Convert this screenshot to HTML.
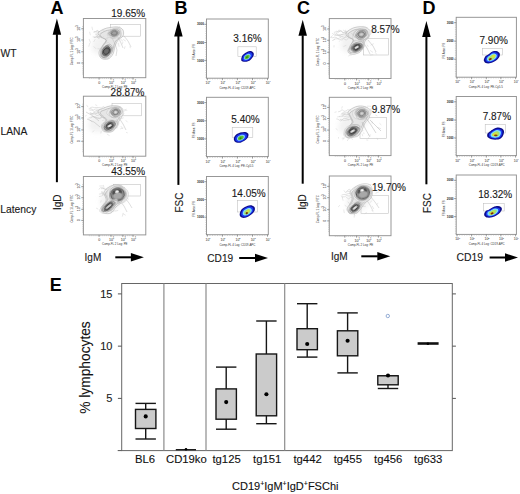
<!DOCTYPE html>
<html><head><meta charset="utf-8"><style>
html,body{margin:0;padding:0;background:#fff;}
body{width:520px;height:494px;overflow:hidden;}
svg{display:block;font-family:"Liberation Sans", sans-serif;}
</style></head><body>
<svg width="520" height="494" viewBox="0 0 520 494">
<defs>
<filter id="bl" x="-50%" y="-50%" width="200%" height="200%"><feGaussianBlur stdDeviation="2.5"/></filter>
<filter id="bs" x="-50%" y="-50%" width="200%" height="200%"><feGaussianBlur stdDeviation="0.45"/></filter>
</defs>
<rect width="520" height="494" fill="#fff"/>
<text x="50.5" y="13.8" font-size="18" font-weight="bold" fill="#000" text-anchor="start"  >A</text>
<text x="174.5" y="13.8" font-size="18" font-weight="bold" fill="#000" text-anchor="start"  >B</text>
<text x="297" y="13.8" font-size="18" font-weight="bold" fill="#000" text-anchor="start"  >C</text>
<text x="422.5" y="13.8" font-size="18" font-weight="bold" fill="#000" text-anchor="start"  >D</text>
<text x="49.8" y="290.8" font-size="18" font-weight="bold" fill="#000" text-anchor="start"  >E</text>
<text x="0.5" y="56.8" font-size="10.3" font-weight="normal" fill="#1a1a1a" text-anchor="start" stroke="#1a1a1a" stroke-width="0.12" >WT</text>
<text x="0.5" y="134.8" font-size="10.3" font-weight="normal" fill="#1a1a1a" text-anchor="start" stroke="#1a1a1a" stroke-width="0.12" >LANA</text>
<text x="0.3" y="212.6" font-size="10.3" font-weight="normal" fill="#1a1a1a" text-anchor="start" stroke="#1a1a1a" stroke-width="0.12" >Latency</text>
<path d="M56.9,18.5 L61.15,34.7 L52.65,34.7 Z" fill="#000"/>
<rect x="55.9" y="34.2" width="2" height="148.0" fill="#000"/>
<path d="M178.4,20.6 L182.65,36.5 L174.15,36.5 Z" fill="#000"/>
<rect x="177.4" y="36.0" width="2" height="148.9" fill="#000"/>
<path d="M302.7,19.8 L306.95,35.8 L298.45,35.8 Z" fill="#000"/>
<rect x="301.7" y="35.3" width="2" height="148.39999999999998" fill="#000"/>
<path d="M426.4,21.0 L430.65,37.0 L422.15,37.0 Z" fill="#000"/>
<rect x="425.4" y="36.5" width="2" height="147.8" fill="#000"/>
<text transform="translate(60.6,202.2) rotate(-90)" font-size="10" fill="#1a1a1a" text-anchor="middle" stroke="#1a1a1a" stroke-width="0.12">IgD</text>
<text transform="translate(183.2,202.6) rotate(-90)" font-size="10" fill="#1a1a1a" text-anchor="middle" stroke="#1a1a1a" stroke-width="0.12">FSC</text>
<text transform="translate(306.2,202.0) rotate(-90)" font-size="10" fill="#1a1a1a" text-anchor="middle" stroke="#1a1a1a" stroke-width="0.12">IgD</text>
<text transform="translate(431.2,203.0) rotate(-90)" font-size="10" fill="#1a1a1a" text-anchor="middle" stroke="#1a1a1a" stroke-width="0.12">FSC</text>
<text x="84.6" y="260.9" font-size="10" font-weight="normal" fill="#1a1a1a" text-anchor="start" stroke="#1a1a1a" stroke-width="0.12" >IgM</text>
<rect x="115.3" y="256.3" width="16.10000000000001" height="2" fill="#000"/>
<path d="M143.9,257.3 L130.9,253.05 L130.9,261.55 Z" fill="#000"/>
<text x="207.3" y="261.6" font-size="10.1" font-weight="normal" fill="#1a1a1a" text-anchor="start" stroke="#1a1a1a" stroke-width="0.12" >CD19</text>
<rect x="239.2" y="257.0" width="16.30000000000001" height="2" fill="#000"/>
<path d="M268.0,258.0 L255.0,253.75 L255.0,262.25 Z" fill="#000"/>
<text x="331.0" y="259.9" font-size="10" font-weight="normal" fill="#1a1a1a" text-anchor="start" stroke="#1a1a1a" stroke-width="0.12" >IgM</text>
<rect x="361.3" y="255.3" width="16.5" height="2" fill="#000"/>
<path d="M390.3,256.3 L377.3,252.05 L377.3,260.55 Z" fill="#000"/>
<text x="456.4" y="260.8" font-size="10.4" font-weight="normal" fill="#1a1a1a" text-anchor="start" stroke="#1a1a1a" stroke-width="0.12" >CD19</text>
<rect x="489.6" y="256.5" width="15.899999999999977" height="2" fill="#000"/>
<path d="M518.0,257.5 L505.0,253.25 L505.0,261.75 Z" fill="#000"/>
<rect x="83.4" y="18.5" width="62.400000000000006" height="59.2" fill="none" stroke="#929292" stroke-width="0.95"/>
<line x1="89.4" y1="77.7" x2="89.4" y2="79.0" stroke="#aaa" stroke-width="0.45"/>
<line x1="91.3" y1="77.7" x2="91.3" y2="79.0" stroke="#aaa" stroke-width="0.45"/>
<line x1="93.2" y1="77.7" x2="93.2" y2="79.0" stroke="#aaa" stroke-width="0.45"/>
<line x1="95.1" y1="77.7" x2="95.1" y2="79.0" stroke="#aaa" stroke-width="0.45"/>
<line x1="97.0" y1="77.7" x2="97.0" y2="79.0" stroke="#aaa" stroke-width="0.45"/>
<line x1="98.9" y1="77.7" x2="98.9" y2="79.0" stroke="#aaa" stroke-width="0.45"/>
<line x1="100.8" y1="77.7" x2="100.8" y2="79.0" stroke="#aaa" stroke-width="0.45"/>
<line x1="102.7" y1="77.7" x2="102.7" y2="79.0" stroke="#aaa" stroke-width="0.45"/>
<line x1="104.6" y1="77.7" x2="104.6" y2="79.0" stroke="#aaa" stroke-width="0.45"/>
<line x1="106.5" y1="77.7" x2="106.5" y2="79.0" stroke="#aaa" stroke-width="0.45"/>
<line x1="108.4" y1="77.7" x2="108.4" y2="79.0" stroke="#aaa" stroke-width="0.45"/>
<line x1="110.3" y1="77.7" x2="110.3" y2="79.0" stroke="#aaa" stroke-width="0.45"/>
<line x1="112.2" y1="77.7" x2="112.2" y2="79.0" stroke="#aaa" stroke-width="0.45"/>
<line x1="114.1" y1="77.7" x2="114.1" y2="79.0" stroke="#aaa" stroke-width="0.45"/>
<line x1="116.0" y1="77.7" x2="116.0" y2="79.0" stroke="#aaa" stroke-width="0.45"/>
<line x1="117.9" y1="77.7" x2="117.9" y2="79.0" stroke="#aaa" stroke-width="0.45"/>
<line x1="119.8" y1="77.7" x2="119.8" y2="79.0" stroke="#aaa" stroke-width="0.45"/>
<line x1="121.7" y1="77.7" x2="121.7" y2="79.0" stroke="#aaa" stroke-width="0.45"/>
<line x1="123.6" y1="77.7" x2="123.6" y2="79.0" stroke="#aaa" stroke-width="0.45"/>
<line x1="125.5" y1="77.7" x2="125.5" y2="79.0" stroke="#aaa" stroke-width="0.45"/>
<line x1="127.4" y1="77.7" x2="127.4" y2="79.0" stroke="#aaa" stroke-width="0.45"/>
<line x1="129.3" y1="77.7" x2="129.3" y2="79.0" stroke="#aaa" stroke-width="0.45"/>
<line x1="131.2" y1="77.7" x2="131.2" y2="79.0" stroke="#aaa" stroke-width="0.45"/>
<line x1="133.1" y1="77.7" x2="133.1" y2="79.0" stroke="#aaa" stroke-width="0.45"/>
<line x1="82.10000000000001" y1="26.5" x2="83.4" y2="26.5" stroke="#aaa" stroke-width="0.45"/>
<line x1="82.10000000000001" y1="28.4" x2="83.4" y2="28.4" stroke="#aaa" stroke-width="0.45"/>
<line x1="82.10000000000001" y1="30.3" x2="83.4" y2="30.3" stroke="#aaa" stroke-width="0.45"/>
<line x1="82.10000000000001" y1="32.2" x2="83.4" y2="32.2" stroke="#aaa" stroke-width="0.45"/>
<line x1="82.10000000000001" y1="34.1" x2="83.4" y2="34.1" stroke="#aaa" stroke-width="0.45"/>
<line x1="82.10000000000001" y1="36.0" x2="83.4" y2="36.0" stroke="#aaa" stroke-width="0.45"/>
<line x1="82.10000000000001" y1="37.9" x2="83.4" y2="37.9" stroke="#aaa" stroke-width="0.45"/>
<line x1="82.10000000000001" y1="39.8" x2="83.4" y2="39.8" stroke="#aaa" stroke-width="0.45"/>
<line x1="82.10000000000001" y1="41.7" x2="83.4" y2="41.7" stroke="#aaa" stroke-width="0.45"/>
<line x1="82.10000000000001" y1="43.6" x2="83.4" y2="43.6" stroke="#aaa" stroke-width="0.45"/>
<line x1="82.10000000000001" y1="45.5" x2="83.4" y2="45.5" stroke="#aaa" stroke-width="0.45"/>
<line x1="82.10000000000001" y1="47.4" x2="83.4" y2="47.4" stroke="#aaa" stroke-width="0.45"/>
<line x1="82.10000000000001" y1="49.3" x2="83.4" y2="49.3" stroke="#aaa" stroke-width="0.45"/>
<line x1="82.10000000000001" y1="51.2" x2="83.4" y2="51.2" stroke="#aaa" stroke-width="0.45"/>
<line x1="82.10000000000001" y1="53.1" x2="83.4" y2="53.1" stroke="#aaa" stroke-width="0.45"/>
<line x1="82.10000000000001" y1="55.0" x2="83.4" y2="55.0" stroke="#aaa" stroke-width="0.45"/>
<line x1="82.10000000000001" y1="56.9" x2="83.4" y2="56.9" stroke="#aaa" stroke-width="0.45"/>
<line x1="82.10000000000001" y1="58.8" x2="83.4" y2="58.8" stroke="#aaa" stroke-width="0.45"/>
<line x1="82.10000000000001" y1="60.7" x2="83.4" y2="60.7" stroke="#aaa" stroke-width="0.45"/>
<line x1="82.10000000000001" y1="62.6" x2="83.4" y2="62.6" stroke="#aaa" stroke-width="0.45"/>
<line x1="82.10000000000001" y1="64.5" x2="83.4" y2="64.5" stroke="#aaa" stroke-width="0.45"/>
<line x1="82.10000000000001" y1="66.4" x2="83.4" y2="66.4" stroke="#aaa" stroke-width="0.45"/>
<line x1="82.10000000000001" y1="68.3" x2="83.4" y2="68.3" stroke="#aaa" stroke-width="0.45"/>
<line x1="82.10000000000001" y1="70.2" x2="83.4" y2="70.2" stroke="#aaa" stroke-width="0.45"/>
<line x1="82.10000000000001" y1="72.1" x2="83.4" y2="72.1" stroke="#aaa" stroke-width="0.45"/>
<line x1="82.10000000000001" y1="74.0" x2="83.4" y2="74.0" stroke="#aaa" stroke-width="0.45"/>
<line x1="81.2" y1="28.8" x2="83.4" y2="28.8" stroke="#666" stroke-width="0.6"/>
<text transform="translate(80.0,30.7) rotate(-90)" font-size="3.6" fill="#1e1e1e">10</text>
<text transform="translate(77.80000000000001,26.8) rotate(-90)" font-size="2.6" fill="#1e1e1e">3</text>
<line x1="81.2" y1="40.0" x2="83.4" y2="40.0" stroke="#666" stroke-width="0.6"/>
<text transform="translate(80.0,41.9) rotate(-90)" font-size="3.6" fill="#1e1e1e">10</text>
<text transform="translate(77.80000000000001,38.0) rotate(-90)" font-size="2.6" fill="#1e1e1e">3</text>
<line x1="81.2" y1="51.8" x2="83.4" y2="51.8" stroke="#666" stroke-width="0.6"/>
<text transform="translate(80.0,53.7) rotate(-90)" font-size="3.6" fill="#1e1e1e">10</text>
<text transform="translate(77.80000000000001,49.8) rotate(-90)" font-size="2.6" fill="#1e1e1e">3</text>
<line x1="81.2" y1="63.0" x2="83.4" y2="63.0" stroke="#666" stroke-width="0.6"/>
<text transform="translate(80.0,63.9) rotate(-90)" font-size="3.6" fill="#1e1e1e">0</text>
<text transform="translate(72.60000000000001,65.3) rotate(-90)" font-size="2.9" fill="#333">Comp-FL 1 Log: FITC</text>
<line x1="99.1" y1="77.7" x2="99.1" y2="79.7" stroke="#666" stroke-width="0.6"/>
<text x="98.2" y="83.9" font-size="3.6" fill="#1e1e1e">0</text>
<line x1="111.0" y1="77.7" x2="111.0" y2="79.7" stroke="#666" stroke-width="0.6"/>
<text x="109.0" y="83.9" font-size="3.6" fill="#1e1e1e">10</text>
<text x="112.8" y="81.9" font-size="2.6" fill="#1e1e1e">1</text>
<line x1="122.8" y1="77.7" x2="122.8" y2="79.7" stroke="#666" stroke-width="0.6"/>
<text x="120.8" y="83.9" font-size="3.6" fill="#1e1e1e">10</text>
<text x="124.6" y="81.9" font-size="2.6" fill="#1e1e1e">1</text>
<line x1="133.0" y1="77.7" x2="133.0" y2="79.7" stroke="#666" stroke-width="0.6"/>
<text x="131.0" y="83.9" font-size="3.6" fill="#1e1e1e">10</text>
<text x="134.8" y="81.9" font-size="2.6" fill="#1e1e1e">1</text>
<text x="102.1" y="87.9" font-size="2.9" fill="#333">Comp-FL 2 Log: PE</text>
<rect x="83.4" y="96.2" width="62.400000000000006" height="59.999999999999986" fill="none" stroke="#929292" stroke-width="0.95"/>
<line x1="89.4" y1="156.2" x2="89.4" y2="157.5" stroke="#aaa" stroke-width="0.45"/>
<line x1="91.3" y1="156.2" x2="91.3" y2="157.5" stroke="#aaa" stroke-width="0.45"/>
<line x1="93.2" y1="156.2" x2="93.2" y2="157.5" stroke="#aaa" stroke-width="0.45"/>
<line x1="95.1" y1="156.2" x2="95.1" y2="157.5" stroke="#aaa" stroke-width="0.45"/>
<line x1="97.0" y1="156.2" x2="97.0" y2="157.5" stroke="#aaa" stroke-width="0.45"/>
<line x1="98.9" y1="156.2" x2="98.9" y2="157.5" stroke="#aaa" stroke-width="0.45"/>
<line x1="100.8" y1="156.2" x2="100.8" y2="157.5" stroke="#aaa" stroke-width="0.45"/>
<line x1="102.7" y1="156.2" x2="102.7" y2="157.5" stroke="#aaa" stroke-width="0.45"/>
<line x1="104.6" y1="156.2" x2="104.6" y2="157.5" stroke="#aaa" stroke-width="0.45"/>
<line x1="106.5" y1="156.2" x2="106.5" y2="157.5" stroke="#aaa" stroke-width="0.45"/>
<line x1="108.4" y1="156.2" x2="108.4" y2="157.5" stroke="#aaa" stroke-width="0.45"/>
<line x1="110.3" y1="156.2" x2="110.3" y2="157.5" stroke="#aaa" stroke-width="0.45"/>
<line x1="112.2" y1="156.2" x2="112.2" y2="157.5" stroke="#aaa" stroke-width="0.45"/>
<line x1="114.1" y1="156.2" x2="114.1" y2="157.5" stroke="#aaa" stroke-width="0.45"/>
<line x1="116.0" y1="156.2" x2="116.0" y2="157.5" stroke="#aaa" stroke-width="0.45"/>
<line x1="117.9" y1="156.2" x2="117.9" y2="157.5" stroke="#aaa" stroke-width="0.45"/>
<line x1="119.8" y1="156.2" x2="119.8" y2="157.5" stroke="#aaa" stroke-width="0.45"/>
<line x1="121.7" y1="156.2" x2="121.7" y2="157.5" stroke="#aaa" stroke-width="0.45"/>
<line x1="123.6" y1="156.2" x2="123.6" y2="157.5" stroke="#aaa" stroke-width="0.45"/>
<line x1="125.5" y1="156.2" x2="125.5" y2="157.5" stroke="#aaa" stroke-width="0.45"/>
<line x1="127.4" y1="156.2" x2="127.4" y2="157.5" stroke="#aaa" stroke-width="0.45"/>
<line x1="129.3" y1="156.2" x2="129.3" y2="157.5" stroke="#aaa" stroke-width="0.45"/>
<line x1="131.2" y1="156.2" x2="131.2" y2="157.5" stroke="#aaa" stroke-width="0.45"/>
<line x1="133.1" y1="156.2" x2="133.1" y2="157.5" stroke="#aaa" stroke-width="0.45"/>
<line x1="82.10000000000001" y1="104.2" x2="83.4" y2="104.2" stroke="#aaa" stroke-width="0.45"/>
<line x1="82.10000000000001" y1="106.1" x2="83.4" y2="106.1" stroke="#aaa" stroke-width="0.45"/>
<line x1="82.10000000000001" y1="108.0" x2="83.4" y2="108.0" stroke="#aaa" stroke-width="0.45"/>
<line x1="82.10000000000001" y1="109.9" x2="83.4" y2="109.9" stroke="#aaa" stroke-width="0.45"/>
<line x1="82.10000000000001" y1="111.8" x2="83.4" y2="111.8" stroke="#aaa" stroke-width="0.45"/>
<line x1="82.10000000000001" y1="113.7" x2="83.4" y2="113.7" stroke="#aaa" stroke-width="0.45"/>
<line x1="82.10000000000001" y1="115.6" x2="83.4" y2="115.6" stroke="#aaa" stroke-width="0.45"/>
<line x1="82.10000000000001" y1="117.5" x2="83.4" y2="117.5" stroke="#aaa" stroke-width="0.45"/>
<line x1="82.10000000000001" y1="119.4" x2="83.4" y2="119.4" stroke="#aaa" stroke-width="0.45"/>
<line x1="82.10000000000001" y1="121.3" x2="83.4" y2="121.3" stroke="#aaa" stroke-width="0.45"/>
<line x1="82.10000000000001" y1="123.2" x2="83.4" y2="123.2" stroke="#aaa" stroke-width="0.45"/>
<line x1="82.10000000000001" y1="125.1" x2="83.4" y2="125.1" stroke="#aaa" stroke-width="0.45"/>
<line x1="82.10000000000001" y1="127.0" x2="83.4" y2="127.0" stroke="#aaa" stroke-width="0.45"/>
<line x1="82.10000000000001" y1="128.9" x2="83.4" y2="128.9" stroke="#aaa" stroke-width="0.45"/>
<line x1="82.10000000000001" y1="130.8" x2="83.4" y2="130.8" stroke="#aaa" stroke-width="0.45"/>
<line x1="82.10000000000001" y1="132.7" x2="83.4" y2="132.7" stroke="#aaa" stroke-width="0.45"/>
<line x1="82.10000000000001" y1="134.6" x2="83.4" y2="134.6" stroke="#aaa" stroke-width="0.45"/>
<line x1="82.10000000000001" y1="136.5" x2="83.4" y2="136.5" stroke="#aaa" stroke-width="0.45"/>
<line x1="82.10000000000001" y1="138.4" x2="83.4" y2="138.4" stroke="#aaa" stroke-width="0.45"/>
<line x1="82.10000000000001" y1="140.3" x2="83.4" y2="140.3" stroke="#aaa" stroke-width="0.45"/>
<line x1="82.10000000000001" y1="142.2" x2="83.4" y2="142.2" stroke="#aaa" stroke-width="0.45"/>
<line x1="82.10000000000001" y1="144.1" x2="83.4" y2="144.1" stroke="#aaa" stroke-width="0.45"/>
<line x1="82.10000000000001" y1="146.0" x2="83.4" y2="146.0" stroke="#aaa" stroke-width="0.45"/>
<line x1="82.10000000000001" y1="147.9" x2="83.4" y2="147.9" stroke="#aaa" stroke-width="0.45"/>
<line x1="82.10000000000001" y1="149.8" x2="83.4" y2="149.8" stroke="#aaa" stroke-width="0.45"/>
<line x1="82.10000000000001" y1="151.7" x2="83.4" y2="151.7" stroke="#aaa" stroke-width="0.45"/>
<line x1="81.2" y1="106.6" x2="83.4" y2="106.6" stroke="#666" stroke-width="0.6"/>
<text transform="translate(80.0,108.5) rotate(-90)" font-size="3.6" fill="#1e1e1e">10</text>
<text transform="translate(77.80000000000001,104.6) rotate(-90)" font-size="2.6" fill="#1e1e1e">3</text>
<line x1="81.2" y1="118.0" x2="83.4" y2="118.0" stroke="#666" stroke-width="0.6"/>
<text transform="translate(80.0,119.9) rotate(-90)" font-size="3.6" fill="#1e1e1e">10</text>
<text transform="translate(77.80000000000001,116.0) rotate(-90)" font-size="2.6" fill="#1e1e1e">3</text>
<line x1="81.2" y1="129.9" x2="83.4" y2="129.9" stroke="#666" stroke-width="0.6"/>
<text transform="translate(80.0,131.8) rotate(-90)" font-size="3.6" fill="#1e1e1e">10</text>
<text transform="translate(77.80000000000001,127.9) rotate(-90)" font-size="2.6" fill="#1e1e1e">3</text>
<line x1="81.2" y1="141.3" x2="83.4" y2="141.3" stroke="#666" stroke-width="0.6"/>
<text transform="translate(80.0,142.2) rotate(-90)" font-size="3.6" fill="#1e1e1e">0</text>
<text transform="translate(72.60000000000001,143.6) rotate(-90)" font-size="2.9" fill="#333">Comp-FL 1 Log: FITC</text>
<line x1="99.1" y1="156.2" x2="99.1" y2="158.2" stroke="#666" stroke-width="0.6"/>
<text x="98.2" y="162.4" font-size="3.6" fill="#1e1e1e">0</text>
<line x1="111.0" y1="156.2" x2="111.0" y2="158.2" stroke="#666" stroke-width="0.6"/>
<text x="109.0" y="162.4" font-size="3.6" fill="#1e1e1e">10</text>
<text x="112.8" y="160.4" font-size="2.6" fill="#1e1e1e">1</text>
<line x1="122.8" y1="156.2" x2="122.8" y2="158.2" stroke="#666" stroke-width="0.6"/>
<text x="120.8" y="162.4" font-size="3.6" fill="#1e1e1e">10</text>
<text x="124.6" y="160.4" font-size="2.6" fill="#1e1e1e">1</text>
<line x1="133.0" y1="156.2" x2="133.0" y2="158.2" stroke="#666" stroke-width="0.6"/>
<text x="131.0" y="162.4" font-size="3.6" fill="#1e1e1e">10</text>
<text x="134.8" y="160.4" font-size="2.6" fill="#1e1e1e">1</text>
<text x="102.1" y="166.4" font-size="2.9" fill="#333">Comp-FL 2 Log: PE</text>
<rect x="83.4" y="176.5" width="62.400000000000006" height="58.400000000000006" fill="none" stroke="#929292" stroke-width="0.95"/>
<line x1="89.4" y1="234.9" x2="89.4" y2="236.20000000000002" stroke="#aaa" stroke-width="0.45"/>
<line x1="91.3" y1="234.9" x2="91.3" y2="236.20000000000002" stroke="#aaa" stroke-width="0.45"/>
<line x1="93.2" y1="234.9" x2="93.2" y2="236.20000000000002" stroke="#aaa" stroke-width="0.45"/>
<line x1="95.1" y1="234.9" x2="95.1" y2="236.20000000000002" stroke="#aaa" stroke-width="0.45"/>
<line x1="97.0" y1="234.9" x2="97.0" y2="236.20000000000002" stroke="#aaa" stroke-width="0.45"/>
<line x1="98.9" y1="234.9" x2="98.9" y2="236.20000000000002" stroke="#aaa" stroke-width="0.45"/>
<line x1="100.8" y1="234.9" x2="100.8" y2="236.20000000000002" stroke="#aaa" stroke-width="0.45"/>
<line x1="102.7" y1="234.9" x2="102.7" y2="236.20000000000002" stroke="#aaa" stroke-width="0.45"/>
<line x1="104.6" y1="234.9" x2="104.6" y2="236.20000000000002" stroke="#aaa" stroke-width="0.45"/>
<line x1="106.5" y1="234.9" x2="106.5" y2="236.20000000000002" stroke="#aaa" stroke-width="0.45"/>
<line x1="108.4" y1="234.9" x2="108.4" y2="236.20000000000002" stroke="#aaa" stroke-width="0.45"/>
<line x1="110.3" y1="234.9" x2="110.3" y2="236.20000000000002" stroke="#aaa" stroke-width="0.45"/>
<line x1="112.2" y1="234.9" x2="112.2" y2="236.20000000000002" stroke="#aaa" stroke-width="0.45"/>
<line x1="114.1" y1="234.9" x2="114.1" y2="236.20000000000002" stroke="#aaa" stroke-width="0.45"/>
<line x1="116.0" y1="234.9" x2="116.0" y2="236.20000000000002" stroke="#aaa" stroke-width="0.45"/>
<line x1="117.9" y1="234.9" x2="117.9" y2="236.20000000000002" stroke="#aaa" stroke-width="0.45"/>
<line x1="119.8" y1="234.9" x2="119.8" y2="236.20000000000002" stroke="#aaa" stroke-width="0.45"/>
<line x1="121.7" y1="234.9" x2="121.7" y2="236.20000000000002" stroke="#aaa" stroke-width="0.45"/>
<line x1="123.6" y1="234.9" x2="123.6" y2="236.20000000000002" stroke="#aaa" stroke-width="0.45"/>
<line x1="125.5" y1="234.9" x2="125.5" y2="236.20000000000002" stroke="#aaa" stroke-width="0.45"/>
<line x1="127.4" y1="234.9" x2="127.4" y2="236.20000000000002" stroke="#aaa" stroke-width="0.45"/>
<line x1="129.3" y1="234.9" x2="129.3" y2="236.20000000000002" stroke="#aaa" stroke-width="0.45"/>
<line x1="131.2" y1="234.9" x2="131.2" y2="236.20000000000002" stroke="#aaa" stroke-width="0.45"/>
<line x1="133.1" y1="234.9" x2="133.1" y2="236.20000000000002" stroke="#aaa" stroke-width="0.45"/>
<line x1="82.10000000000001" y1="184.5" x2="83.4" y2="184.5" stroke="#aaa" stroke-width="0.45"/>
<line x1="82.10000000000001" y1="186.4" x2="83.4" y2="186.4" stroke="#aaa" stroke-width="0.45"/>
<line x1="82.10000000000001" y1="188.3" x2="83.4" y2="188.3" stroke="#aaa" stroke-width="0.45"/>
<line x1="82.10000000000001" y1="190.2" x2="83.4" y2="190.2" stroke="#aaa" stroke-width="0.45"/>
<line x1="82.10000000000001" y1="192.1" x2="83.4" y2="192.1" stroke="#aaa" stroke-width="0.45"/>
<line x1="82.10000000000001" y1="194.0" x2="83.4" y2="194.0" stroke="#aaa" stroke-width="0.45"/>
<line x1="82.10000000000001" y1="195.9" x2="83.4" y2="195.9" stroke="#aaa" stroke-width="0.45"/>
<line x1="82.10000000000001" y1="197.8" x2="83.4" y2="197.8" stroke="#aaa" stroke-width="0.45"/>
<line x1="82.10000000000001" y1="199.7" x2="83.4" y2="199.7" stroke="#aaa" stroke-width="0.45"/>
<line x1="82.10000000000001" y1="201.6" x2="83.4" y2="201.6" stroke="#aaa" stroke-width="0.45"/>
<line x1="82.10000000000001" y1="203.5" x2="83.4" y2="203.5" stroke="#aaa" stroke-width="0.45"/>
<line x1="82.10000000000001" y1="205.4" x2="83.4" y2="205.4" stroke="#aaa" stroke-width="0.45"/>
<line x1="82.10000000000001" y1="207.3" x2="83.4" y2="207.3" stroke="#aaa" stroke-width="0.45"/>
<line x1="82.10000000000001" y1="209.2" x2="83.4" y2="209.2" stroke="#aaa" stroke-width="0.45"/>
<line x1="82.10000000000001" y1="211.1" x2="83.4" y2="211.1" stroke="#aaa" stroke-width="0.45"/>
<line x1="82.10000000000001" y1="213.0" x2="83.4" y2="213.0" stroke="#aaa" stroke-width="0.45"/>
<line x1="82.10000000000001" y1="214.9" x2="83.4" y2="214.9" stroke="#aaa" stroke-width="0.45"/>
<line x1="82.10000000000001" y1="216.8" x2="83.4" y2="216.8" stroke="#aaa" stroke-width="0.45"/>
<line x1="82.10000000000001" y1="218.7" x2="83.4" y2="218.7" stroke="#aaa" stroke-width="0.45"/>
<line x1="82.10000000000001" y1="220.6" x2="83.4" y2="220.6" stroke="#aaa" stroke-width="0.45"/>
<line x1="82.10000000000001" y1="222.5" x2="83.4" y2="222.5" stroke="#aaa" stroke-width="0.45"/>
<line x1="82.10000000000001" y1="224.4" x2="83.4" y2="224.4" stroke="#aaa" stroke-width="0.45"/>
<line x1="82.10000000000001" y1="226.3" x2="83.4" y2="226.3" stroke="#aaa" stroke-width="0.45"/>
<line x1="82.10000000000001" y1="228.2" x2="83.4" y2="228.2" stroke="#aaa" stroke-width="0.45"/>
<line x1="82.10000000000001" y1="230.1" x2="83.4" y2="230.1" stroke="#aaa" stroke-width="0.45"/>
<line x1="82.10000000000001" y1="232.0" x2="83.4" y2="232.0" stroke="#aaa" stroke-width="0.45"/>
<line x1="81.2" y1="186.7" x2="83.4" y2="186.7" stroke="#666" stroke-width="0.6"/>
<text transform="translate(80.0,188.6) rotate(-90)" font-size="3.6" fill="#1e1e1e">10</text>
<text transform="translate(77.80000000000001,184.7) rotate(-90)" font-size="2.6" fill="#1e1e1e">3</text>
<line x1="81.2" y1="197.7" x2="83.4" y2="197.7" stroke="#666" stroke-width="0.6"/>
<text transform="translate(80.0,199.6) rotate(-90)" font-size="3.6" fill="#1e1e1e">10</text>
<text transform="translate(77.80000000000001,195.7) rotate(-90)" font-size="2.6" fill="#1e1e1e">3</text>
<line x1="81.2" y1="209.3" x2="83.4" y2="209.3" stroke="#666" stroke-width="0.6"/>
<text transform="translate(80.0,211.2) rotate(-90)" font-size="3.6" fill="#1e1e1e">10</text>
<text transform="translate(77.80000000000001,207.3) rotate(-90)" font-size="2.6" fill="#1e1e1e">3</text>
<line x1="81.2" y1="220.4" x2="83.4" y2="220.4" stroke="#666" stroke-width="0.6"/>
<text transform="translate(80.0,221.3) rotate(-90)" font-size="3.6" fill="#1e1e1e">0</text>
<text transform="translate(72.60000000000001,222.6) rotate(-90)" font-size="2.9" fill="#333">Comp-FL 1 Log: FITC</text>
<line x1="99.1" y1="234.9" x2="99.1" y2="236.9" stroke="#666" stroke-width="0.6"/>
<text x="98.2" y="241.1" font-size="3.6" fill="#1e1e1e">0</text>
<line x1="111.0" y1="234.9" x2="111.0" y2="236.9" stroke="#666" stroke-width="0.6"/>
<text x="109.0" y="241.1" font-size="3.6" fill="#1e1e1e">10</text>
<text x="112.8" y="239.1" font-size="2.6" fill="#1e1e1e">1</text>
<line x1="122.8" y1="234.9" x2="122.8" y2="236.9" stroke="#666" stroke-width="0.6"/>
<text x="120.8" y="241.1" font-size="3.6" fill="#1e1e1e">10</text>
<text x="124.6" y="239.1" font-size="2.6" fill="#1e1e1e">1</text>
<line x1="133.0" y1="234.9" x2="133.0" y2="236.9" stroke="#666" stroke-width="0.6"/>
<text x="131.0" y="241.1" font-size="3.6" fill="#1e1e1e">10</text>
<text x="134.8" y="239.1" font-size="2.6" fill="#1e1e1e">1</text>
<text x="102.1" y="245.1" font-size="2.9" fill="#333">Comp-FL 2 Log: PE</text>
<rect x="329.3" y="18.6" width="61.69999999999999" height="59.9" fill="none" stroke="#929292" stroke-width="0.95"/>
<line x1="335.3" y1="78.5" x2="335.3" y2="79.8" stroke="#aaa" stroke-width="0.45"/>
<line x1="337.2" y1="78.5" x2="337.2" y2="79.8" stroke="#aaa" stroke-width="0.45"/>
<line x1="339.1" y1="78.5" x2="339.1" y2="79.8" stroke="#aaa" stroke-width="0.45"/>
<line x1="341.0" y1="78.5" x2="341.0" y2="79.8" stroke="#aaa" stroke-width="0.45"/>
<line x1="342.9" y1="78.5" x2="342.9" y2="79.8" stroke="#aaa" stroke-width="0.45"/>
<line x1="344.8" y1="78.5" x2="344.8" y2="79.8" stroke="#aaa" stroke-width="0.45"/>
<line x1="346.7" y1="78.5" x2="346.7" y2="79.8" stroke="#aaa" stroke-width="0.45"/>
<line x1="348.6" y1="78.5" x2="348.6" y2="79.8" stroke="#aaa" stroke-width="0.45"/>
<line x1="350.5" y1="78.5" x2="350.5" y2="79.8" stroke="#aaa" stroke-width="0.45"/>
<line x1="352.4" y1="78.5" x2="352.4" y2="79.8" stroke="#aaa" stroke-width="0.45"/>
<line x1="354.3" y1="78.5" x2="354.3" y2="79.8" stroke="#aaa" stroke-width="0.45"/>
<line x1="356.2" y1="78.5" x2="356.2" y2="79.8" stroke="#aaa" stroke-width="0.45"/>
<line x1="358.1" y1="78.5" x2="358.1" y2="79.8" stroke="#aaa" stroke-width="0.45"/>
<line x1="360.0" y1="78.5" x2="360.0" y2="79.8" stroke="#aaa" stroke-width="0.45"/>
<line x1="361.9" y1="78.5" x2="361.9" y2="79.8" stroke="#aaa" stroke-width="0.45"/>
<line x1="363.8" y1="78.5" x2="363.8" y2="79.8" stroke="#aaa" stroke-width="0.45"/>
<line x1="365.7" y1="78.5" x2="365.7" y2="79.8" stroke="#aaa" stroke-width="0.45"/>
<line x1="367.6" y1="78.5" x2="367.6" y2="79.8" stroke="#aaa" stroke-width="0.45"/>
<line x1="369.5" y1="78.5" x2="369.5" y2="79.8" stroke="#aaa" stroke-width="0.45"/>
<line x1="371.4" y1="78.5" x2="371.4" y2="79.8" stroke="#aaa" stroke-width="0.45"/>
<line x1="373.3" y1="78.5" x2="373.3" y2="79.8" stroke="#aaa" stroke-width="0.45"/>
<line x1="375.2" y1="78.5" x2="375.2" y2="79.8" stroke="#aaa" stroke-width="0.45"/>
<line x1="377.1" y1="78.5" x2="377.1" y2="79.8" stroke="#aaa" stroke-width="0.45"/>
<line x1="379.0" y1="78.5" x2="379.0" y2="79.8" stroke="#aaa" stroke-width="0.45"/>
<line x1="328.0" y1="26.6" x2="329.3" y2="26.6" stroke="#aaa" stroke-width="0.45"/>
<line x1="328.0" y1="28.5" x2="329.3" y2="28.5" stroke="#aaa" stroke-width="0.45"/>
<line x1="328.0" y1="30.4" x2="329.3" y2="30.4" stroke="#aaa" stroke-width="0.45"/>
<line x1="328.0" y1="32.3" x2="329.3" y2="32.3" stroke="#aaa" stroke-width="0.45"/>
<line x1="328.0" y1="34.2" x2="329.3" y2="34.2" stroke="#aaa" stroke-width="0.45"/>
<line x1="328.0" y1="36.1" x2="329.3" y2="36.1" stroke="#aaa" stroke-width="0.45"/>
<line x1="328.0" y1="38.0" x2="329.3" y2="38.0" stroke="#aaa" stroke-width="0.45"/>
<line x1="328.0" y1="39.9" x2="329.3" y2="39.9" stroke="#aaa" stroke-width="0.45"/>
<line x1="328.0" y1="41.8" x2="329.3" y2="41.8" stroke="#aaa" stroke-width="0.45"/>
<line x1="328.0" y1="43.7" x2="329.3" y2="43.7" stroke="#aaa" stroke-width="0.45"/>
<line x1="328.0" y1="45.6" x2="329.3" y2="45.6" stroke="#aaa" stroke-width="0.45"/>
<line x1="328.0" y1="47.5" x2="329.3" y2="47.5" stroke="#aaa" stroke-width="0.45"/>
<line x1="328.0" y1="49.4" x2="329.3" y2="49.4" stroke="#aaa" stroke-width="0.45"/>
<line x1="328.0" y1="51.3" x2="329.3" y2="51.3" stroke="#aaa" stroke-width="0.45"/>
<line x1="328.0" y1="53.2" x2="329.3" y2="53.2" stroke="#aaa" stroke-width="0.45"/>
<line x1="328.0" y1="55.1" x2="329.3" y2="55.1" stroke="#aaa" stroke-width="0.45"/>
<line x1="328.0" y1="57.0" x2="329.3" y2="57.0" stroke="#aaa" stroke-width="0.45"/>
<line x1="328.0" y1="58.9" x2="329.3" y2="58.9" stroke="#aaa" stroke-width="0.45"/>
<line x1="328.0" y1="60.8" x2="329.3" y2="60.8" stroke="#aaa" stroke-width="0.45"/>
<line x1="328.0" y1="62.7" x2="329.3" y2="62.7" stroke="#aaa" stroke-width="0.45"/>
<line x1="328.0" y1="64.6" x2="329.3" y2="64.6" stroke="#aaa" stroke-width="0.45"/>
<line x1="328.0" y1="66.5" x2="329.3" y2="66.5" stroke="#aaa" stroke-width="0.45"/>
<line x1="328.0" y1="68.4" x2="329.3" y2="68.4" stroke="#aaa" stroke-width="0.45"/>
<line x1="328.0" y1="70.3" x2="329.3" y2="70.3" stroke="#aaa" stroke-width="0.45"/>
<line x1="328.0" y1="72.2" x2="329.3" y2="72.2" stroke="#aaa" stroke-width="0.45"/>
<line x1="328.0" y1="74.1" x2="329.3" y2="74.1" stroke="#aaa" stroke-width="0.45"/>
<line x1="327.1" y1="29.0" x2="329.3" y2="29.0" stroke="#666" stroke-width="0.6"/>
<text transform="translate(325.90000000000003,30.9) rotate(-90)" font-size="3.6" fill="#1e1e1e">10</text>
<text transform="translate(323.7,27.0) rotate(-90)" font-size="2.6" fill="#1e1e1e">3</text>
<line x1="327.1" y1="40.3" x2="329.3" y2="40.3" stroke="#666" stroke-width="0.6"/>
<text transform="translate(325.90000000000003,42.2) rotate(-90)" font-size="3.6" fill="#1e1e1e">10</text>
<text transform="translate(323.7,38.3) rotate(-90)" font-size="2.6" fill="#1e1e1e">3</text>
<line x1="327.1" y1="52.3" x2="329.3" y2="52.3" stroke="#666" stroke-width="0.6"/>
<text transform="translate(325.90000000000003,54.2) rotate(-90)" font-size="3.6" fill="#1e1e1e">10</text>
<text transform="translate(323.7,50.3) rotate(-90)" font-size="2.6" fill="#1e1e1e">3</text>
<line x1="327.1" y1="63.6" x2="329.3" y2="63.6" stroke="#666" stroke-width="0.6"/>
<text transform="translate(325.90000000000003,64.5) rotate(-90)" font-size="3.6" fill="#1e1e1e">0</text>
<text transform="translate(318.5,65.9) rotate(-90)" font-size="2.9" fill="#333">Comp-FL 1 Log: FITC</text>
<line x1="344.8" y1="78.5" x2="344.8" y2="80.5" stroke="#666" stroke-width="0.6"/>
<text x="343.9" y="84.7" font-size="3.6" fill="#1e1e1e">0</text>
<line x1="356.6" y1="78.5" x2="356.6" y2="80.5" stroke="#666" stroke-width="0.6"/>
<text x="354.6" y="84.7" font-size="3.6" fill="#1e1e1e">10</text>
<text x="358.4" y="82.7" font-size="2.6" fill="#1e1e1e">1</text>
<line x1="368.3" y1="78.5" x2="368.3" y2="80.5" stroke="#666" stroke-width="0.6"/>
<text x="366.3" y="84.7" font-size="3.6" fill="#1e1e1e">10</text>
<text x="370.1" y="82.7" font-size="2.6" fill="#1e1e1e">1</text>
<line x1="378.4" y1="78.5" x2="378.4" y2="80.5" stroke="#666" stroke-width="0.6"/>
<text x="376.4" y="84.7" font-size="3.6" fill="#1e1e1e">10</text>
<text x="380.2" y="82.7" font-size="2.6" fill="#1e1e1e">1</text>
<text x="347.8" y="88.7" font-size="2.9" fill="#333">Comp-FL 2 Log: PE</text>
<rect x="329.3" y="97.3" width="61.69999999999999" height="58.3" fill="none" stroke="#929292" stroke-width="0.95"/>
<line x1="335.3" y1="155.6" x2="335.3" y2="156.9" stroke="#aaa" stroke-width="0.45"/>
<line x1="337.2" y1="155.6" x2="337.2" y2="156.9" stroke="#aaa" stroke-width="0.45"/>
<line x1="339.1" y1="155.6" x2="339.1" y2="156.9" stroke="#aaa" stroke-width="0.45"/>
<line x1="341.0" y1="155.6" x2="341.0" y2="156.9" stroke="#aaa" stroke-width="0.45"/>
<line x1="342.9" y1="155.6" x2="342.9" y2="156.9" stroke="#aaa" stroke-width="0.45"/>
<line x1="344.8" y1="155.6" x2="344.8" y2="156.9" stroke="#aaa" stroke-width="0.45"/>
<line x1="346.7" y1="155.6" x2="346.7" y2="156.9" stroke="#aaa" stroke-width="0.45"/>
<line x1="348.6" y1="155.6" x2="348.6" y2="156.9" stroke="#aaa" stroke-width="0.45"/>
<line x1="350.5" y1="155.6" x2="350.5" y2="156.9" stroke="#aaa" stroke-width="0.45"/>
<line x1="352.4" y1="155.6" x2="352.4" y2="156.9" stroke="#aaa" stroke-width="0.45"/>
<line x1="354.3" y1="155.6" x2="354.3" y2="156.9" stroke="#aaa" stroke-width="0.45"/>
<line x1="356.2" y1="155.6" x2="356.2" y2="156.9" stroke="#aaa" stroke-width="0.45"/>
<line x1="358.1" y1="155.6" x2="358.1" y2="156.9" stroke="#aaa" stroke-width="0.45"/>
<line x1="360.0" y1="155.6" x2="360.0" y2="156.9" stroke="#aaa" stroke-width="0.45"/>
<line x1="361.9" y1="155.6" x2="361.9" y2="156.9" stroke="#aaa" stroke-width="0.45"/>
<line x1="363.8" y1="155.6" x2="363.8" y2="156.9" stroke="#aaa" stroke-width="0.45"/>
<line x1="365.7" y1="155.6" x2="365.7" y2="156.9" stroke="#aaa" stroke-width="0.45"/>
<line x1="367.6" y1="155.6" x2="367.6" y2="156.9" stroke="#aaa" stroke-width="0.45"/>
<line x1="369.5" y1="155.6" x2="369.5" y2="156.9" stroke="#aaa" stroke-width="0.45"/>
<line x1="371.4" y1="155.6" x2="371.4" y2="156.9" stroke="#aaa" stroke-width="0.45"/>
<line x1="373.3" y1="155.6" x2="373.3" y2="156.9" stroke="#aaa" stroke-width="0.45"/>
<line x1="375.2" y1="155.6" x2="375.2" y2="156.9" stroke="#aaa" stroke-width="0.45"/>
<line x1="377.1" y1="155.6" x2="377.1" y2="156.9" stroke="#aaa" stroke-width="0.45"/>
<line x1="379.0" y1="155.6" x2="379.0" y2="156.9" stroke="#aaa" stroke-width="0.45"/>
<line x1="328.0" y1="105.3" x2="329.3" y2="105.3" stroke="#aaa" stroke-width="0.45"/>
<line x1="328.0" y1="107.2" x2="329.3" y2="107.2" stroke="#aaa" stroke-width="0.45"/>
<line x1="328.0" y1="109.1" x2="329.3" y2="109.1" stroke="#aaa" stroke-width="0.45"/>
<line x1="328.0" y1="111.0" x2="329.3" y2="111.0" stroke="#aaa" stroke-width="0.45"/>
<line x1="328.0" y1="112.9" x2="329.3" y2="112.9" stroke="#aaa" stroke-width="0.45"/>
<line x1="328.0" y1="114.8" x2="329.3" y2="114.8" stroke="#aaa" stroke-width="0.45"/>
<line x1="328.0" y1="116.7" x2="329.3" y2="116.7" stroke="#aaa" stroke-width="0.45"/>
<line x1="328.0" y1="118.6" x2="329.3" y2="118.6" stroke="#aaa" stroke-width="0.45"/>
<line x1="328.0" y1="120.5" x2="329.3" y2="120.5" stroke="#aaa" stroke-width="0.45"/>
<line x1="328.0" y1="122.4" x2="329.3" y2="122.4" stroke="#aaa" stroke-width="0.45"/>
<line x1="328.0" y1="124.3" x2="329.3" y2="124.3" stroke="#aaa" stroke-width="0.45"/>
<line x1="328.0" y1="126.2" x2="329.3" y2="126.2" stroke="#aaa" stroke-width="0.45"/>
<line x1="328.0" y1="128.1" x2="329.3" y2="128.1" stroke="#aaa" stroke-width="0.45"/>
<line x1="328.0" y1="130.0" x2="329.3" y2="130.0" stroke="#aaa" stroke-width="0.45"/>
<line x1="328.0" y1="131.9" x2="329.3" y2="131.9" stroke="#aaa" stroke-width="0.45"/>
<line x1="328.0" y1="133.8" x2="329.3" y2="133.8" stroke="#aaa" stroke-width="0.45"/>
<line x1="328.0" y1="135.7" x2="329.3" y2="135.7" stroke="#aaa" stroke-width="0.45"/>
<line x1="328.0" y1="137.6" x2="329.3" y2="137.6" stroke="#aaa" stroke-width="0.45"/>
<line x1="328.0" y1="139.5" x2="329.3" y2="139.5" stroke="#aaa" stroke-width="0.45"/>
<line x1="328.0" y1="141.4" x2="329.3" y2="141.4" stroke="#aaa" stroke-width="0.45"/>
<line x1="328.0" y1="143.3" x2="329.3" y2="143.3" stroke="#aaa" stroke-width="0.45"/>
<line x1="328.0" y1="145.2" x2="329.3" y2="145.2" stroke="#aaa" stroke-width="0.45"/>
<line x1="328.0" y1="147.1" x2="329.3" y2="147.1" stroke="#aaa" stroke-width="0.45"/>
<line x1="328.0" y1="149.0" x2="329.3" y2="149.0" stroke="#aaa" stroke-width="0.45"/>
<line x1="328.0" y1="150.9" x2="329.3" y2="150.9" stroke="#aaa" stroke-width="0.45"/>
<line x1="328.0" y1="152.8" x2="329.3" y2="152.8" stroke="#aaa" stroke-width="0.45"/>
<line x1="327.1" y1="107.4" x2="329.3" y2="107.4" stroke="#666" stroke-width="0.6"/>
<text transform="translate(325.90000000000003,109.3) rotate(-90)" font-size="3.6" fill="#1e1e1e">10</text>
<text transform="translate(323.7,105.4) rotate(-90)" font-size="2.6" fill="#1e1e1e">3</text>
<line x1="327.1" y1="118.5" x2="329.3" y2="118.5" stroke="#666" stroke-width="0.6"/>
<text transform="translate(325.90000000000003,120.4) rotate(-90)" font-size="3.6" fill="#1e1e1e">10</text>
<text transform="translate(323.7,116.5) rotate(-90)" font-size="2.6" fill="#1e1e1e">3</text>
<line x1="327.1" y1="130.1" x2="329.3" y2="130.1" stroke="#666" stroke-width="0.6"/>
<text transform="translate(325.90000000000003,132.0) rotate(-90)" font-size="3.6" fill="#1e1e1e">10</text>
<text transform="translate(323.7,128.1) rotate(-90)" font-size="2.6" fill="#1e1e1e">3</text>
<line x1="327.1" y1="141.1" x2="329.3" y2="141.1" stroke="#666" stroke-width="0.6"/>
<text transform="translate(325.90000000000003,142.0) rotate(-90)" font-size="3.6" fill="#1e1e1e">0</text>
<text transform="translate(318.5,143.4) rotate(-90)" font-size="2.9" fill="#333">Comp-FL 1 Log: FITC</text>
<line x1="344.8" y1="155.6" x2="344.8" y2="157.6" stroke="#666" stroke-width="0.6"/>
<text x="343.9" y="161.8" font-size="3.6" fill="#1e1e1e">0</text>
<line x1="356.6" y1="155.6" x2="356.6" y2="157.6" stroke="#666" stroke-width="0.6"/>
<text x="354.6" y="161.8" font-size="3.6" fill="#1e1e1e">10</text>
<text x="358.4" y="159.8" font-size="2.6" fill="#1e1e1e">1</text>
<line x1="368.3" y1="155.6" x2="368.3" y2="157.6" stroke="#666" stroke-width="0.6"/>
<text x="366.3" y="161.8" font-size="3.6" fill="#1e1e1e">10</text>
<text x="370.1" y="159.8" font-size="2.6" fill="#1e1e1e">1</text>
<line x1="378.4" y1="155.6" x2="378.4" y2="157.6" stroke="#666" stroke-width="0.6"/>
<text x="376.4" y="161.8" font-size="3.6" fill="#1e1e1e">10</text>
<text x="380.2" y="159.8" font-size="2.6" fill="#1e1e1e">1</text>
<text x="347.8" y="165.8" font-size="2.9" fill="#333">Comp-FL 2 Log: PE</text>
<rect x="329.3" y="176.0" width="61.69999999999999" height="59.69999999999999" fill="none" stroke="#929292" stroke-width="0.95"/>
<line x1="335.3" y1="235.7" x2="335.3" y2="237.0" stroke="#aaa" stroke-width="0.45"/>
<line x1="337.2" y1="235.7" x2="337.2" y2="237.0" stroke="#aaa" stroke-width="0.45"/>
<line x1="339.1" y1="235.7" x2="339.1" y2="237.0" stroke="#aaa" stroke-width="0.45"/>
<line x1="341.0" y1="235.7" x2="341.0" y2="237.0" stroke="#aaa" stroke-width="0.45"/>
<line x1="342.9" y1="235.7" x2="342.9" y2="237.0" stroke="#aaa" stroke-width="0.45"/>
<line x1="344.8" y1="235.7" x2="344.8" y2="237.0" stroke="#aaa" stroke-width="0.45"/>
<line x1="346.7" y1="235.7" x2="346.7" y2="237.0" stroke="#aaa" stroke-width="0.45"/>
<line x1="348.6" y1="235.7" x2="348.6" y2="237.0" stroke="#aaa" stroke-width="0.45"/>
<line x1="350.5" y1="235.7" x2="350.5" y2="237.0" stroke="#aaa" stroke-width="0.45"/>
<line x1="352.4" y1="235.7" x2="352.4" y2="237.0" stroke="#aaa" stroke-width="0.45"/>
<line x1="354.3" y1="235.7" x2="354.3" y2="237.0" stroke="#aaa" stroke-width="0.45"/>
<line x1="356.2" y1="235.7" x2="356.2" y2="237.0" stroke="#aaa" stroke-width="0.45"/>
<line x1="358.1" y1="235.7" x2="358.1" y2="237.0" stroke="#aaa" stroke-width="0.45"/>
<line x1="360.0" y1="235.7" x2="360.0" y2="237.0" stroke="#aaa" stroke-width="0.45"/>
<line x1="361.9" y1="235.7" x2="361.9" y2="237.0" stroke="#aaa" stroke-width="0.45"/>
<line x1="363.8" y1="235.7" x2="363.8" y2="237.0" stroke="#aaa" stroke-width="0.45"/>
<line x1="365.7" y1="235.7" x2="365.7" y2="237.0" stroke="#aaa" stroke-width="0.45"/>
<line x1="367.6" y1="235.7" x2="367.6" y2="237.0" stroke="#aaa" stroke-width="0.45"/>
<line x1="369.5" y1="235.7" x2="369.5" y2="237.0" stroke="#aaa" stroke-width="0.45"/>
<line x1="371.4" y1="235.7" x2="371.4" y2="237.0" stroke="#aaa" stroke-width="0.45"/>
<line x1="373.3" y1="235.7" x2="373.3" y2="237.0" stroke="#aaa" stroke-width="0.45"/>
<line x1="375.2" y1="235.7" x2="375.2" y2="237.0" stroke="#aaa" stroke-width="0.45"/>
<line x1="377.1" y1="235.7" x2="377.1" y2="237.0" stroke="#aaa" stroke-width="0.45"/>
<line x1="379.0" y1="235.7" x2="379.0" y2="237.0" stroke="#aaa" stroke-width="0.45"/>
<line x1="328.0" y1="184.0" x2="329.3" y2="184.0" stroke="#aaa" stroke-width="0.45"/>
<line x1="328.0" y1="185.9" x2="329.3" y2="185.9" stroke="#aaa" stroke-width="0.45"/>
<line x1="328.0" y1="187.8" x2="329.3" y2="187.8" stroke="#aaa" stroke-width="0.45"/>
<line x1="328.0" y1="189.7" x2="329.3" y2="189.7" stroke="#aaa" stroke-width="0.45"/>
<line x1="328.0" y1="191.6" x2="329.3" y2="191.6" stroke="#aaa" stroke-width="0.45"/>
<line x1="328.0" y1="193.5" x2="329.3" y2="193.5" stroke="#aaa" stroke-width="0.45"/>
<line x1="328.0" y1="195.4" x2="329.3" y2="195.4" stroke="#aaa" stroke-width="0.45"/>
<line x1="328.0" y1="197.3" x2="329.3" y2="197.3" stroke="#aaa" stroke-width="0.45"/>
<line x1="328.0" y1="199.2" x2="329.3" y2="199.2" stroke="#aaa" stroke-width="0.45"/>
<line x1="328.0" y1="201.1" x2="329.3" y2="201.1" stroke="#aaa" stroke-width="0.45"/>
<line x1="328.0" y1="203.0" x2="329.3" y2="203.0" stroke="#aaa" stroke-width="0.45"/>
<line x1="328.0" y1="204.9" x2="329.3" y2="204.9" stroke="#aaa" stroke-width="0.45"/>
<line x1="328.0" y1="206.8" x2="329.3" y2="206.8" stroke="#aaa" stroke-width="0.45"/>
<line x1="328.0" y1="208.7" x2="329.3" y2="208.7" stroke="#aaa" stroke-width="0.45"/>
<line x1="328.0" y1="210.6" x2="329.3" y2="210.6" stroke="#aaa" stroke-width="0.45"/>
<line x1="328.0" y1="212.5" x2="329.3" y2="212.5" stroke="#aaa" stroke-width="0.45"/>
<line x1="328.0" y1="214.4" x2="329.3" y2="214.4" stroke="#aaa" stroke-width="0.45"/>
<line x1="328.0" y1="216.3" x2="329.3" y2="216.3" stroke="#aaa" stroke-width="0.45"/>
<line x1="328.0" y1="218.2" x2="329.3" y2="218.2" stroke="#aaa" stroke-width="0.45"/>
<line x1="328.0" y1="220.1" x2="329.3" y2="220.1" stroke="#aaa" stroke-width="0.45"/>
<line x1="328.0" y1="222.0" x2="329.3" y2="222.0" stroke="#aaa" stroke-width="0.45"/>
<line x1="328.0" y1="223.9" x2="329.3" y2="223.9" stroke="#aaa" stroke-width="0.45"/>
<line x1="328.0" y1="225.8" x2="329.3" y2="225.8" stroke="#aaa" stroke-width="0.45"/>
<line x1="328.0" y1="227.7" x2="329.3" y2="227.7" stroke="#aaa" stroke-width="0.45"/>
<line x1="328.0" y1="229.6" x2="329.3" y2="229.6" stroke="#aaa" stroke-width="0.45"/>
<line x1="328.0" y1="231.5" x2="329.3" y2="231.5" stroke="#aaa" stroke-width="0.45"/>
<line x1="327.1" y1="186.4" x2="329.3" y2="186.4" stroke="#666" stroke-width="0.6"/>
<text transform="translate(325.90000000000003,188.3) rotate(-90)" font-size="3.6" fill="#1e1e1e">10</text>
<text transform="translate(323.7,184.4) rotate(-90)" font-size="2.6" fill="#1e1e1e">3</text>
<line x1="327.1" y1="197.7" x2="329.3" y2="197.7" stroke="#666" stroke-width="0.6"/>
<text transform="translate(325.90000000000003,199.6) rotate(-90)" font-size="3.6" fill="#1e1e1e">10</text>
<text transform="translate(323.7,195.7) rotate(-90)" font-size="2.6" fill="#1e1e1e">3</text>
<line x1="327.1" y1="209.6" x2="329.3" y2="209.6" stroke="#666" stroke-width="0.6"/>
<text transform="translate(325.90000000000003,211.5) rotate(-90)" font-size="3.6" fill="#1e1e1e">10</text>
<text transform="translate(323.7,207.6) rotate(-90)" font-size="2.6" fill="#1e1e1e">3</text>
<line x1="327.1" y1="220.9" x2="329.3" y2="220.9" stroke="#666" stroke-width="0.6"/>
<text transform="translate(325.90000000000003,221.8) rotate(-90)" font-size="3.6" fill="#1e1e1e">0</text>
<text transform="translate(318.5,223.2) rotate(-90)" font-size="2.9" fill="#333">Comp-FL 1 Log: FITC</text>
<line x1="344.8" y1="235.7" x2="344.8" y2="237.7" stroke="#666" stroke-width="0.6"/>
<text x="343.9" y="241.9" font-size="3.6" fill="#1e1e1e">0</text>
<line x1="356.6" y1="235.7" x2="356.6" y2="237.7" stroke="#666" stroke-width="0.6"/>
<text x="354.6" y="241.9" font-size="3.6" fill="#1e1e1e">10</text>
<text x="358.4" y="239.9" font-size="2.6" fill="#1e1e1e">1</text>
<line x1="368.3" y1="235.7" x2="368.3" y2="237.7" stroke="#666" stroke-width="0.6"/>
<text x="366.3" y="241.9" font-size="3.6" fill="#1e1e1e">10</text>
<text x="370.1" y="239.9" font-size="2.6" fill="#1e1e1e">1</text>
<line x1="378.4" y1="235.7" x2="378.4" y2="237.7" stroke="#666" stroke-width="0.6"/>
<text x="376.4" y="241.9" font-size="3.6" fill="#1e1e1e">10</text>
<text x="380.2" y="239.9" font-size="2.6" fill="#1e1e1e">1</text>
<text x="347.8" y="245.9" font-size="2.9" fill="#333">Comp-FL 2 Log: PE</text>
<rect x="206.5" y="19.0" width="61.80000000000001" height="59.2" fill="none" stroke="#929292" stroke-width="0.95"/>
<line x1="207.5" y1="78.2" x2="207.5" y2="79.5" stroke="#aaa" stroke-width="0.45"/>
<line x1="210.0" y1="78.2" x2="210.0" y2="79.5" stroke="#aaa" stroke-width="0.45"/>
<line x1="212.5" y1="78.2" x2="212.5" y2="79.5" stroke="#aaa" stroke-width="0.45"/>
<line x1="215.0" y1="78.2" x2="215.0" y2="79.5" stroke="#aaa" stroke-width="0.45"/>
<line x1="217.5" y1="78.2" x2="217.5" y2="79.5" stroke="#aaa" stroke-width="0.45"/>
<line x1="220.0" y1="78.2" x2="220.0" y2="79.5" stroke="#aaa" stroke-width="0.45"/>
<line x1="222.4" y1="78.2" x2="222.4" y2="79.5" stroke="#aaa" stroke-width="0.45"/>
<line x1="224.9" y1="78.2" x2="224.9" y2="79.5" stroke="#aaa" stroke-width="0.45"/>
<line x1="227.4" y1="78.2" x2="227.4" y2="79.5" stroke="#aaa" stroke-width="0.45"/>
<line x1="229.9" y1="78.2" x2="229.9" y2="79.5" stroke="#aaa" stroke-width="0.45"/>
<line x1="232.4" y1="78.2" x2="232.4" y2="79.5" stroke="#aaa" stroke-width="0.45"/>
<line x1="234.9" y1="78.2" x2="234.9" y2="79.5" stroke="#aaa" stroke-width="0.45"/>
<line x1="237.4" y1="78.2" x2="237.4" y2="79.5" stroke="#aaa" stroke-width="0.45"/>
<line x1="239.9" y1="78.2" x2="239.9" y2="79.5" stroke="#aaa" stroke-width="0.45"/>
<line x1="242.4" y1="78.2" x2="242.4" y2="79.5" stroke="#aaa" stroke-width="0.45"/>
<line x1="244.9" y1="78.2" x2="244.9" y2="79.5" stroke="#aaa" stroke-width="0.45"/>
<line x1="247.4" y1="78.2" x2="247.4" y2="79.5" stroke="#aaa" stroke-width="0.45"/>
<line x1="249.9" y1="78.2" x2="249.9" y2="79.5" stroke="#aaa" stroke-width="0.45"/>
<line x1="252.3" y1="78.2" x2="252.3" y2="79.5" stroke="#aaa" stroke-width="0.45"/>
<line x1="254.8" y1="78.2" x2="254.8" y2="79.5" stroke="#aaa" stroke-width="0.45"/>
<line x1="257.3" y1="78.2" x2="257.3" y2="79.5" stroke="#aaa" stroke-width="0.45"/>
<line x1="259.8" y1="78.2" x2="259.8" y2="79.5" stroke="#aaa" stroke-width="0.45"/>
<line x1="262.3" y1="78.2" x2="262.3" y2="79.5" stroke="#aaa" stroke-width="0.45"/>
<line x1="264.8" y1="78.2" x2="264.8" y2="79.5" stroke="#aaa" stroke-width="0.45"/>
<line x1="267.3" y1="78.2" x2="267.3" y2="79.5" stroke="#aaa" stroke-width="0.45"/>
<line x1="205.2" y1="22.0" x2="206.5" y2="22.0" stroke="#aaa" stroke-width="0.45"/>
<line x1="205.2" y1="24.3" x2="206.5" y2="24.3" stroke="#aaa" stroke-width="0.45"/>
<line x1="205.2" y1="26.6" x2="206.5" y2="26.6" stroke="#aaa" stroke-width="0.45"/>
<line x1="205.2" y1="28.9" x2="206.5" y2="28.9" stroke="#aaa" stroke-width="0.45"/>
<line x1="205.2" y1="31.2" x2="206.5" y2="31.2" stroke="#aaa" stroke-width="0.45"/>
<line x1="205.2" y1="33.5" x2="206.5" y2="33.5" stroke="#aaa" stroke-width="0.45"/>
<line x1="205.2" y1="35.8" x2="206.5" y2="35.8" stroke="#aaa" stroke-width="0.45"/>
<line x1="205.2" y1="38.1" x2="206.5" y2="38.1" stroke="#aaa" stroke-width="0.45"/>
<line x1="205.2" y1="40.4" x2="206.5" y2="40.4" stroke="#aaa" stroke-width="0.45"/>
<line x1="205.2" y1="42.7" x2="206.5" y2="42.7" stroke="#aaa" stroke-width="0.45"/>
<line x1="205.2" y1="45.0" x2="206.5" y2="45.0" stroke="#aaa" stroke-width="0.45"/>
<line x1="205.2" y1="47.3" x2="206.5" y2="47.3" stroke="#aaa" stroke-width="0.45"/>
<line x1="205.2" y1="49.6" x2="206.5" y2="49.6" stroke="#aaa" stroke-width="0.45"/>
<line x1="205.2" y1="51.9" x2="206.5" y2="51.9" stroke="#aaa" stroke-width="0.45"/>
<line x1="205.2" y1="54.2" x2="206.5" y2="54.2" stroke="#aaa" stroke-width="0.45"/>
<line x1="205.2" y1="56.5" x2="206.5" y2="56.5" stroke="#aaa" stroke-width="0.45"/>
<line x1="205.2" y1="58.8" x2="206.5" y2="58.8" stroke="#aaa" stroke-width="0.45"/>
<line x1="205.2" y1="61.1" x2="206.5" y2="61.1" stroke="#aaa" stroke-width="0.45"/>
<line x1="205.2" y1="63.4" x2="206.5" y2="63.4" stroke="#aaa" stroke-width="0.45"/>
<line x1="205.2" y1="65.7" x2="206.5" y2="65.7" stroke="#aaa" stroke-width="0.45"/>
<line x1="205.2" y1="68.0" x2="206.5" y2="68.0" stroke="#aaa" stroke-width="0.45"/>
<line x1="205.2" y1="70.3" x2="206.5" y2="70.3" stroke="#aaa" stroke-width="0.45"/>
<line x1="205.2" y1="72.6" x2="206.5" y2="72.6" stroke="#aaa" stroke-width="0.45"/>
<line x1="205.2" y1="74.9" x2="206.5" y2="74.9" stroke="#aaa" stroke-width="0.45"/>
<line x1="205.2" y1="77.2" x2="206.5" y2="77.2" stroke="#aaa" stroke-width="0.45"/>
<line x1="204.3" y1="24.3" x2="206.5" y2="24.3" stroke="#666" stroke-width="0.6"/>
<text x="203.9" y="25.4" font-size="3.1" fill="#1a1a1a" text-anchor="end" font-weight="bold">3000</text>
<line x1="204.3" y1="42.5" x2="206.5" y2="42.5" stroke="#666" stroke-width="0.6"/>
<text x="203.9" y="43.6" font-size="3.1" fill="#1a1a1a" text-anchor="end" font-weight="bold">2000</text>
<line x1="204.3" y1="60.4" x2="206.5" y2="60.4" stroke="#666" stroke-width="0.6"/>
<text x="203.9" y="61.5" font-size="3.1" fill="#1a1a1a" text-anchor="end" font-weight="bold">1000</text>
<text transform="translate(195.3,59.8) rotate(-90)" font-size="2.9" fill="#333">FS Area: FS</text>
<line x1="207.3" y1="78.2" x2="207.3" y2="80.2" stroke="#666" stroke-width="0.6"/>
<text x="205.5" y="84.2" font-size="3.4" fill="#1e1e1e">10</text>
<text x="209.0" y="82.4" font-size="2.5" fill="#1e1e1e">0</text>
<line x1="222.4" y1="78.2" x2="222.4" y2="80.2" stroke="#666" stroke-width="0.6"/>
<text x="220.6" y="84.2" font-size="3.4" fill="#1e1e1e">10</text>
<text x="224.1" y="82.4" font-size="2.5" fill="#1e1e1e">1</text>
<line x1="237.4" y1="78.2" x2="237.4" y2="80.2" stroke="#666" stroke-width="0.6"/>
<text x="235.6" y="84.2" font-size="3.4" fill="#1e1e1e">10</text>
<text x="239.1" y="82.4" font-size="2.5" fill="#1e1e1e">2</text>
<line x1="252.5" y1="78.2" x2="252.5" y2="80.2" stroke="#666" stroke-width="0.6"/>
<text x="250.7" y="84.2" font-size="3.4" fill="#1e1e1e">10</text>
<text x="254.2" y="82.4" font-size="2.5" fill="#1e1e1e">3</text>
<line x1="267.5" y1="78.2" x2="267.5" y2="80.2" stroke="#666" stroke-width="0.6"/>
<text x="265.7" y="84.2" font-size="3.4" fill="#1e1e1e">10</text>
<text x="269.2" y="82.4" font-size="2.5" fill="#1e1e1e">4</text>
<text x="219.5" y="89.0" font-size="2.9" fill="#333">Comp-FL 4 Log: CD19-APC</text>
<rect x="206.5" y="97.3" width="61.80000000000001" height="59.3" fill="none" stroke="#929292" stroke-width="0.95"/>
<line x1="207.5" y1="156.6" x2="207.5" y2="157.9" stroke="#aaa" stroke-width="0.45"/>
<line x1="210.0" y1="156.6" x2="210.0" y2="157.9" stroke="#aaa" stroke-width="0.45"/>
<line x1="212.5" y1="156.6" x2="212.5" y2="157.9" stroke="#aaa" stroke-width="0.45"/>
<line x1="215.0" y1="156.6" x2="215.0" y2="157.9" stroke="#aaa" stroke-width="0.45"/>
<line x1="217.5" y1="156.6" x2="217.5" y2="157.9" stroke="#aaa" stroke-width="0.45"/>
<line x1="220.0" y1="156.6" x2="220.0" y2="157.9" stroke="#aaa" stroke-width="0.45"/>
<line x1="222.4" y1="156.6" x2="222.4" y2="157.9" stroke="#aaa" stroke-width="0.45"/>
<line x1="224.9" y1="156.6" x2="224.9" y2="157.9" stroke="#aaa" stroke-width="0.45"/>
<line x1="227.4" y1="156.6" x2="227.4" y2="157.9" stroke="#aaa" stroke-width="0.45"/>
<line x1="229.9" y1="156.6" x2="229.9" y2="157.9" stroke="#aaa" stroke-width="0.45"/>
<line x1="232.4" y1="156.6" x2="232.4" y2="157.9" stroke="#aaa" stroke-width="0.45"/>
<line x1="234.9" y1="156.6" x2="234.9" y2="157.9" stroke="#aaa" stroke-width="0.45"/>
<line x1="237.4" y1="156.6" x2="237.4" y2="157.9" stroke="#aaa" stroke-width="0.45"/>
<line x1="239.9" y1="156.6" x2="239.9" y2="157.9" stroke="#aaa" stroke-width="0.45"/>
<line x1="242.4" y1="156.6" x2="242.4" y2="157.9" stroke="#aaa" stroke-width="0.45"/>
<line x1="244.9" y1="156.6" x2="244.9" y2="157.9" stroke="#aaa" stroke-width="0.45"/>
<line x1="247.4" y1="156.6" x2="247.4" y2="157.9" stroke="#aaa" stroke-width="0.45"/>
<line x1="249.9" y1="156.6" x2="249.9" y2="157.9" stroke="#aaa" stroke-width="0.45"/>
<line x1="252.3" y1="156.6" x2="252.3" y2="157.9" stroke="#aaa" stroke-width="0.45"/>
<line x1="254.8" y1="156.6" x2="254.8" y2="157.9" stroke="#aaa" stroke-width="0.45"/>
<line x1="257.3" y1="156.6" x2="257.3" y2="157.9" stroke="#aaa" stroke-width="0.45"/>
<line x1="259.8" y1="156.6" x2="259.8" y2="157.9" stroke="#aaa" stroke-width="0.45"/>
<line x1="262.3" y1="156.6" x2="262.3" y2="157.9" stroke="#aaa" stroke-width="0.45"/>
<line x1="264.8" y1="156.6" x2="264.8" y2="157.9" stroke="#aaa" stroke-width="0.45"/>
<line x1="267.3" y1="156.6" x2="267.3" y2="157.9" stroke="#aaa" stroke-width="0.45"/>
<line x1="205.2" y1="100.3" x2="206.5" y2="100.3" stroke="#aaa" stroke-width="0.45"/>
<line x1="205.2" y1="102.6" x2="206.5" y2="102.6" stroke="#aaa" stroke-width="0.45"/>
<line x1="205.2" y1="104.9" x2="206.5" y2="104.9" stroke="#aaa" stroke-width="0.45"/>
<line x1="205.2" y1="107.2" x2="206.5" y2="107.2" stroke="#aaa" stroke-width="0.45"/>
<line x1="205.2" y1="109.5" x2="206.5" y2="109.5" stroke="#aaa" stroke-width="0.45"/>
<line x1="205.2" y1="111.8" x2="206.5" y2="111.8" stroke="#aaa" stroke-width="0.45"/>
<line x1="205.2" y1="114.1" x2="206.5" y2="114.1" stroke="#aaa" stroke-width="0.45"/>
<line x1="205.2" y1="116.4" x2="206.5" y2="116.4" stroke="#aaa" stroke-width="0.45"/>
<line x1="205.2" y1="118.7" x2="206.5" y2="118.7" stroke="#aaa" stroke-width="0.45"/>
<line x1="205.2" y1="121.0" x2="206.5" y2="121.0" stroke="#aaa" stroke-width="0.45"/>
<line x1="205.2" y1="123.3" x2="206.5" y2="123.3" stroke="#aaa" stroke-width="0.45"/>
<line x1="205.2" y1="125.6" x2="206.5" y2="125.6" stroke="#aaa" stroke-width="0.45"/>
<line x1="205.2" y1="127.9" x2="206.5" y2="127.9" stroke="#aaa" stroke-width="0.45"/>
<line x1="205.2" y1="130.3" x2="206.5" y2="130.3" stroke="#aaa" stroke-width="0.45"/>
<line x1="205.2" y1="132.6" x2="206.5" y2="132.6" stroke="#aaa" stroke-width="0.45"/>
<line x1="205.2" y1="134.9" x2="206.5" y2="134.9" stroke="#aaa" stroke-width="0.45"/>
<line x1="205.2" y1="137.2" x2="206.5" y2="137.2" stroke="#aaa" stroke-width="0.45"/>
<line x1="205.2" y1="139.5" x2="206.5" y2="139.5" stroke="#aaa" stroke-width="0.45"/>
<line x1="205.2" y1="141.8" x2="206.5" y2="141.8" stroke="#aaa" stroke-width="0.45"/>
<line x1="205.2" y1="144.1" x2="206.5" y2="144.1" stroke="#aaa" stroke-width="0.45"/>
<line x1="205.2" y1="146.4" x2="206.5" y2="146.4" stroke="#aaa" stroke-width="0.45"/>
<line x1="205.2" y1="148.7" x2="206.5" y2="148.7" stroke="#aaa" stroke-width="0.45"/>
<line x1="205.2" y1="151.0" x2="206.5" y2="151.0" stroke="#aaa" stroke-width="0.45"/>
<line x1="205.2" y1="153.3" x2="206.5" y2="153.3" stroke="#aaa" stroke-width="0.45"/>
<line x1="205.2" y1="155.6" x2="206.5" y2="155.6" stroke="#aaa" stroke-width="0.45"/>
<line x1="204.3" y1="102.6" x2="206.5" y2="102.6" stroke="#666" stroke-width="0.6"/>
<text x="203.9" y="103.7" font-size="3.1" fill="#1a1a1a" text-anchor="end" font-weight="bold">3000</text>
<line x1="204.3" y1="120.8" x2="206.5" y2="120.8" stroke="#666" stroke-width="0.6"/>
<text x="203.9" y="121.9" font-size="3.1" fill="#1a1a1a" text-anchor="end" font-weight="bold">2000</text>
<line x1="204.3" y1="138.8" x2="206.5" y2="138.8" stroke="#666" stroke-width="0.6"/>
<text x="203.9" y="139.9" font-size="3.1" fill="#1a1a1a" text-anchor="end" font-weight="bold">1000</text>
<text transform="translate(195.3,138.2) rotate(-90)" font-size="2.9" fill="#333">FS Area: FS</text>
<line x1="207.3" y1="156.6" x2="207.3" y2="158.6" stroke="#666" stroke-width="0.6"/>
<text x="205.5" y="162.6" font-size="3.4" fill="#1e1e1e">10</text>
<text x="209.0" y="160.8" font-size="2.5" fill="#1e1e1e">0</text>
<line x1="222.4" y1="156.6" x2="222.4" y2="158.6" stroke="#666" stroke-width="0.6"/>
<text x="220.6" y="162.6" font-size="3.4" fill="#1e1e1e">10</text>
<text x="224.1" y="160.8" font-size="2.5" fill="#1e1e1e">1</text>
<line x1="237.4" y1="156.6" x2="237.4" y2="158.6" stroke="#666" stroke-width="0.6"/>
<text x="235.6" y="162.6" font-size="3.4" fill="#1e1e1e">10</text>
<text x="239.1" y="160.8" font-size="2.5" fill="#1e1e1e">2</text>
<line x1="252.5" y1="156.6" x2="252.5" y2="158.6" stroke="#666" stroke-width="0.6"/>
<text x="250.7" y="162.6" font-size="3.4" fill="#1e1e1e">10</text>
<text x="254.2" y="160.8" font-size="2.5" fill="#1e1e1e">3</text>
<line x1="267.5" y1="156.6" x2="267.5" y2="158.6" stroke="#666" stroke-width="0.6"/>
<text x="265.7" y="162.6" font-size="3.4" fill="#1e1e1e">10</text>
<text x="269.2" y="160.8" font-size="2.5" fill="#1e1e1e">4</text>
<text x="219.5" y="167.4" font-size="2.9" fill="#333">Comp-FL 4 Log: PE-Cy5.5</text>
<rect x="206.5" y="176.5" width="61.80000000000001" height="58.19999999999999" fill="none" stroke="#929292" stroke-width="0.95"/>
<line x1="207.5" y1="234.7" x2="207.5" y2="236.0" stroke="#aaa" stroke-width="0.45"/>
<line x1="210.0" y1="234.7" x2="210.0" y2="236.0" stroke="#aaa" stroke-width="0.45"/>
<line x1="212.5" y1="234.7" x2="212.5" y2="236.0" stroke="#aaa" stroke-width="0.45"/>
<line x1="215.0" y1="234.7" x2="215.0" y2="236.0" stroke="#aaa" stroke-width="0.45"/>
<line x1="217.5" y1="234.7" x2="217.5" y2="236.0" stroke="#aaa" stroke-width="0.45"/>
<line x1="220.0" y1="234.7" x2="220.0" y2="236.0" stroke="#aaa" stroke-width="0.45"/>
<line x1="222.4" y1="234.7" x2="222.4" y2="236.0" stroke="#aaa" stroke-width="0.45"/>
<line x1="224.9" y1="234.7" x2="224.9" y2="236.0" stroke="#aaa" stroke-width="0.45"/>
<line x1="227.4" y1="234.7" x2="227.4" y2="236.0" stroke="#aaa" stroke-width="0.45"/>
<line x1="229.9" y1="234.7" x2="229.9" y2="236.0" stroke="#aaa" stroke-width="0.45"/>
<line x1="232.4" y1="234.7" x2="232.4" y2="236.0" stroke="#aaa" stroke-width="0.45"/>
<line x1="234.9" y1="234.7" x2="234.9" y2="236.0" stroke="#aaa" stroke-width="0.45"/>
<line x1="237.4" y1="234.7" x2="237.4" y2="236.0" stroke="#aaa" stroke-width="0.45"/>
<line x1="239.9" y1="234.7" x2="239.9" y2="236.0" stroke="#aaa" stroke-width="0.45"/>
<line x1="242.4" y1="234.7" x2="242.4" y2="236.0" stroke="#aaa" stroke-width="0.45"/>
<line x1="244.9" y1="234.7" x2="244.9" y2="236.0" stroke="#aaa" stroke-width="0.45"/>
<line x1="247.4" y1="234.7" x2="247.4" y2="236.0" stroke="#aaa" stroke-width="0.45"/>
<line x1="249.9" y1="234.7" x2="249.9" y2="236.0" stroke="#aaa" stroke-width="0.45"/>
<line x1="252.3" y1="234.7" x2="252.3" y2="236.0" stroke="#aaa" stroke-width="0.45"/>
<line x1="254.8" y1="234.7" x2="254.8" y2="236.0" stroke="#aaa" stroke-width="0.45"/>
<line x1="257.3" y1="234.7" x2="257.3" y2="236.0" stroke="#aaa" stroke-width="0.45"/>
<line x1="259.8" y1="234.7" x2="259.8" y2="236.0" stroke="#aaa" stroke-width="0.45"/>
<line x1="262.3" y1="234.7" x2="262.3" y2="236.0" stroke="#aaa" stroke-width="0.45"/>
<line x1="264.8" y1="234.7" x2="264.8" y2="236.0" stroke="#aaa" stroke-width="0.45"/>
<line x1="267.3" y1="234.7" x2="267.3" y2="236.0" stroke="#aaa" stroke-width="0.45"/>
<line x1="205.2" y1="179.5" x2="206.5" y2="179.5" stroke="#aaa" stroke-width="0.45"/>
<line x1="205.2" y1="181.8" x2="206.5" y2="181.8" stroke="#aaa" stroke-width="0.45"/>
<line x1="205.2" y1="184.0" x2="206.5" y2="184.0" stroke="#aaa" stroke-width="0.45"/>
<line x1="205.2" y1="186.3" x2="206.5" y2="186.3" stroke="#aaa" stroke-width="0.45"/>
<line x1="205.2" y1="188.5" x2="206.5" y2="188.5" stroke="#aaa" stroke-width="0.45"/>
<line x1="205.2" y1="190.8" x2="206.5" y2="190.8" stroke="#aaa" stroke-width="0.45"/>
<line x1="205.2" y1="193.1" x2="206.5" y2="193.1" stroke="#aaa" stroke-width="0.45"/>
<line x1="205.2" y1="195.3" x2="206.5" y2="195.3" stroke="#aaa" stroke-width="0.45"/>
<line x1="205.2" y1="197.6" x2="206.5" y2="197.6" stroke="#aaa" stroke-width="0.45"/>
<line x1="205.2" y1="199.8" x2="206.5" y2="199.8" stroke="#aaa" stroke-width="0.45"/>
<line x1="205.2" y1="202.1" x2="206.5" y2="202.1" stroke="#aaa" stroke-width="0.45"/>
<line x1="205.2" y1="204.3" x2="206.5" y2="204.3" stroke="#aaa" stroke-width="0.45"/>
<line x1="205.2" y1="206.6" x2="206.5" y2="206.6" stroke="#aaa" stroke-width="0.45"/>
<line x1="205.2" y1="208.9" x2="206.5" y2="208.9" stroke="#aaa" stroke-width="0.45"/>
<line x1="205.2" y1="211.1" x2="206.5" y2="211.1" stroke="#aaa" stroke-width="0.45"/>
<line x1="205.2" y1="213.4" x2="206.5" y2="213.4" stroke="#aaa" stroke-width="0.45"/>
<line x1="205.2" y1="215.6" x2="206.5" y2="215.6" stroke="#aaa" stroke-width="0.45"/>
<line x1="205.2" y1="217.9" x2="206.5" y2="217.9" stroke="#aaa" stroke-width="0.45"/>
<line x1="205.2" y1="220.1" x2="206.5" y2="220.1" stroke="#aaa" stroke-width="0.45"/>
<line x1="205.2" y1="222.4" x2="206.5" y2="222.4" stroke="#aaa" stroke-width="0.45"/>
<line x1="205.2" y1="224.7" x2="206.5" y2="224.7" stroke="#aaa" stroke-width="0.45"/>
<line x1="205.2" y1="226.9" x2="206.5" y2="226.9" stroke="#aaa" stroke-width="0.45"/>
<line x1="205.2" y1="229.2" x2="206.5" y2="229.2" stroke="#aaa" stroke-width="0.45"/>
<line x1="205.2" y1="231.4" x2="206.5" y2="231.4" stroke="#aaa" stroke-width="0.45"/>
<line x1="205.2" y1="233.7" x2="206.5" y2="233.7" stroke="#aaa" stroke-width="0.45"/>
<line x1="204.3" y1="181.7" x2="206.5" y2="181.7" stroke="#666" stroke-width="0.6"/>
<text x="203.9" y="182.8" font-size="3.1" fill="#1a1a1a" text-anchor="end" font-weight="bold">3000</text>
<line x1="204.3" y1="199.6" x2="206.5" y2="199.6" stroke="#666" stroke-width="0.6"/>
<text x="203.9" y="200.7" font-size="3.1" fill="#1a1a1a" text-anchor="end" font-weight="bold">2000</text>
<line x1="204.3" y1="217.2" x2="206.5" y2="217.2" stroke="#666" stroke-width="0.6"/>
<text x="203.9" y="218.3" font-size="3.1" fill="#1a1a1a" text-anchor="end" font-weight="bold">1000</text>
<text transform="translate(195.3,216.7) rotate(-90)" font-size="2.9" fill="#333">FS Area: FS</text>
<line x1="207.3" y1="234.7" x2="207.3" y2="236.7" stroke="#666" stroke-width="0.6"/>
<text x="205.5" y="240.7" font-size="3.4" fill="#1e1e1e">10</text>
<text x="209.0" y="238.9" font-size="2.5" fill="#1e1e1e">0</text>
<line x1="222.4" y1="234.7" x2="222.4" y2="236.7" stroke="#666" stroke-width="0.6"/>
<text x="220.6" y="240.7" font-size="3.4" fill="#1e1e1e">10</text>
<text x="224.1" y="238.9" font-size="2.5" fill="#1e1e1e">1</text>
<line x1="237.4" y1="234.7" x2="237.4" y2="236.7" stroke="#666" stroke-width="0.6"/>
<text x="235.6" y="240.7" font-size="3.4" fill="#1e1e1e">10</text>
<text x="239.1" y="238.9" font-size="2.5" fill="#1e1e1e">2</text>
<line x1="252.5" y1="234.7" x2="252.5" y2="236.7" stroke="#666" stroke-width="0.6"/>
<text x="250.7" y="240.7" font-size="3.4" fill="#1e1e1e">10</text>
<text x="254.2" y="238.9" font-size="2.5" fill="#1e1e1e">3</text>
<line x1="267.5" y1="234.7" x2="267.5" y2="236.7" stroke="#666" stroke-width="0.6"/>
<text x="265.7" y="240.7" font-size="3.4" fill="#1e1e1e">10</text>
<text x="269.2" y="238.9" font-size="2.5" fill="#1e1e1e">4</text>
<text x="219.5" y="245.5" font-size="2.9" fill="#333">Comp-FL 4 Log: CD19-APC</text>
<rect x="456.2" y="17.3" width="60.19999999999999" height="59.900000000000006" fill="none" stroke="#929292" stroke-width="0.95"/>
<line x1="457.2" y1="77.2" x2="457.2" y2="78.5" stroke="#aaa" stroke-width="0.45"/>
<line x1="459.6" y1="77.2" x2="459.6" y2="78.5" stroke="#aaa" stroke-width="0.45"/>
<line x1="462.1" y1="77.2" x2="462.1" y2="78.5" stroke="#aaa" stroke-width="0.45"/>
<line x1="464.5" y1="77.2" x2="464.5" y2="78.5" stroke="#aaa" stroke-width="0.45"/>
<line x1="466.9" y1="77.2" x2="466.9" y2="78.5" stroke="#aaa" stroke-width="0.45"/>
<line x1="469.3" y1="77.2" x2="469.3" y2="78.5" stroke="#aaa" stroke-width="0.45"/>
<line x1="471.8" y1="77.2" x2="471.8" y2="78.5" stroke="#aaa" stroke-width="0.45"/>
<line x1="474.2" y1="77.2" x2="474.2" y2="78.5" stroke="#aaa" stroke-width="0.45"/>
<line x1="476.6" y1="77.2" x2="476.6" y2="78.5" stroke="#aaa" stroke-width="0.45"/>
<line x1="479.0" y1="77.2" x2="479.0" y2="78.5" stroke="#aaa" stroke-width="0.45"/>
<line x1="481.4" y1="77.2" x2="481.4" y2="78.5" stroke="#aaa" stroke-width="0.45"/>
<line x1="483.9" y1="77.2" x2="483.9" y2="78.5" stroke="#aaa" stroke-width="0.45"/>
<line x1="486.3" y1="77.2" x2="486.3" y2="78.5" stroke="#aaa" stroke-width="0.45"/>
<line x1="488.7" y1="77.2" x2="488.7" y2="78.5" stroke="#aaa" stroke-width="0.45"/>
<line x1="491.1" y1="77.2" x2="491.1" y2="78.5" stroke="#aaa" stroke-width="0.45"/>
<line x1="493.6" y1="77.2" x2="493.6" y2="78.5" stroke="#aaa" stroke-width="0.45"/>
<line x1="496.0" y1="77.2" x2="496.0" y2="78.5" stroke="#aaa" stroke-width="0.45"/>
<line x1="498.4" y1="77.2" x2="498.4" y2="78.5" stroke="#aaa" stroke-width="0.45"/>
<line x1="500.8" y1="77.2" x2="500.8" y2="78.5" stroke="#aaa" stroke-width="0.45"/>
<line x1="503.3" y1="77.2" x2="503.3" y2="78.5" stroke="#aaa" stroke-width="0.45"/>
<line x1="505.7" y1="77.2" x2="505.7" y2="78.5" stroke="#aaa" stroke-width="0.45"/>
<line x1="508.1" y1="77.2" x2="508.1" y2="78.5" stroke="#aaa" stroke-width="0.45"/>
<line x1="510.5" y1="77.2" x2="510.5" y2="78.5" stroke="#aaa" stroke-width="0.45"/>
<line x1="513.0" y1="77.2" x2="513.0" y2="78.5" stroke="#aaa" stroke-width="0.45"/>
<line x1="515.4" y1="77.2" x2="515.4" y2="78.5" stroke="#aaa" stroke-width="0.45"/>
<line x1="454.9" y1="20.3" x2="456.2" y2="20.3" stroke="#aaa" stroke-width="0.45"/>
<line x1="454.9" y1="22.6" x2="456.2" y2="22.6" stroke="#aaa" stroke-width="0.45"/>
<line x1="454.9" y1="25.0" x2="456.2" y2="25.0" stroke="#aaa" stroke-width="0.45"/>
<line x1="454.9" y1="27.3" x2="456.2" y2="27.3" stroke="#aaa" stroke-width="0.45"/>
<line x1="454.9" y1="29.6" x2="456.2" y2="29.6" stroke="#aaa" stroke-width="0.45"/>
<line x1="454.9" y1="31.9" x2="456.2" y2="31.9" stroke="#aaa" stroke-width="0.45"/>
<line x1="454.9" y1="34.3" x2="456.2" y2="34.3" stroke="#aaa" stroke-width="0.45"/>
<line x1="454.9" y1="36.6" x2="456.2" y2="36.6" stroke="#aaa" stroke-width="0.45"/>
<line x1="454.9" y1="38.9" x2="456.2" y2="38.9" stroke="#aaa" stroke-width="0.45"/>
<line x1="454.9" y1="41.3" x2="456.2" y2="41.3" stroke="#aaa" stroke-width="0.45"/>
<line x1="454.9" y1="43.6" x2="456.2" y2="43.6" stroke="#aaa" stroke-width="0.45"/>
<line x1="454.9" y1="45.9" x2="456.2" y2="45.9" stroke="#aaa" stroke-width="0.45"/>
<line x1="454.9" y1="48.2" x2="456.2" y2="48.2" stroke="#aaa" stroke-width="0.45"/>
<line x1="454.9" y1="50.6" x2="456.2" y2="50.6" stroke="#aaa" stroke-width="0.45"/>
<line x1="454.9" y1="52.9" x2="456.2" y2="52.9" stroke="#aaa" stroke-width="0.45"/>
<line x1="454.9" y1="55.2" x2="456.2" y2="55.2" stroke="#aaa" stroke-width="0.45"/>
<line x1="454.9" y1="57.6" x2="456.2" y2="57.6" stroke="#aaa" stroke-width="0.45"/>
<line x1="454.9" y1="59.9" x2="456.2" y2="59.9" stroke="#aaa" stroke-width="0.45"/>
<line x1="454.9" y1="62.2" x2="456.2" y2="62.2" stroke="#aaa" stroke-width="0.45"/>
<line x1="454.9" y1="64.6" x2="456.2" y2="64.6" stroke="#aaa" stroke-width="0.45"/>
<line x1="454.9" y1="66.9" x2="456.2" y2="66.9" stroke="#aaa" stroke-width="0.45"/>
<line x1="454.9" y1="69.2" x2="456.2" y2="69.2" stroke="#aaa" stroke-width="0.45"/>
<line x1="454.9" y1="71.5" x2="456.2" y2="71.5" stroke="#aaa" stroke-width="0.45"/>
<line x1="454.9" y1="73.9" x2="456.2" y2="73.9" stroke="#aaa" stroke-width="0.45"/>
<line x1="454.9" y1="76.2" x2="456.2" y2="76.2" stroke="#aaa" stroke-width="0.45"/>
<line x1="454.0" y1="22.7" x2="456.2" y2="22.7" stroke="#666" stroke-width="0.6"/>
<text x="453.59999999999997" y="23.8" font-size="3.1" fill="#1a1a1a" text-anchor="end" font-weight="bold">3000</text>
<line x1="454.0" y1="41.1" x2="456.2" y2="41.1" stroke="#666" stroke-width="0.6"/>
<text x="453.59999999999997" y="42.2" font-size="3.1" fill="#1a1a1a" text-anchor="end" font-weight="bold">2000</text>
<line x1="454.0" y1="59.2" x2="456.2" y2="59.2" stroke="#666" stroke-width="0.6"/>
<text x="453.59999999999997" y="60.3" font-size="3.1" fill="#1a1a1a" text-anchor="end" font-weight="bold">1000</text>
<text transform="translate(445.0,58.6) rotate(-90)" font-size="2.9" fill="#333">FS Area: FS</text>
<line x1="457.0" y1="77.2" x2="457.0" y2="79.2" stroke="#666" stroke-width="0.6"/>
<text x="455.2" y="83.2" font-size="3.4" fill="#1e1e1e">10</text>
<text x="458.7" y="81.4" font-size="2.5" fill="#1e1e1e">0</text>
<line x1="471.6" y1="77.2" x2="471.6" y2="79.2" stroke="#666" stroke-width="0.6"/>
<text x="469.8" y="83.2" font-size="3.4" fill="#1e1e1e">10</text>
<text x="473.3" y="81.4" font-size="2.5" fill="#1e1e1e">1</text>
<line x1="486.3" y1="77.2" x2="486.3" y2="79.2" stroke="#666" stroke-width="0.6"/>
<text x="484.5" y="83.2" font-size="3.4" fill="#1e1e1e">10</text>
<text x="488.0" y="81.4" font-size="2.5" fill="#1e1e1e">2</text>
<line x1="500.9" y1="77.2" x2="500.9" y2="79.2" stroke="#666" stroke-width="0.6"/>
<text x="499.1" y="83.2" font-size="3.4" fill="#1e1e1e">10</text>
<text x="502.6" y="81.4" font-size="2.5" fill="#1e1e1e">3</text>
<line x1="515.6" y1="77.2" x2="515.6" y2="79.2" stroke="#666" stroke-width="0.6"/>
<text x="513.8" y="83.2" font-size="3.4" fill="#1e1e1e">10</text>
<text x="517.3" y="81.4" font-size="2.5" fill="#1e1e1e">4</text>
<text x="468.8" y="88.0" font-size="2.9" fill="#333">Comp-FL 4 Log: PE-Cy5.5</text>
<rect x="456.2" y="96.5" width="60.19999999999999" height="59.099999999999994" fill="none" stroke="#929292" stroke-width="0.95"/>
<line x1="457.2" y1="155.6" x2="457.2" y2="156.9" stroke="#aaa" stroke-width="0.45"/>
<line x1="459.6" y1="155.6" x2="459.6" y2="156.9" stroke="#aaa" stroke-width="0.45"/>
<line x1="462.1" y1="155.6" x2="462.1" y2="156.9" stroke="#aaa" stroke-width="0.45"/>
<line x1="464.5" y1="155.6" x2="464.5" y2="156.9" stroke="#aaa" stroke-width="0.45"/>
<line x1="466.9" y1="155.6" x2="466.9" y2="156.9" stroke="#aaa" stroke-width="0.45"/>
<line x1="469.3" y1="155.6" x2="469.3" y2="156.9" stroke="#aaa" stroke-width="0.45"/>
<line x1="471.8" y1="155.6" x2="471.8" y2="156.9" stroke="#aaa" stroke-width="0.45"/>
<line x1="474.2" y1="155.6" x2="474.2" y2="156.9" stroke="#aaa" stroke-width="0.45"/>
<line x1="476.6" y1="155.6" x2="476.6" y2="156.9" stroke="#aaa" stroke-width="0.45"/>
<line x1="479.0" y1="155.6" x2="479.0" y2="156.9" stroke="#aaa" stroke-width="0.45"/>
<line x1="481.4" y1="155.6" x2="481.4" y2="156.9" stroke="#aaa" stroke-width="0.45"/>
<line x1="483.9" y1="155.6" x2="483.9" y2="156.9" stroke="#aaa" stroke-width="0.45"/>
<line x1="486.3" y1="155.6" x2="486.3" y2="156.9" stroke="#aaa" stroke-width="0.45"/>
<line x1="488.7" y1="155.6" x2="488.7" y2="156.9" stroke="#aaa" stroke-width="0.45"/>
<line x1="491.1" y1="155.6" x2="491.1" y2="156.9" stroke="#aaa" stroke-width="0.45"/>
<line x1="493.6" y1="155.6" x2="493.6" y2="156.9" stroke="#aaa" stroke-width="0.45"/>
<line x1="496.0" y1="155.6" x2="496.0" y2="156.9" stroke="#aaa" stroke-width="0.45"/>
<line x1="498.4" y1="155.6" x2="498.4" y2="156.9" stroke="#aaa" stroke-width="0.45"/>
<line x1="500.8" y1="155.6" x2="500.8" y2="156.9" stroke="#aaa" stroke-width="0.45"/>
<line x1="503.3" y1="155.6" x2="503.3" y2="156.9" stroke="#aaa" stroke-width="0.45"/>
<line x1="505.7" y1="155.6" x2="505.7" y2="156.9" stroke="#aaa" stroke-width="0.45"/>
<line x1="508.1" y1="155.6" x2="508.1" y2="156.9" stroke="#aaa" stroke-width="0.45"/>
<line x1="510.5" y1="155.6" x2="510.5" y2="156.9" stroke="#aaa" stroke-width="0.45"/>
<line x1="513.0" y1="155.6" x2="513.0" y2="156.9" stroke="#aaa" stroke-width="0.45"/>
<line x1="515.4" y1="155.6" x2="515.4" y2="156.9" stroke="#aaa" stroke-width="0.45"/>
<line x1="454.9" y1="99.5" x2="456.2" y2="99.5" stroke="#aaa" stroke-width="0.45"/>
<line x1="454.9" y1="101.8" x2="456.2" y2="101.8" stroke="#aaa" stroke-width="0.45"/>
<line x1="454.9" y1="104.1" x2="456.2" y2="104.1" stroke="#aaa" stroke-width="0.45"/>
<line x1="454.9" y1="106.4" x2="456.2" y2="106.4" stroke="#aaa" stroke-width="0.45"/>
<line x1="454.9" y1="108.7" x2="456.2" y2="108.7" stroke="#aaa" stroke-width="0.45"/>
<line x1="454.9" y1="111.0" x2="456.2" y2="111.0" stroke="#aaa" stroke-width="0.45"/>
<line x1="454.9" y1="113.3" x2="456.2" y2="113.3" stroke="#aaa" stroke-width="0.45"/>
<line x1="454.9" y1="115.6" x2="456.2" y2="115.6" stroke="#aaa" stroke-width="0.45"/>
<line x1="454.9" y1="117.9" x2="456.2" y2="117.9" stroke="#aaa" stroke-width="0.45"/>
<line x1="454.9" y1="120.2" x2="456.2" y2="120.2" stroke="#aaa" stroke-width="0.45"/>
<line x1="454.9" y1="122.5" x2="456.2" y2="122.5" stroke="#aaa" stroke-width="0.45"/>
<line x1="454.9" y1="124.8" x2="456.2" y2="124.8" stroke="#aaa" stroke-width="0.45"/>
<line x1="454.9" y1="127.0" x2="456.2" y2="127.0" stroke="#aaa" stroke-width="0.45"/>
<line x1="454.9" y1="129.3" x2="456.2" y2="129.3" stroke="#aaa" stroke-width="0.45"/>
<line x1="454.9" y1="131.6" x2="456.2" y2="131.6" stroke="#aaa" stroke-width="0.45"/>
<line x1="454.9" y1="133.9" x2="456.2" y2="133.9" stroke="#aaa" stroke-width="0.45"/>
<line x1="454.9" y1="136.2" x2="456.2" y2="136.2" stroke="#aaa" stroke-width="0.45"/>
<line x1="454.9" y1="138.5" x2="456.2" y2="138.5" stroke="#aaa" stroke-width="0.45"/>
<line x1="454.9" y1="140.8" x2="456.2" y2="140.8" stroke="#aaa" stroke-width="0.45"/>
<line x1="454.9" y1="143.1" x2="456.2" y2="143.1" stroke="#aaa" stroke-width="0.45"/>
<line x1="454.9" y1="145.4" x2="456.2" y2="145.4" stroke="#aaa" stroke-width="0.45"/>
<line x1="454.9" y1="147.7" x2="456.2" y2="147.7" stroke="#aaa" stroke-width="0.45"/>
<line x1="454.9" y1="150.0" x2="456.2" y2="150.0" stroke="#aaa" stroke-width="0.45"/>
<line x1="454.9" y1="152.3" x2="456.2" y2="152.3" stroke="#aaa" stroke-width="0.45"/>
<line x1="454.9" y1="154.6" x2="456.2" y2="154.6" stroke="#aaa" stroke-width="0.45"/>
<line x1="454.0" y1="101.8" x2="456.2" y2="101.8" stroke="#666" stroke-width="0.6"/>
<text x="453.59999999999997" y="102.9" font-size="3.1" fill="#1a1a1a" text-anchor="end" font-weight="bold">3000</text>
<line x1="454.0" y1="120.0" x2="456.2" y2="120.0" stroke="#666" stroke-width="0.6"/>
<text x="453.59999999999997" y="121.1" font-size="3.1" fill="#1a1a1a" text-anchor="end" font-weight="bold">2000</text>
<line x1="454.0" y1="137.9" x2="456.2" y2="137.9" stroke="#666" stroke-width="0.6"/>
<text x="453.59999999999997" y="139.0" font-size="3.1" fill="#1a1a1a" text-anchor="end" font-weight="bold">1000</text>
<text transform="translate(445.0,137.3) rotate(-90)" font-size="2.9" fill="#333">FS Area: FS</text>
<line x1="457.0" y1="155.6" x2="457.0" y2="157.6" stroke="#666" stroke-width="0.6"/>
<text x="455.2" y="161.6" font-size="3.4" fill="#1e1e1e">10</text>
<text x="458.7" y="159.8" font-size="2.5" fill="#1e1e1e">0</text>
<line x1="471.6" y1="155.6" x2="471.6" y2="157.6" stroke="#666" stroke-width="0.6"/>
<text x="469.8" y="161.6" font-size="3.4" fill="#1e1e1e">10</text>
<text x="473.3" y="159.8" font-size="2.5" fill="#1e1e1e">1</text>
<line x1="486.3" y1="155.6" x2="486.3" y2="157.6" stroke="#666" stroke-width="0.6"/>
<text x="484.5" y="161.6" font-size="3.4" fill="#1e1e1e">10</text>
<text x="488.0" y="159.8" font-size="2.5" fill="#1e1e1e">2</text>
<line x1="500.9" y1="155.6" x2="500.9" y2="157.6" stroke="#666" stroke-width="0.6"/>
<text x="499.1" y="161.6" font-size="3.4" fill="#1e1e1e">10</text>
<text x="502.6" y="159.8" font-size="2.5" fill="#1e1e1e">3</text>
<line x1="515.6" y1="155.6" x2="515.6" y2="157.6" stroke="#666" stroke-width="0.6"/>
<text x="513.8" y="161.6" font-size="3.4" fill="#1e1e1e">10</text>
<text x="517.3" y="159.8" font-size="2.5" fill="#1e1e1e">4</text>
<text x="468.8" y="166.4" font-size="2.9" fill="#333">Comp-FL 4 Log: CD19-APC</text>
<rect x="456.2" y="175.0" width="60.19999999999999" height="59.400000000000006" fill="none" stroke="#929292" stroke-width="0.95"/>
<line x1="457.2" y1="234.4" x2="457.2" y2="235.70000000000002" stroke="#aaa" stroke-width="0.45"/>
<line x1="459.6" y1="234.4" x2="459.6" y2="235.70000000000002" stroke="#aaa" stroke-width="0.45"/>
<line x1="462.1" y1="234.4" x2="462.1" y2="235.70000000000002" stroke="#aaa" stroke-width="0.45"/>
<line x1="464.5" y1="234.4" x2="464.5" y2="235.70000000000002" stroke="#aaa" stroke-width="0.45"/>
<line x1="466.9" y1="234.4" x2="466.9" y2="235.70000000000002" stroke="#aaa" stroke-width="0.45"/>
<line x1="469.3" y1="234.4" x2="469.3" y2="235.70000000000002" stroke="#aaa" stroke-width="0.45"/>
<line x1="471.8" y1="234.4" x2="471.8" y2="235.70000000000002" stroke="#aaa" stroke-width="0.45"/>
<line x1="474.2" y1="234.4" x2="474.2" y2="235.70000000000002" stroke="#aaa" stroke-width="0.45"/>
<line x1="476.6" y1="234.4" x2="476.6" y2="235.70000000000002" stroke="#aaa" stroke-width="0.45"/>
<line x1="479.0" y1="234.4" x2="479.0" y2="235.70000000000002" stroke="#aaa" stroke-width="0.45"/>
<line x1="481.4" y1="234.4" x2="481.4" y2="235.70000000000002" stroke="#aaa" stroke-width="0.45"/>
<line x1="483.9" y1="234.4" x2="483.9" y2="235.70000000000002" stroke="#aaa" stroke-width="0.45"/>
<line x1="486.3" y1="234.4" x2="486.3" y2="235.70000000000002" stroke="#aaa" stroke-width="0.45"/>
<line x1="488.7" y1="234.4" x2="488.7" y2="235.70000000000002" stroke="#aaa" stroke-width="0.45"/>
<line x1="491.1" y1="234.4" x2="491.1" y2="235.70000000000002" stroke="#aaa" stroke-width="0.45"/>
<line x1="493.6" y1="234.4" x2="493.6" y2="235.70000000000002" stroke="#aaa" stroke-width="0.45"/>
<line x1="496.0" y1="234.4" x2="496.0" y2="235.70000000000002" stroke="#aaa" stroke-width="0.45"/>
<line x1="498.4" y1="234.4" x2="498.4" y2="235.70000000000002" stroke="#aaa" stroke-width="0.45"/>
<line x1="500.8" y1="234.4" x2="500.8" y2="235.70000000000002" stroke="#aaa" stroke-width="0.45"/>
<line x1="503.3" y1="234.4" x2="503.3" y2="235.70000000000002" stroke="#aaa" stroke-width="0.45"/>
<line x1="505.7" y1="234.4" x2="505.7" y2="235.70000000000002" stroke="#aaa" stroke-width="0.45"/>
<line x1="508.1" y1="234.4" x2="508.1" y2="235.70000000000002" stroke="#aaa" stroke-width="0.45"/>
<line x1="510.5" y1="234.4" x2="510.5" y2="235.70000000000002" stroke="#aaa" stroke-width="0.45"/>
<line x1="513.0" y1="234.4" x2="513.0" y2="235.70000000000002" stroke="#aaa" stroke-width="0.45"/>
<line x1="515.4" y1="234.4" x2="515.4" y2="235.70000000000002" stroke="#aaa" stroke-width="0.45"/>
<line x1="454.9" y1="178.0" x2="456.2" y2="178.0" stroke="#aaa" stroke-width="0.45"/>
<line x1="454.9" y1="180.3" x2="456.2" y2="180.3" stroke="#aaa" stroke-width="0.45"/>
<line x1="454.9" y1="182.6" x2="456.2" y2="182.6" stroke="#aaa" stroke-width="0.45"/>
<line x1="454.9" y1="184.9" x2="456.2" y2="184.9" stroke="#aaa" stroke-width="0.45"/>
<line x1="454.9" y1="187.2" x2="456.2" y2="187.2" stroke="#aaa" stroke-width="0.45"/>
<line x1="454.9" y1="189.5" x2="456.2" y2="189.5" stroke="#aaa" stroke-width="0.45"/>
<line x1="454.9" y1="191.8" x2="456.2" y2="191.8" stroke="#aaa" stroke-width="0.45"/>
<line x1="454.9" y1="194.2" x2="456.2" y2="194.2" stroke="#aaa" stroke-width="0.45"/>
<line x1="454.9" y1="196.5" x2="456.2" y2="196.5" stroke="#aaa" stroke-width="0.45"/>
<line x1="454.9" y1="198.8" x2="456.2" y2="198.8" stroke="#aaa" stroke-width="0.45"/>
<line x1="454.9" y1="201.1" x2="456.2" y2="201.1" stroke="#aaa" stroke-width="0.45"/>
<line x1="454.9" y1="203.4" x2="456.2" y2="203.4" stroke="#aaa" stroke-width="0.45"/>
<line x1="454.9" y1="205.7" x2="456.2" y2="205.7" stroke="#aaa" stroke-width="0.45"/>
<line x1="454.9" y1="208.0" x2="456.2" y2="208.0" stroke="#aaa" stroke-width="0.45"/>
<line x1="454.9" y1="210.3" x2="456.2" y2="210.3" stroke="#aaa" stroke-width="0.45"/>
<line x1="454.9" y1="212.6" x2="456.2" y2="212.6" stroke="#aaa" stroke-width="0.45"/>
<line x1="454.9" y1="214.9" x2="456.2" y2="214.9" stroke="#aaa" stroke-width="0.45"/>
<line x1="454.9" y1="217.2" x2="456.2" y2="217.2" stroke="#aaa" stroke-width="0.45"/>
<line x1="454.9" y1="219.6" x2="456.2" y2="219.6" stroke="#aaa" stroke-width="0.45"/>
<line x1="454.9" y1="221.9" x2="456.2" y2="221.9" stroke="#aaa" stroke-width="0.45"/>
<line x1="454.9" y1="224.2" x2="456.2" y2="224.2" stroke="#aaa" stroke-width="0.45"/>
<line x1="454.9" y1="226.5" x2="456.2" y2="226.5" stroke="#aaa" stroke-width="0.45"/>
<line x1="454.9" y1="228.8" x2="456.2" y2="228.8" stroke="#aaa" stroke-width="0.45"/>
<line x1="454.9" y1="231.1" x2="456.2" y2="231.1" stroke="#aaa" stroke-width="0.45"/>
<line x1="454.9" y1="233.4" x2="456.2" y2="233.4" stroke="#aaa" stroke-width="0.45"/>
<line x1="454.0" y1="180.3" x2="456.2" y2="180.3" stroke="#666" stroke-width="0.6"/>
<text x="453.59999999999997" y="181.4" font-size="3.1" fill="#1a1a1a" text-anchor="end" font-weight="bold">3000</text>
<line x1="454.0" y1="198.6" x2="456.2" y2="198.6" stroke="#666" stroke-width="0.6"/>
<text x="453.59999999999997" y="199.7" font-size="3.1" fill="#1a1a1a" text-anchor="end" font-weight="bold">2000</text>
<line x1="454.0" y1="216.6" x2="456.2" y2="216.6" stroke="#666" stroke-width="0.6"/>
<text x="453.59999999999997" y="217.7" font-size="3.1" fill="#1a1a1a" text-anchor="end" font-weight="bold">1000</text>
<text transform="translate(445.0,216.0) rotate(-90)" font-size="2.9" fill="#333">FS Area: FS</text>
<line x1="457.0" y1="234.4" x2="457.0" y2="236.4" stroke="#666" stroke-width="0.6"/>
<text x="455.2" y="240.4" font-size="3.4" fill="#1e1e1e">10</text>
<text x="458.7" y="238.6" font-size="2.5" fill="#1e1e1e">0</text>
<line x1="471.6" y1="234.4" x2="471.6" y2="236.4" stroke="#666" stroke-width="0.6"/>
<text x="469.8" y="240.4" font-size="3.4" fill="#1e1e1e">10</text>
<text x="473.3" y="238.6" font-size="2.5" fill="#1e1e1e">1</text>
<line x1="486.3" y1="234.4" x2="486.3" y2="236.4" stroke="#666" stroke-width="0.6"/>
<text x="484.5" y="240.4" font-size="3.4" fill="#1e1e1e">10</text>
<text x="488.0" y="238.6" font-size="2.5" fill="#1e1e1e">2</text>
<line x1="500.9" y1="234.4" x2="500.9" y2="236.4" stroke="#666" stroke-width="0.6"/>
<text x="499.1" y="240.4" font-size="3.4" fill="#1e1e1e">10</text>
<text x="502.6" y="238.6" font-size="2.5" fill="#1e1e1e">3</text>
<line x1="515.6" y1="234.4" x2="515.6" y2="236.4" stroke="#666" stroke-width="0.6"/>
<text x="513.8" y="240.4" font-size="3.4" fill="#1e1e1e">10</text>
<text x="517.3" y="238.6" font-size="2.5" fill="#1e1e1e">4</text>
<text x="468.8" y="245.2" font-size="2.9" fill="#333">Comp-FL 4 Log: CD19-APC</text>
<rect x="110.3" y="24.7" width="30.299999999999997" height="11.500000000000004" fill="none" stroke="#bdbdbd" stroke-width="0.55"/>
<rect x="112.0" y="103.4" width="29.599999999999994" height="12.399999999999991" fill="none" stroke="#bdbdbd" stroke-width="0.55"/>
<rect x="113.3" y="184.5" width="27.299999999999997" height="11.5" fill="none" stroke="#bdbdbd" stroke-width="0.55"/>
<rect x="363.6" y="38.4" width="24.69999999999999" height="16.6" fill="none" stroke="#bdbdbd" stroke-width="0.55"/>
<rect x="360.0" y="117.3" width="26.5" height="21.000000000000014" fill="none" stroke="#bdbdbd" stroke-width="0.55"/>
<rect x="361.0" y="195.4" width="27.5" height="18.19999999999999" fill="none" stroke="#bdbdbd" stroke-width="0.55"/>
<rect x="237.9" y="46.8" width="18.299999999999983" height="9.5" fill="none" stroke="#bdbdbd" stroke-width="0.55"/>
<rect x="232.2" y="127.3" width="20.600000000000023" height="10.399999999999991" fill="none" stroke="#bdbdbd" stroke-width="0.55"/>
<rect x="237.5" y="200.3" width="19.899999999999977" height="11.699999999999989" fill="none" stroke="#bdbdbd" stroke-width="0.55"/>
<rect x="482.3" y="48.3" width="20.399999999999977" height="6.700000000000003" fill="none" stroke="#bdbdbd" stroke-width="0.55"/>
<rect x="485.2" y="124.3" width="20.5" height="8.700000000000003" fill="none" stroke="#bdbdbd" stroke-width="0.55"/>
<rect x="483.5" y="203.3" width="20.69999999999999" height="7.699999999999989" fill="none" stroke="#bdbdbd" stroke-width="0.55"/>
<g transform="translate(106,42) rotate(-35)"><ellipse rx="16" ry="10" fill="#d8d8d8" opacity="0.35" filter="url(#bl)"/></g>
<path d="M93.2,32.2 L95.4,31.6 L97.2,30.4 L99.1,31.6 L100.9,32.4 L102.5,30.3 L104.2,31.8" fill="none" stroke="#bcbcbc" stroke-width="0.4"/>
<path d="M94.0,31.9 L95.8,31.9 L97.7,31.1 L100.5,32.6 L103.0,33.1 L105.0,31.8" fill="none" stroke="#bcbcbc" stroke-width="0.4"/>
<path d="M96.0,33.1 L98.3,32.8 L99.8,33.7 L101.4,33.3 L103.1,32.0 L104.9,32.1 L106.6,33.7 L109.2,32.8" fill="none" stroke="#bcbcbc" stroke-width="0.4"/>
<path d="M95.0,34.0 L97.8,35.0 L100.3,33.2 L101.9,33.2 L104.0,35.6" fill="none" stroke="#bcbcbc" stroke-width="0.4"/>
<path d="M92.7,36.9 L95.4,37.0 L97.1,35.4 L99.8,36.8 L102.7,36.1 L105.5,35.3" fill="none" stroke="#bcbcbc" stroke-width="0.4"/>
<path d="M94.0,37.6 L96.6,37.1 L98.1,36.9 L100.9,36.4 L103.8,36.8 L105.6,36.4 L108.6,38.5" fill="none" stroke="#bcbcbc" stroke-width="0.4"/>
<path d="M95.9,36.1 L98.4,38.3 L100.6,37.5 L103.3,36.7 L105.2,37.8" fill="none" stroke="#bcbcbc" stroke-width="0.4"/>
<path d="M98.00,33.00 C98.50,31.67 102.00,29.92 104.00,29.00 C106.00,28.08 107.67,27.83 110.00,27.50 C112.33,27.17 115.83,26.58 118.00,27.00 C120.17,27.42 122.17,28.50 123.00,30.00 C123.83,31.50 123.83,34.33 123.00,36.00 C122.17,37.67 119.33,38.33 118.00,40.00 C116.67,41.67 115.83,43.67 115.00,46.00 C114.17,48.33 114.17,51.83 113.00,54.00 C111.83,56.17 110.00,58.33 108.00,59.00 C106.00,59.67 102.50,59.17 101.00,58.00 C99.50,56.83 98.67,54.17 99.00,52.00 C99.33,49.83 101.83,47.00 103.00,45.00 C104.17,43.00 106.33,41.33 106.00,40.00 C105.67,38.67 102.33,38.17 101.00,37.00 C99.67,35.83 97.50,34.33 98.00,33.00Z" fill="#eeeeee" fill-opacity="0.8" stroke="#a4a4a4" stroke-width="0.5"/>
<path d="M100.04,34.42 C100.45,33.33 103.32,31.89 104.96,31.14 C106.60,30.39 107.97,30.19 109.88,29.91 C111.79,29.64 114.66,29.16 116.44,29.50 C118.22,29.84 119.86,30.73 120.54,31.96 C121.22,33.19 121.22,35.52 120.54,36.88 C119.86,38.25 117.53,38.80 116.44,40.16 C115.35,41.53 114.66,43.17 113.98,45.08 C113.30,47.00 113.30,49.87 112.34,51.64 C111.38,53.42 109.88,55.20 108.24,55.74 C106.60,56.29 103.73,55.88 102.50,54.92 C101.27,53.97 100.59,51.78 100.86,50.00 C101.13,48.23 103.18,45.90 104.14,44.26 C105.10,42.62 106.87,41.26 106.60,40.16 C106.33,39.07 103.59,38.66 102.50,37.70 C101.41,36.75 99.63,35.52 100.04,34.42Z" fill="#e2e2e2" fill-opacity="0.7" stroke="#9a9a9a" stroke-width="0.5"/>
<line x1="93.6" y1="46.3" x2="96.0" y2="48.8" stroke="#c8c8c8" stroke-width="0.4"/>
<line x1="108.8" y1="36.8" x2="106.3" y2="38.7" stroke="#c8c8c8" stroke-width="0.4"/>
<line x1="91.9" y1="26.7" x2="92.7" y2="30.2" stroke="#c8c8c8" stroke-width="0.4"/>
<line x1="120.0" y1="26.1" x2="118.3" y2="28.1" stroke="#c8c8c8" stroke-width="0.4"/>
<line x1="97.6" y1="48.7" x2="101.3" y2="49.0" stroke="#c8c8c8" stroke-width="0.4"/>
<line x1="89.1" y1="39.0" x2="90.5" y2="42.6" stroke="#c8c8c8" stroke-width="0.4"/>
<line x1="97.1" y1="36.1" x2="98.3" y2="37.1" stroke="#c8c8c8" stroke-width="0.4"/>
<line x1="106.4" y1="37.9" x2="108.0" y2="39.3" stroke="#c8c8c8" stroke-width="0.4"/>
<line x1="97.2" y1="37.0" x2="99.4" y2="37.2" stroke="#c8c8c8" stroke-width="0.4"/>
<line x1="123.2" y1="39.4" x2="125.8" y2="41.1" stroke="#c8c8c8" stroke-width="0.4"/>
<line x1="129.7" y1="46.6" x2="130.6" y2="48.2" stroke="#c8c8c8" stroke-width="0.4"/>
<line x1="118.3" y1="43.1" x2="119.2" y2="46.8" stroke="#c8c8c8" stroke-width="0.4"/>
<line x1="122.9" y1="42.1" x2="122.2" y2="44.3" stroke="#c8c8c8" stroke-width="0.4"/>
<line x1="125.1" y1="46.3" x2="124.3" y2="49.0" stroke="#c8c8c8" stroke-width="0.4"/>
<line x1="89.5" y1="31.8" x2="90.4" y2="35.2" stroke="#c8c8c8" stroke-width="0.4"/>
<line x1="95.3" y1="39.2" x2="93.6" y2="42.0" stroke="#c8c8c8" stroke-width="0.4"/>
<line x1="103.7" y1="36.5" x2="101.6" y2="38.3" stroke="#c8c8c8" stroke-width="0.4"/>
<line x1="109.9" y1="35.4" x2="112.6" y2="35.7" stroke="#c8c8c8" stroke-width="0.4"/>
<line x1="89.8" y1="42.9" x2="88.7" y2="46.7" stroke="#c8c8c8" stroke-width="0.4"/>
<line x1="104.5" y1="30.1" x2="101.8" y2="30.2" stroke="#c8c8c8" stroke-width="0.4"/>
<line x1="120.4" y1="39.0" x2="123.1" y2="41.4" stroke="#c8c8c8" stroke-width="0.4"/>
<line x1="109.6" y1="48.9" x2="110.0" y2="51.8" stroke="#c8c8c8" stroke-width="0.4"/>
<path d="M112,38 L115,44 L117,50 L116,56" fill="none" stroke="#b8b8b8" stroke-width="0.45"/>
<path d="M118,37 L121,43 L123,48" fill="none" stroke="#b8b8b8" stroke-width="0.45"/>
<path d="M124,36 L128,41 L131,47" fill="none" stroke="#b8b8b8" stroke-width="0.45"/>
<path d="M121.0,31.3 L121.0,32.4 L120.6,33.6 L119.8,34.6 L118.9,35.5 L118.1,36.4 L117.0,37.4 L115.7,38.2 L114.1,38.6 L112.5,38.4 L111.1,38.1 L109.7,37.6 L108.5,37.1 L107.5,36.2 L107.2,35.0 L107.4,33.8 L107.9,32.6 L108.5,31.6 L109.3,30.6 L110.5,29.8 L111.8,29.2 L113.1,28.7 L114.5,28.1 L116.2,27.6 L117.9,27.5 L119.4,28.0 L120.4,29.0 L120.8,30.2Z" fill="#f0f0f0" fill-opacity="0.55" stroke="#c3c3c3" stroke-width="0.45"/>
<path d="M120.0,31.6 L119.7,32.6 L119.4,33.5 L119.0,34.4 L118.5,35.2 L117.6,36.0 L116.6,36.6 L115.4,37.2 L114.1,37.7 L112.7,37.9 L111.4,37.6 L110.4,37.0 L109.6,36.3 L108.9,35.5 L108.4,34.7 L108.2,33.7 L108.6,32.7 L109.4,31.8 L110.3,31.0 L111.1,30.3 L112.1,29.6 L113.2,29.1 L114.5,28.8 L115.8,28.7 L117.2,28.6 L118.6,28.8 L119.7,29.5 L120.1,30.5Z" fill="#dedede" fill-opacity="0.55" stroke="#ababab" stroke-width="0.51"/>
<path d="M119.2,31.8 L119.2,32.6 L119.1,33.4 L118.7,34.3 L118.0,35.0 L117.1,35.6 L116.1,36.0 L115.2,36.3 L114.1,36.6 L113.1,36.6 L112.2,36.4 L111.4,36.0 L110.6,35.6 L109.8,35.1 L109.2,34.5 L108.9,33.6 L109.2,32.7 L109.8,31.9 L110.6,31.2 L111.5,30.7 L112.5,30.2 L113.5,30.0 L114.4,29.9 L115.4,29.9 L116.4,29.8 L117.5,29.9 L118.5,30.3 L119.0,31.0Z" fill="#c8c8c8" fill-opacity="0.85" stroke="#939393" stroke-width="0.57"/>
<path d="M117.9,32.1 L118.0,32.7 L117.9,33.4 L117.6,34.0 L117.2,34.6 L116.7,35.2 L115.9,35.6 L115.0,35.8 L114.2,35.9 L113.3,36.0 L112.5,35.9 L111.8,35.6 L111.4,35.1 L111.2,34.5 L111.0,34.0 L110.9,33.4 L110.8,32.8 L110.9,32.2 L111.3,31.6 L111.9,31.0 L112.7,30.5 L113.5,30.2 L114.4,30.0 L115.3,30.2 L116.0,30.5 L116.5,30.9 L117.0,31.2 L117.6,31.6Z" fill="#b0b0b0" fill-opacity="0.85" stroke="#7b7b7b" stroke-width="0.64"/>
<path d="M116.9,32.4 L117.1,32.8 L117.1,33.3 L117.0,33.8 L116.5,34.2 L116.0,34.6 L115.4,34.8 L114.8,34.9 L114.2,35.0 L113.7,35.0 L113.1,34.9 L112.7,34.7 L112.2,34.5 L111.7,34.3 L111.4,33.9 L111.4,33.4 L111.6,32.9 L111.9,32.5 L112.2,32.1 L112.7,31.7 L113.2,31.4 L113.8,31.2 L114.4,31.2 L115.0,31.2 L115.5,31.2 L116.0,31.4 L116.4,31.7 L116.7,32.0Z" fill="#969696" fill-opacity="0.85" stroke="#646464" stroke-width="0.70"/>
<g transform="translate(114.3,33.1) rotate(-15)"><ellipse rx="1.5" ry="1.4" fill="#a0a0a0" filter="url(#bs)"/></g>
<path d="M110.4,44.8 L111.1,45.8 L111.9,46.8 L112.4,48.0 L112.6,49.4 L112.3,51.0 L111.9,52.6 L111.2,54.2 L110.4,55.9 L109.1,57.2 L107.6,58.1 L106.1,58.6 L104.7,58.8 L103.2,58.9 L101.8,58.5 L100.9,57.4 L100.6,55.8 L100.7,54.2 L100.8,52.8 L100.8,51.4 L101.0,49.8 L101.6,48.2 L102.6,46.7 L103.7,45.2 L105.1,43.9 L106.7,42.9 L108.3,42.9 L109.6,43.6Z" fill="#f0f0f0" fill-opacity="0.55" stroke="#c3c3c3" stroke-width="0.45"/>
<path d="M110.5,44.6 L111.5,45.4 L112.1,46.6 L112.5,47.9 L112.5,49.4 L112.1,51.0 L111.2,52.4 L110.2,53.6 L109.3,54.6 L108.5,55.8 L107.4,57.0 L106.1,57.8 L104.8,58.0 L103.6,57.8 L102.5,57.4 L101.5,56.8 L100.8,55.8 L100.5,54.4 L100.7,52.8 L101.0,51.4 L101.4,49.9 L102.1,48.5 L103.1,47.3 L104.3,46.5 L105.5,46.0 L106.6,45.4 L107.9,44.8 L109.2,44.4Z" fill="#d9d9d9" fill-opacity="0.55" stroke="#a4a4a4" stroke-width="0.50"/>
<path d="M109.7,45.9 L110.5,46.5 L111.2,47.3 L111.7,48.4 L111.5,49.7 L111.0,51.1 L110.4,52.2 L109.8,53.3 L109.1,54.4 L108.3,55.4 L107.3,56.2 L106.2,56.8 L105.0,57.3 L103.8,57.5 L102.6,57.2 L101.9,56.3 L101.7,55.0 L101.7,53.7 L101.8,52.5 L101.9,51.3 L102.2,50.1 L102.8,49.0 L103.6,47.9 L104.5,46.9 L105.5,46.0 L106.6,45.3 L107.8,45.1 L108.8,45.3Z" fill="#bcbcbc" fill-opacity="0.85" stroke="#858585" stroke-width="0.55"/>
<path d="M109.0,47.1 L109.4,47.7 L109.9,48.4 L110.4,49.1 L110.6,50.0 L110.5,51.1 L110.3,52.2 L109.8,53.3 L109.2,54.5 L108.3,55.3 L107.2,55.8 L106.2,55.9 L105.3,55.9 L104.4,55.9 L103.6,55.7 L103.0,55.1 L102.6,54.3 L102.5,53.3 L102.4,52.3 L102.4,51.3 L102.6,50.2 L103.1,49.1 L103.8,48.1 L104.6,47.2 L105.6,46.4 L106.6,45.9 L107.6,45.9 L108.4,46.4Z" fill="#9c9c9c" fill-opacity="0.85" stroke="#666666" stroke-width="0.60"/>
<path d="M109.0,47.1 L109.5,47.7 L109.8,48.5 L109.9,49.3 L109.9,50.2 L109.9,51.1 L109.6,52.0 L109.1,52.9 L108.4,53.6 L107.7,54.1 L107.0,54.6 L106.3,55.1 L105.5,55.3 L104.7,55.2 L104.0,55.0 L103.4,54.6 L102.8,54.1 L102.5,53.3 L102.6,52.3 L103.0,51.3 L103.5,50.5 L104.0,49.7 L104.5,48.9 L105.1,48.2 L105.8,47.7 L106.5,47.3 L107.3,47.1 L108.2,46.9Z" fill="#797979" fill-opacity="0.85" stroke="#474747" stroke-width="0.65"/>
<path d="M108.2,48.4 L108.7,48.5 L109.2,48.9 L109.4,49.6 L109.4,50.3 L109.2,51.1 L108.9,51.8 L108.6,52.6 L108.1,53.2 L107.5,53.7 L106.9,54.0 L106.3,54.2 L105.7,54.3 L105.1,54.3 L104.6,54.1 L104.2,53.7 L103.9,53.2 L103.6,52.7 L103.4,52.1 L103.4,51.3 L103.6,50.5 L104.1,49.8 L104.7,49.2 L105.3,48.8 L105.9,48.4 L106.5,48.2 L107.1,48.2 L107.6,48.3Z" fill="#555555" fill-opacity="0.85" stroke="#282828" stroke-width="0.70"/>
<g transform="translate(106.4,51.2) rotate(-58)"><ellipse rx="2.6" ry="2.1" fill="#6a6a6a" filter="url(#bs)"/></g>
<g transform="translate(104,120) rotate(-30)"><ellipse rx="17" ry="10" fill="#d8d8d8" opacity="0.35" filter="url(#bl)"/></g>
<path d="M89.7,108.0 L92.1,107.1 L94.5,107.6 L96.1,107.5 L98.5,107.5 L101.3,108.0 L103.4,106.7 L105.1,108.2" fill="none" stroke="#bcbcbc" stroke-width="0.4"/>
<path d="M88.7,108.9 L90.9,108.7 L93.4,109.9 L95.9,108.9 L97.5,109.2 L100.1,109.6 L102.7,109.4 L104.8,110.7" fill="none" stroke="#bcbcbc" stroke-width="0.4"/>
<path d="M89.5,110.2 L91.9,110.2 L94.4,111.4 L97.1,110.8 L99.3,111.6 L101.5,110.7 L104.3,110.9" fill="none" stroke="#bcbcbc" stroke-width="0.4"/>
<path d="M89.6,113.0 L91.9,113.9 L94.2,112.4 L97.1,113.8 L98.9,111.6 L101.6,113.7" fill="none" stroke="#bcbcbc" stroke-width="0.4"/>
<path d="M90.1,112.6 L92.3,113.7 L94.1,113.1 L95.8,113.3 L97.7,112.2 L99.8,112.4 L101.4,112.4" fill="none" stroke="#bcbcbc" stroke-width="0.4"/>
<path d="M90.4,114.2 L92.2,114.3 L94.8,114.1 L97.0,115.6 L99.7,114.8 L102.5,115.2 L104.3,113.8" fill="none" stroke="#bcbcbc" stroke-width="0.4"/>
<path d="M88.3,118.3 L91.2,117.0 L92.7,116.5 L94.6,117.4 L97.1,118.1 L99.7,118.2 L102.1,117.0" fill="none" stroke="#bcbcbc" stroke-width="0.4"/>
<path d="M90.7,118.6 L92.3,116.8 L95.2,116.7 L97.4,117.9 L99.6,118.6 L102.5,117.2 L104.2,118.7" fill="none" stroke="#bcbcbc" stroke-width="0.4"/>
<path d="M98.00,111.00 C98.50,109.67 102.00,108.83 104.00,108.00 C106.00,107.17 107.67,106.33 110.00,106.00 C112.33,105.67 116.00,105.50 118.00,106.00 C120.00,106.50 121.33,107.33 122.00,109.00 C122.67,110.67 122.50,114.00 122.00,116.00 C121.50,118.00 120.00,119.00 119.00,121.00 C118.00,123.00 117.33,126.17 116.00,128.00 C114.67,129.83 113.00,131.50 111.00,132.00 C109.00,132.50 105.50,132.00 104.00,131.00 C102.50,130.00 101.67,127.83 102.00,126.00 C102.33,124.17 106.17,121.67 106.00,120.00 C105.83,118.33 102.33,117.50 101.00,116.00 C99.67,114.50 97.50,112.33 98.00,111.00Z" fill="#eeeeee" fill-opacity="0.8" stroke="#a4a4a4" stroke-width="0.5"/>
<path d="M100.20,112.20 C100.61,111.11 103.48,110.43 105.12,109.74 C106.76,109.06 108.13,108.38 110.04,108.10 C111.95,107.83 114.96,107.69 116.60,108.10 C118.24,108.51 119.33,109.20 119.88,110.56 C120.43,111.93 120.29,114.66 119.88,116.30 C119.47,117.94 118.24,118.76 117.42,120.40 C116.60,122.04 116.05,124.64 114.96,126.14 C113.87,127.65 112.50,129.01 110.86,129.42 C109.22,129.83 106.35,129.42 105.12,128.60 C103.89,127.78 103.21,126.01 103.48,124.50 C103.75,123.00 106.90,120.95 106.76,119.58 C106.62,118.22 103.75,117.53 102.66,116.30 C101.57,115.07 99.79,113.30 100.20,112.20Z" fill="#e2e2e2" fill-opacity="0.7" stroke="#9a9a9a" stroke-width="0.5"/>
<line x1="126.1" y1="132.4" x2="127.7" y2="132.9" stroke="#c8c8c8" stroke-width="0.4"/>
<line x1="120.9" y1="126.1" x2="122.7" y2="128.7" stroke="#c8c8c8" stroke-width="0.4"/>
<line x1="111.1" y1="122.2" x2="113.7" y2="123.6" stroke="#c8c8c8" stroke-width="0.4"/>
<line x1="103.5" y1="115.8" x2="100.2" y2="115.9" stroke="#c8c8c8" stroke-width="0.4"/>
<line x1="125.8" y1="120.3" x2="127.6" y2="122.3" stroke="#c8c8c8" stroke-width="0.4"/>
<line x1="86.5" y1="104.8" x2="88.0" y2="107.1" stroke="#c8c8c8" stroke-width="0.4"/>
<line x1="101.3" y1="130.8" x2="100.8" y2="133.5" stroke="#c8c8c8" stroke-width="0.4"/>
<line x1="95.2" y1="104.7" x2="97.3" y2="105.7" stroke="#c8c8c8" stroke-width="0.4"/>
<line x1="106.9" y1="134.0" x2="109.6" y2="135.7" stroke="#c8c8c8" stroke-width="0.4"/>
<line x1="123.4" y1="127.9" x2="120.2" y2="128.9" stroke="#c8c8c8" stroke-width="0.4"/>
<line x1="117.8" y1="127.7" x2="115.4" y2="127.8" stroke="#c8c8c8" stroke-width="0.4"/>
<line x1="126.4" y1="108.8" x2="124.2" y2="111.5" stroke="#c8c8c8" stroke-width="0.4"/>
<line x1="104.8" y1="119.9" x2="102.2" y2="120.6" stroke="#c8c8c8" stroke-width="0.4"/>
<line x1="106.5" y1="128.9" x2="104.3" y2="129.8" stroke="#c8c8c8" stroke-width="0.4"/>
<line x1="123.7" y1="117.8" x2="120.9" y2="118.6" stroke="#c8c8c8" stroke-width="0.4"/>
<line x1="116.1" y1="118.6" x2="117.2" y2="120.3" stroke="#c8c8c8" stroke-width="0.4"/>
<line x1="115.1" y1="109.0" x2="117.6" y2="111.8" stroke="#c8c8c8" stroke-width="0.4"/>
<line x1="124.2" y1="113.3" x2="121.8" y2="116.4" stroke="#c8c8c8" stroke-width="0.4"/>
<line x1="106.7" y1="119.5" x2="105.8" y2="122.5" stroke="#c8c8c8" stroke-width="0.4"/>
<line x1="98.4" y1="110.2" x2="95.7" y2="110.8" stroke="#c8c8c8" stroke-width="0.4"/>
<line x1="111.8" y1="106.3" x2="109.5" y2="109.0" stroke="#c8c8c8" stroke-width="0.4"/>
<line x1="124.0" y1="109.7" x2="127.3" y2="110.4" stroke="#c8c8c8" stroke-width="0.4"/>
<line x1="113.1" y1="112.2" x2="111.2" y2="113.0" stroke="#c8c8c8" stroke-width="0.4"/>
<line x1="89.6" y1="119.7" x2="92.2" y2="122.2" stroke="#c8c8c8" stroke-width="0.4"/>
<line x1="94.1" y1="130.4" x2="92.4" y2="132.4" stroke="#c8c8c8" stroke-width="0.4"/>
<line x1="86.4" y1="114.9" x2="85.4" y2="116.5" stroke="#c8c8c8" stroke-width="0.4"/>
<path d="M86,112 L93,116 L99,121" fill="none" stroke="#b0b0b0" stroke-width="0.45"/>
<path d="M87,119 L94,122 L100,127" fill="none" stroke="#b0b0b0" stroke-width="0.45"/>
<path d="M119,118 L123,124 L126,130" fill="none" stroke="#b0b0b0" stroke-width="0.45"/>
<path d="M123.3,110.8 L123.4,112.2 L123.4,113.6 L122.9,115.1 L121.7,116.3 L120.0,117.0 L118.2,117.4 L116.6,117.6 L115.0,117.8 L113.4,117.6 L112.0,117.2 L110.7,116.6 L109.3,115.9 L107.9,115.0 L106.9,113.7 L106.7,112.2 L107.5,110.7 L108.8,109.5 L110.2,108.5 L111.5,107.7 L113.0,107.0 L114.6,106.7 L116.2,106.7 L117.8,106.8 L119.4,106.9 L121.1,107.3 L122.4,108.2 L123.1,109.5Z" fill="#f0f0f0" fill-opacity="0.55" stroke="#c3c3c3" stroke-width="0.45"/>
<path d="M122.2,111.0 L122.1,112.2 L121.7,113.3 L120.9,114.3 L119.8,115.0 L118.7,115.6 L117.7,116.3 L116.5,117.1 L115.0,117.7 L113.4,117.7 L111.9,117.2 L110.8,116.5 L109.9,115.6 L109.2,114.5 L109.1,113.3 L109.5,112.2 L110.0,111.2 L110.5,110.2 L111.1,109.2 L112.0,108.2 L113.3,107.5 L114.7,107.3 L116.2,107.2 L117.6,107.2 L119.1,107.4 L120.5,107.9 L121.5,108.8 L122.0,109.9Z" fill="#dedede" fill-opacity="0.55" stroke="#ababab" stroke-width="0.51"/>
<path d="M120.5,111.3 L120.3,112.2 L120.2,113.0 L120.1,114.0 L119.7,114.9 L118.8,115.7 L117.6,116.3 L116.4,116.5 L115.1,116.6 L113.9,116.4 L112.9,115.9 L112.2,115.2 L111.7,114.5 L111.2,113.8 L110.7,113.1 L110.3,112.2 L110.4,111.2 L110.9,110.3 L111.7,109.6 L112.6,108.9 L113.6,108.3 L114.8,107.9 L116.1,107.9 L117.2,108.2 L118.3,108.5 L119.2,109.0 L120.0,109.6 L120.4,110.4Z" fill="#c8c8c8" fill-opacity="0.85" stroke="#939393" stroke-width="0.57"/>
<path d="M120.0,111.4 L120.0,112.2 L119.7,112.9 L119.2,113.6 L118.6,114.2 L117.8,114.6 L116.9,114.8 L116.1,114.9 L115.3,115.0 L114.4,115.1 L113.5,115.1 L112.6,114.9 L112.0,114.3 L111.6,113.7 L111.4,112.9 L111.3,112.2 L111.6,111.5 L112.1,110.8 L112.8,110.3 L113.5,109.9 L114.2,109.5 L115.1,109.1 L116.0,109.1 L116.8,109.2 L117.6,109.5 L118.3,109.8 L119.0,110.2 L119.7,110.7Z" fill="#b0b0b0" fill-opacity="0.85" stroke="#7b7b7b" stroke-width="0.64"/>
<path d="M118.3,111.7 L118.3,112.2 L118.3,112.7 L118.0,113.1 L117.6,113.5 L117.1,113.8 L116.6,114.1 L116.0,114.4 L115.3,114.6 L114.6,114.6 L114.0,114.4 L113.5,114.0 L113.1,113.6 L112.9,113.2 L112.8,112.7 L113.0,112.2 L113.2,111.8 L113.4,111.3 L113.6,110.9 L114.0,110.4 L114.5,110.1 L115.2,109.9 L115.9,109.9 L116.5,109.9 L117.1,110.1 L117.6,110.4 L118.0,110.8 L118.2,111.3Z" fill="#969696" fill-opacity="0.85" stroke="#646464" stroke-width="0.70"/>
<g transform="translate(115.6,112.2) rotate(-10)"><ellipse rx="1.6" ry="1.5" fill="#dcdcdc" filter="url(#bs)"/></g>
<path d="M117.7,121.5 L118.7,122.5 L118.8,124.0 L118.0,125.6 L116.8,127.1 L115.5,128.5 L114.1,129.8 L112.3,130.9 L110.4,131.5 L108.6,131.8 L106.9,131.9 L105.2,131.9 L103.8,131.6 L102.7,130.8 L102.1,129.8 L101.8,128.6 L101.4,127.5 L101.2,126.0 L101.6,124.4 L103.0,122.8 L104.9,121.6 L106.9,120.8 L108.8,120.2 L110.6,119.8 L112.3,119.9 L113.6,120.2 L114.9,120.6 L116.2,121.0Z" fill="#f0f0f0" fill-opacity="0.55" stroke="#c3c3c3" stroke-width="0.45"/>
<path d="M116.9,121.9 L117.6,122.9 L117.5,124.2 L116.8,125.6 L115.8,126.9 L114.8,128.1 L113.5,129.3 L111.9,130.1 L110.3,130.6 L108.7,130.9 L107.2,131.1 L105.7,131.2 L104.5,130.9 L103.6,130.1 L103.1,129.3 L102.6,128.3 L102.1,127.3 L102.0,126.0 L102.7,124.6 L104.0,123.3 L105.7,122.3 L107.3,121.5 L108.9,121.0 L110.5,120.7 L111.9,120.7 L113.1,120.9 L114.3,121.2 L115.7,121.4Z" fill="#d9d9d9" fill-opacity="0.55" stroke="#a4a4a4" stroke-width="0.50"/>
<path d="M115.2,122.8 L115.5,123.7 L115.4,124.6 L115.0,125.6 L114.3,126.6 L113.7,127.6 L112.9,128.7 L111.8,129.8 L110.3,130.7 L108.7,131.0 L107.3,130.8 L106.2,130.5 L105.3,130.1 L104.5,129.5 L104.1,128.7 L104.0,127.8 L104.0,126.9 L104.0,126.0 L104.3,124.9 L105.0,123.7 L106.2,122.8 L107.6,122.1 L109.0,121.5 L110.4,121.0 L111.9,120.7 L113.2,120.8 L114.1,121.3 L114.8,122.0Z" fill="#bcbcbc" fill-opacity="0.85" stroke="#858585" stroke-width="0.55"/>
<path d="M114.9,123.0 L115.1,123.8 L115.0,124.7 L114.6,125.7 L114.0,126.6 L113.1,127.4 L112.1,128.0 L111.0,128.5 L110.0,128.9 L109.0,129.3 L107.8,129.8 L106.6,130.0 L105.6,129.7 L104.9,129.2 L104.5,128.5 L104.2,127.7 L104.3,126.9 L104.7,125.9 L105.5,125.1 L106.3,124.3 L107.1,123.6 L108.0,122.9 L109.1,122.3 L110.3,122.0 L111.3,122.0 L112.3,122.1 L113.3,122.2 L114.2,122.4Z" fill="#9c9c9c" fill-opacity="0.85" stroke="#666666" stroke-width="0.60"/>
<path d="M113.1,123.9 L113.3,124.4 L113.5,125.0 L113.4,125.7 L113.0,126.4 L112.3,127.0 L111.6,127.6 L110.9,128.2 L110.0,128.7 L109.0,129.1 L108.1,129.2 L107.3,129.0 L106.6,128.7 L106.1,128.4 L105.8,127.8 L105.8,127.2 L106.0,126.5 L106.3,125.9 L106.5,125.3 L106.8,124.6 L107.4,123.8 L108.2,123.2 L109.2,122.8 L110.2,122.6 L111.1,122.5 L111.9,122.6 L112.5,122.9 L112.9,123.4Z" fill="#797979" fill-opacity="0.85" stroke="#474747" stroke-width="0.65"/>
<path d="M112.3,124.4 L112.5,124.7 L112.6,125.2 L112.5,125.7 L112.2,126.3 L111.8,126.8 L111.3,127.3 L110.6,127.7 L109.9,127.8 L109.2,127.9 L108.7,127.9 L108.1,127.9 L107.5,127.8 L107.1,127.6 L106.8,127.3 L106.6,126.9 L106.6,126.4 L106.7,125.9 L107.0,125.3 L107.5,124.8 L108.1,124.4 L108.7,124.1 L109.3,123.7 L110.0,123.5 L110.6,123.5 L111.2,123.6 L111.5,123.9 L111.9,124.1Z" fill="#555555" fill-opacity="0.85" stroke="#282828" stroke-width="0.70"/>
<g transform="translate(109.6,125.8) rotate(-28)"><ellipse rx="2.6" ry="0.9" fill="#f2f2f2" filter="url(#bs)"/></g>
<g transform="translate(113,198) rotate(-35)"><ellipse rx="14" ry="10" fill="#d8d8d8" opacity="0.35" filter="url(#bl)"/></g>
<path d="M98.7,189.4 L100.6,187.7 L103.0,187.8 L105.0,189.8 L107.8,187.8" fill="none" stroke="#bcbcbc" stroke-width="0.4"/>
<path d="M101.0,188.8 L102.6,188.6 L104.9,188.7 L107.0,190.2 L109.6,189.3" fill="none" stroke="#bcbcbc" stroke-width="0.4"/>
<path d="M101.0,191.8 L103.3,193.3 L105.8,192.1 L107.6,191.5 L109.5,193.4" fill="none" stroke="#bcbcbc" stroke-width="0.4"/>
<path d="M99.2,194.1 L101.4,193.7 L103.5,194.0 L105.2,195.7 L106.8,195.4" fill="none" stroke="#bcbcbc" stroke-width="0.4"/>
<path d="M98.9,196.6 L101.3,196.1 L103.8,194.8 L106.1,195.6" fill="none" stroke="#bcbcbc" stroke-width="0.4"/>
<path d="M104.00,192.00 C104.67,190.50 107.17,188.17 109.00,187.00 C110.83,185.83 112.83,185.17 115.00,185.00 C117.17,184.83 120.17,185.00 122.00,186.00 C123.83,187.00 125.33,188.83 126.00,191.00 C126.67,193.17 126.83,197.00 126.00,199.00 C125.17,201.00 122.67,201.67 121.00,203.00 C119.33,204.33 117.67,205.33 116.00,207.00 C114.33,208.67 113.00,212.00 111.00,213.00 C109.00,214.00 105.67,213.83 104.00,213.00 C102.33,212.17 100.67,210.00 101.00,208.00 C101.33,206.00 105.33,203.00 106.00,201.00 C106.67,199.00 105.33,197.50 105.00,196.00 C104.67,194.50 103.33,193.50 104.00,192.00Z" fill="#eeeeee" fill-opacity="0.8" stroke="#a4a4a4" stroke-width="0.5"/>
<path d="M105.58,193.18 C106.13,191.95 108.18,190.03 109.68,189.08 C111.18,188.12 112.82,187.57 114.60,187.44 C116.38,187.30 118.84,187.44 120.34,188.26 C121.84,189.08 123.07,190.58 123.62,192.36 C124.17,194.13 124.30,197.28 123.62,198.92 C122.94,200.56 120.89,201.10 119.52,202.20 C118.15,203.29 116.79,204.11 115.42,205.48 C114.05,206.84 112.96,209.58 111.32,210.40 C109.68,211.22 106.95,211.08 105.58,210.40 C104.21,209.71 102.85,207.94 103.12,206.30 C103.39,204.66 106.67,202.20 107.22,200.56 C107.77,198.92 106.67,197.69 106.40,196.46 C106.13,195.23 105.03,194.41 105.58,193.18Z" fill="#e2e2e2" fill-opacity="0.7" stroke="#9a9a9a" stroke-width="0.5"/>
<line x1="101.3" y1="200.3" x2="100.6" y2="202.6" stroke="#c8c8c8" stroke-width="0.4"/>
<line x1="114.9" y1="186.0" x2="113.6" y2="186.7" stroke="#c8c8c8" stroke-width="0.4"/>
<line x1="102.1" y1="191.0" x2="102.5" y2="195.0" stroke="#c8c8c8" stroke-width="0.4"/>
<line x1="122.3" y1="198.3" x2="125.0" y2="199.7" stroke="#c8c8c8" stroke-width="0.4"/>
<line x1="115.2" y1="210.0" x2="113.3" y2="212.1" stroke="#c8c8c8" stroke-width="0.4"/>
<line x1="116.5" y1="185.9" x2="115.5" y2="189.2" stroke="#c8c8c8" stroke-width="0.4"/>
<line x1="103.5" y1="184.9" x2="103.9" y2="188.6" stroke="#c8c8c8" stroke-width="0.4"/>
<line x1="118.2" y1="210.4" x2="115.0" y2="211.2" stroke="#c8c8c8" stroke-width="0.4"/>
<line x1="106.8" y1="208.0" x2="104.3" y2="208.6" stroke="#c8c8c8" stroke-width="0.4"/>
<line x1="123.8" y1="186.9" x2="125.2" y2="188.1" stroke="#c8c8c8" stroke-width="0.4"/>
<line x1="126.8" y1="197.1" x2="128.6" y2="199.6" stroke="#c8c8c8" stroke-width="0.4"/>
<line x1="110.8" y1="195.6" x2="110.1" y2="197.9" stroke="#c8c8c8" stroke-width="0.4"/>
<line x1="113.4" y1="211.1" x2="110.3" y2="211.8" stroke="#c8c8c8" stroke-width="0.4"/>
<line x1="123.0" y1="213.7" x2="125.7" y2="215.3" stroke="#c8c8c8" stroke-width="0.4"/>
<line x1="123.1" y1="212.9" x2="122.3" y2="216.6" stroke="#c8c8c8" stroke-width="0.4"/>
<line x1="118.0" y1="190.3" x2="117.2" y2="193.8" stroke="#c8c8c8" stroke-width="0.4"/>
<line x1="103.0" y1="185.9" x2="99.3" y2="186.0" stroke="#c8c8c8" stroke-width="0.4"/>
<line x1="96.1" y1="208.0" x2="98.3" y2="209.2" stroke="#c8c8c8" stroke-width="0.4"/>
<line x1="103.3" y1="207.1" x2="106.9" y2="207.6" stroke="#c8c8c8" stroke-width="0.4"/>
<line x1="114.5" y1="185.3" x2="116.2" y2="188.2" stroke="#c8c8c8" stroke-width="0.4"/>
<path d="M120,201 L124,206 L127,212" fill="none" stroke="#b8b8b8" stroke-width="0.45"/>
<path d="M125,198 L129,203 L132,208" fill="none" stroke="#b8b8b8" stroke-width="0.45"/>
<path d="M128.2,192.5 L128.4,194.7 L128.0,197.0 L127.1,199.1 L125.7,201.0 L123.7,202.4 L121.4,203.2 L119.1,203.5 L116.8,203.6 L114.6,203.5 L112.4,202.9 L110.5,201.7 L109.1,200.0 L108.1,198.1 L107.4,196.2 L106.9,194.1 L107.0,191.8 L107.9,189.7 L109.4,187.9 L111.3,186.4 L113.4,185.3 L115.8,184.7 L118.2,184.8 L120.3,185.6 L122.2,186.6 L124.0,187.7 L125.7,188.9 L127.3,190.5Z" fill="#ececec" fill-opacity="0.6" stroke="#c4c4c4" stroke-width="0.5"/>
<path d="M126.1,192.9 L126.3,194.7 L125.8,196.4 L124.9,198.0 L123.8,199.5 L122.5,200.8 L120.9,202.0 L119.0,202.7 L116.9,202.8 L114.9,202.5 L113.0,201.8 L111.3,200.8 L110.1,199.3 L109.6,197.6 L109.4,195.8 L109.5,194.2 L109.6,192.5 L110.0,190.7 L110.9,189.1 L112.3,187.7 L114.1,186.7 L116.0,186.1 L118.1,185.9 L120.1,186.2 L121.9,187.1 L123.3,188.4 L124.4,189.8 L125.4,191.2Z" fill="#d8d8d8" fill-opacity="0.8" stroke="#a8a8a8" stroke-width="0.5"/>
<path d="M125.3,193.0 L125.4,194.6 L125.0,196.2 L124.2,197.7 L123.1,198.9 L121.9,200.0 L120.3,200.7 L118.7,201.0 L117.0,200.9 L115.5,200.6 L113.9,200.3 L112.3,199.7 L110.9,198.8 L110.0,197.4 L109.6,195.8 L109.6,194.2 L109.9,192.6 L110.7,191.1 L111.9,189.9 L113.4,189.1 L114.9,188.5 L116.4,188.0 L118.0,187.6 L119.7,187.6 L121.3,188.1 L122.6,189.1 L123.7,190.2 L124.7,191.5Z" fill="#bdbdbd" fill-opacity="0.9" stroke="#8c8c8c" stroke-width="0.5"/>
<g transform="translate(117.5,194.4) rotate(-10)" filter="url(#bs)"><ellipse rx="6.8" ry="6.2" fill="#8e8e8e" stroke="#404040" stroke-width="0.8"/><ellipse cy="-1.86" rx="4.90" ry="3.10" fill="#4e4e4e"/><ellipse cy="1.24" rx="4.22" ry="3.10" fill="#a8a8a8"/><ellipse cx="0.00" cy="-2.79" rx="1.77" ry="1.24" fill="#f4f4f4"/></g>
<path d="M117.1,199.3 L117.6,200.3 L117.3,201.8 L116.7,203.4 L115.9,205.0 L114.6,206.7 L113.0,208.3 L111.3,209.6 L109.6,210.8 L107.9,211.9 L106.1,212.9 L104.4,213.5 L103.1,213.5 L102.1,213.1 L101.2,212.6 L100.3,212.0 L99.7,211.1 L99.9,209.6 L100.9,207.9 L102.4,206.1 L104.1,204.5 L105.8,203.0 L107.6,201.9 L109.3,201.1 L110.8,200.7 L112.3,200.1 L114.0,199.5 L115.8,199.0Z" fill="#f0f0f0" fill-opacity="0.55" stroke="#c3c3c3" stroke-width="0.45"/>
<path d="M114.6,201.4 L115.1,202.0 L115.5,202.7 L115.5,203.8 L115.0,205.2 L114.0,206.7 L112.7,208.1 L111.2,209.5 L109.6,210.7 L108.0,211.5 L106.6,211.7 L105.5,211.6 L104.5,211.7 L103.3,211.9 L102.2,211.8 L101.5,211.2 L101.4,210.2 L101.6,209.0 L102.2,207.6 L103.1,206.1 L104.5,204.7 L106.1,203.5 L107.7,202.5 L109.2,201.7 L110.7,200.9 L112.1,200.4 L113.3,200.3 L114.1,200.7Z" fill="#d2d2d2" fill-opacity="0.55" stroke="#9c9c9c" stroke-width="0.51"/>
<path d="M114.1,201.8 L114.6,202.4 L114.7,203.2 L114.4,204.2 L113.7,205.4 L112.7,206.6 L111.8,207.7 L110.6,208.8 L109.4,209.7 L108.1,210.3 L107.0,210.6 L106.0,210.9 L104.9,211.2 L103.7,211.4 L102.8,211.2 L102.4,210.6 L102.4,209.7 L102.7,208.6 L103.3,207.4 L104.3,206.2 L105.5,205.1 L106.8,204.2 L107.9,203.5 L109.1,202.6 L110.3,201.8 L111.6,201.3 L112.7,201.2 L113.4,201.4Z" fill="#acacac" fill-opacity="0.85" stroke="#757575" stroke-width="0.57"/>
<path d="M112.7,203.0 L113.0,203.4 L113.1,204.0 L112.8,204.8 L112.3,205.7 L111.6,206.5 L111.0,207.4 L110.2,208.3 L109.2,209.1 L108.2,209.8 L107.1,210.3 L106.1,210.6 L105.2,210.8 L104.5,210.6 L104.3,210.0 L104.4,209.3 L104.6,208.5 L104.8,207.8 L105.0,207.1 L105.4,206.2 L106.1,205.3 L107.0,204.5 L108.0,203.6 L109.0,202.9 L110.1,202.4 L111.1,202.2 L111.8,202.3 L112.3,202.6Z" fill="#828282" fill-opacity="0.85" stroke="#4e4e4e" stroke-width="0.64"/>
<path d="M111.8,203.7 L112.0,204.1 L112.1,204.6 L111.8,205.2 L111.4,205.9 L110.8,206.5 L110.2,207.1 L109.7,207.7 L109.0,208.3 L108.3,208.8 L107.5,209.2 L106.8,209.5 L106.1,209.6 L105.6,209.5 L105.3,209.2 L105.3,208.7 L105.5,208.1 L105.7,207.5 L106.0,206.9 L106.3,206.3 L106.8,205.6 L107.5,205.0 L108.2,204.5 L108.9,204.0 L109.7,203.6 L110.4,203.3 L111.0,203.3 L111.5,203.5Z" fill="#555555" fill-opacity="0.85" stroke="#282828" stroke-width="0.70"/>
<g transform="translate(108.6,206.4) rotate(-40)"><ellipse rx="4.1" ry="0.8" fill="#f2f2f2" filter="url(#bs)"/></g>
<g transform="translate(355,40) rotate(-35)"><ellipse rx="16" ry="10" fill="#d8d8d8" opacity="0.35" filter="url(#bl)"/></g>
<path d="M336.2,31.0 L338.2,32.3 L340.9,30.5 L342.7,32.8 L344.4,32.1 L346.4,32.1 L349.2,31.9" fill="none" stroke="#bcbcbc" stroke-width="0.4"/>
<path d="M334.7,31.8 L336.9,32.1 L338.8,31.2 L341.2,31.0 L343.6,32.8 L346.3,31.4 L348.4,33.1" fill="none" stroke="#bcbcbc" stroke-width="0.4"/>
<path d="M332.2,33.3 L334.7,35.2 L337.0,34.8 L339.9,35.7 L341.7,34.5 L343.2,34.1 L344.9,33.6 L347.4,33.4" fill="none" stroke="#bcbcbc" stroke-width="0.4"/>
<path d="M335.9,33.1 L338.3,34.8 L340.8,34.3 L343.1,34.8 L345.0,35.1 L347.6,35.1 L350.4,35.1" fill="none" stroke="#bcbcbc" stroke-width="0.4"/>
<path d="M335.4,35.1 L338.3,35.6 L340.5,36.2 L342.1,36.6 L344.5,37.2 L346.9,35.9 L349.3,37.6" fill="none" stroke="#bcbcbc" stroke-width="0.4"/>
<path d="M331.1,37.5 L332.8,37.8 L334.6,37.1 L336.4,37.5 L338.3,39.0 L339.9,37.4 L341.5,38.2 L343.3,38.3 L345.2,37.4 L347.4,37.1" fill="none" stroke="#bcbcbc" stroke-width="0.4"/>
<path d="M333.4,40.3 L335.6,38.8 L337.4,38.8 L340.1,39.4 L342.0,40.1 L343.7,38.7 L346.4,40.2 L348.6,37.8" fill="none" stroke="#bcbcbc" stroke-width="0.4"/>
<path d="M346.00,33.00 C346.50,31.67 349.17,30.00 351.00,29.00 C352.83,28.00 354.67,27.33 357.00,27.00 C359.33,26.67 363.00,26.50 365.00,27.00 C367.00,27.50 368.33,28.33 369.00,30.00 C369.67,31.67 369.67,35.17 369.00,37.00 C368.33,38.83 366.00,39.33 365.00,41.00 C364.00,42.67 363.83,45.17 363.00,47.00 C362.17,48.83 361.67,50.83 360.00,52.00 C358.33,53.17 355.00,54.00 353.00,54.00 C351.00,54.00 348.50,53.33 348.00,52.00 C347.50,50.67 349.17,48.00 350.00,46.00 C350.83,44.00 353.33,41.50 353.00,40.00 C352.67,38.50 349.17,38.17 348.00,37.00 C346.83,35.83 345.50,34.33 346.00,33.00Z" fill="#eeeeee" fill-opacity="0.8" stroke="#a4a4a4" stroke-width="0.5"/>
<path d="M347.97,34.16 C348.38,33.06 350.56,31.70 352.07,30.88 C353.57,30.06 355.07,29.51 356.99,29.24 C358.90,28.96 361.91,28.83 363.55,29.24 C365.19,29.65 366.28,30.33 366.83,31.70 C367.37,33.06 367.37,35.93 366.83,37.44 C366.28,38.94 364.37,39.35 363.55,40.72 C362.73,42.08 362.59,44.13 361.91,45.64 C361.22,47.14 360.81,48.78 359.45,49.74 C358.08,50.69 355.35,51.38 353.71,51.38 C352.07,51.38 350.02,50.83 349.61,49.74 C349.20,48.64 350.56,46.46 351.25,44.82 C351.93,43.18 353.98,41.13 353.71,39.90 C353.43,38.67 350.56,38.39 349.61,37.44 C348.65,36.48 347.56,35.25 347.97,34.16Z" fill="#e2e2e2" fill-opacity="0.7" stroke="#9a9a9a" stroke-width="0.5"/>
<line x1="342.9" y1="30.0" x2="345.1" y2="31.2" stroke="#c8c8c8" stroke-width="0.4"/>
<line x1="335.1" y1="38.6" x2="332.0" y2="40.9" stroke="#c8c8c8" stroke-width="0.4"/>
<line x1="367.2" y1="33.4" x2="369.0" y2="35.6" stroke="#c8c8c8" stroke-width="0.4"/>
<line x1="339.9" y1="30.1" x2="338.0" y2="30.5" stroke="#c8c8c8" stroke-width="0.4"/>
<line x1="370.1" y1="50.4" x2="373.0" y2="52.4" stroke="#c8c8c8" stroke-width="0.4"/>
<line x1="346.3" y1="45.2" x2="343.3" y2="46.7" stroke="#c8c8c8" stroke-width="0.4"/>
<line x1="372.5" y1="29.5" x2="370.9" y2="32.1" stroke="#c8c8c8" stroke-width="0.4"/>
<line x1="355.3" y1="32.2" x2="357.9" y2="32.9" stroke="#c8c8c8" stroke-width="0.4"/>
<line x1="375.0" y1="52.1" x2="376.7" y2="54.4" stroke="#c8c8c8" stroke-width="0.4"/>
<line x1="373.8" y1="43.6" x2="370.5" y2="45.3" stroke="#c8c8c8" stroke-width="0.4"/>
<line x1="355.4" y1="39.0" x2="356.0" y2="41.9" stroke="#c8c8c8" stroke-width="0.4"/>
<line x1="339.4" y1="35.8" x2="342.9" y2="36.3" stroke="#c8c8c8" stroke-width="0.4"/>
<line x1="334.1" y1="45.2" x2="333.9" y2="47.4" stroke="#c8c8c8" stroke-width="0.4"/>
<line x1="353.7" y1="36.9" x2="356.9" y2="39.2" stroke="#c8c8c8" stroke-width="0.4"/>
<line x1="351.0" y1="32.9" x2="353.0" y2="35.2" stroke="#c8c8c8" stroke-width="0.4"/>
<line x1="348.4" y1="48.7" x2="347.9" y2="50.9" stroke="#c8c8c8" stroke-width="0.4"/>
<line x1="373.6" y1="29.9" x2="374.8" y2="31.0" stroke="#c8c8c8" stroke-width="0.4"/>
<line x1="367.2" y1="44.8" x2="368.3" y2="46.7" stroke="#c8c8c8" stroke-width="0.4"/>
<line x1="340.2" y1="40.3" x2="339.2" y2="41.6" stroke="#c8c8c8" stroke-width="0.4"/>
<line x1="373.2" y1="54.7" x2="369.9" y2="55.1" stroke="#c8c8c8" stroke-width="0.4"/>
<line x1="332.8" y1="35.4" x2="329.9" y2="37.9" stroke="#c8c8c8" stroke-width="0.4"/>
<line x1="350.9" y1="54.4" x2="348.3" y2="56.0" stroke="#c8c8c8" stroke-width="0.4"/>
<line x1="345.5" y1="32.6" x2="347.9" y2="33.6" stroke="#c8c8c8" stroke-width="0.4"/>
<line x1="349.6" y1="54.9" x2="351.9" y2="55.0" stroke="#c8c8c8" stroke-width="0.4"/>
<line x1="334.1" y1="31.9" x2="335.5" y2="35.1" stroke="#c8c8c8" stroke-width="0.4"/>
<line x1="345.4" y1="29.8" x2="346.3" y2="33.7" stroke="#c8c8c8" stroke-width="0.4"/>
<path d="M368,40 L373,46 L376,52" fill="none" stroke="#b0b0b0" stroke-width="0.45"/>
<path d="M363,42 L367,48 L370,54" fill="none" stroke="#b0b0b0" stroke-width="0.45"/>
<path d="M371.2,31.8 L371.0,33.4 L369.9,35.0 L368.5,36.2 L367.2,37.3 L366.1,38.4 L364.7,39.5 L363.0,40.3 L361.1,40.8 L359.1,41.1 L357.0,41.1 L354.9,40.7 L353.5,39.7 L352.9,38.2 L352.8,36.7 L352.9,35.3 L353.0,33.8 L353.6,32.4 L354.8,31.1 L356.4,30.1 L358.2,29.4 L359.9,28.7 L361.7,28.1 L363.7,27.8 L365.6,28.0 L367.3,28.6 L368.9,29.4 L370.3,30.4Z" fill="#f0f0f0" fill-opacity="0.55" stroke="#c3c3c3" stroke-width="0.45"/>
<path d="M368.1,32.6 L368.4,33.7 L368.6,34.9 L368.4,36.2 L367.6,37.5 L366.2,38.6 L364.6,39.4 L362.9,39.9 L361.1,40.2 L359.5,39.9 L358.2,39.3 L357.2,38.5 L356.2,37.9 L355.0,37.3 L354.0,36.4 L353.5,35.2 L353.8,33.9 L354.5,32.6 L355.4,31.4 L356.7,30.3 L358.2,29.5 L360.0,29.1 L361.7,29.1 L363.2,29.1 L364.8,29.3 L366.2,29.7 L367.3,30.5 L367.8,31.5Z" fill="#dedede" fill-opacity="0.55" stroke="#ababab" stroke-width="0.51"/>
<path d="M367.2,32.8 L367.1,33.8 L366.8,34.8 L366.4,35.7 L365.6,36.5 L364.7,37.3 L363.8,38.1 L362.6,38.9 L361.2,39.4 L359.6,39.5 L358.3,39.1 L357.3,38.4 L356.6,37.6 L355.9,36.9 L355.5,36.0 L355.5,35.0 L355.9,34.0 L356.4,33.1 L357.0,32.2 L357.8,31.3 L358.9,30.6 L360.3,30.1 L361.6,29.9 L363.0,29.8 L364.4,29.8 L365.8,30.1 L366.8,30.8 L367.2,31.8Z" fill="#c8c8c8" fill-opacity="0.85" stroke="#939393" stroke-width="0.57"/>
<path d="M365.6,33.3 L365.6,34.0 L365.7,34.7 L365.5,35.5 L365.0,36.2 L364.2,36.8 L363.3,37.3 L362.3,37.7 L361.2,38.0 L360.1,38.1 L359.1,37.9 L358.2,37.5 L357.5,37.0 L357.0,36.4 L356.6,35.7 L356.7,34.9 L357.2,34.1 L357.7,33.4 L358.2,32.8 L358.7,32.1 L359.5,31.4 L360.5,30.9 L361.6,30.7 L362.7,30.6 L363.8,30.8 L364.7,31.1 L365.4,31.7 L365.6,32.5Z" fill="#b0b0b0" fill-opacity="0.85" stroke="#7b7b7b" stroke-width="0.64"/>
<path d="M364.6,33.5 L364.7,34.1 L364.5,34.6 L364.3,35.1 L363.9,35.7 L363.5,36.2 L362.9,36.7 L362.1,37.0 L361.3,37.0 L360.5,36.9 L359.9,36.7 L359.3,36.4 L358.9,36.1 L358.6,35.7 L358.4,35.2 L358.2,34.7 L358.1,34.2 L358.2,33.6 L358.6,33.0 L359.3,32.6 L360.0,32.3 L360.8,32.0 L361.5,31.9 L362.3,31.9 L362.9,32.0 L363.5,32.3 L363.9,32.7 L364.3,33.1Z" fill="#969696" fill-opacity="0.85" stroke="#646464" stroke-width="0.70"/>
<g transform="translate(361.4,34.4) rotate(-15)"><ellipse rx="1.9" ry="1.6" fill="#d0d0d0" filter="url(#bs)"/></g>
<path d="M364.0,43.1 L364.3,44.3 L364.2,45.6 L363.8,46.9 L363.4,48.3 L362.5,49.8 L361.2,51.1 L359.5,52.2 L357.8,53.1 L355.9,53.9 L353.9,54.5 L352.1,54.4 L350.8,53.7 L350.2,52.4 L350.0,51.2 L349.7,50.1 L349.5,48.9 L349.6,47.7 L350.2,46.3 L351.0,44.9 L352.1,43.4 L353.6,41.9 L355.5,40.8 L357.5,40.4 L359.3,40.6 L360.7,41.1 L362.0,41.6 L363.2,42.2Z" fill="#f0f0f0" fill-opacity="0.55" stroke="#c3c3c3" stroke-width="0.45"/>
<path d="M363.3,43.5 L363.7,44.5 L364.0,45.6 L363.8,46.9 L363.0,48.3 L361.7,49.4 L360.3,50.3 L358.9,51.1 L357.5,51.9 L356.1,52.4 L354.6,52.6 L353.2,52.6 L351.8,52.6 L350.3,52.4 L349.2,51.6 L348.8,50.4 L349.3,49.0 L350.2,47.6 L351.1,46.4 L352.0,45.3 L353.1,44.2 L354.4,43.4 L355.9,42.7 L357.3,42.2 L358.9,41.7 L360.5,41.4 L361.9,41.7 L362.8,42.5Z" fill="#d9d9d9" fill-opacity="0.55" stroke="#a4a4a4" stroke-width="0.50"/>
<path d="M362.2,44.1 L362.6,45.0 L362.7,45.9 L362.7,47.0 L362.2,48.2 L361.3,49.3 L360.1,50.2 L358.7,50.8 L357.5,51.4 L356.1,51.9 L354.8,52.2 L353.7,52.0 L352.8,51.5 L352.2,50.9 L351.6,50.3 L351.0,49.6 L350.7,48.7 L350.9,47.6 L351.4,46.5 L352.1,45.3 L353.1,44.2 L354.4,43.3 L355.9,42.9 L357.2,42.8 L358.4,43.0 L359.4,43.1 L360.5,43.2 L361.5,43.5Z" fill="#bcbcbc" fill-opacity="0.85" stroke="#858585" stroke-width="0.55"/>
<path d="M361.5,44.5 L361.8,45.3 L361.9,46.1 L361.7,47.1 L361.2,48.0 L360.3,48.9 L359.3,49.5 L358.3,50.1 L357.3,50.6 L356.2,51.1 L355.2,51.2 L354.3,51.1 L353.5,50.7 L352.9,50.3 L352.2,49.9 L351.6,49.3 L351.5,48.5 L351.7,47.6 L352.2,46.6 L352.9,45.7 L353.8,44.9 L354.9,44.3 L356.1,44.0 L357.1,43.9 L358.0,43.9 L359.0,43.7 L360.0,43.7 L360.9,43.9Z" fill="#9c9c9c" fill-opacity="0.85" stroke="#666666" stroke-width="0.60"/>
<path d="M360.4,45.2 L360.7,45.7 L360.9,46.4 L360.7,47.1 L360.2,47.8 L359.5,48.5 L358.7,49.0 L358.0,49.5 L357.2,50.0 L356.3,50.3 L355.5,50.4 L354.8,50.2 L354.2,50.0 L353.6,49.8 L353.1,49.4 L352.7,48.9 L352.7,48.2 L352.8,47.5 L353.2,46.7 L353.7,46.0 L354.4,45.4 L355.3,44.9 L356.2,44.7 L357.0,44.6 L357.8,44.5 L358.6,44.4 L359.3,44.5 L360.0,44.7Z" fill="#797979" fill-opacity="0.85" stroke="#474747" stroke-width="0.65"/>
<path d="M359.4,45.8 L359.4,46.2 L359.4,46.7 L359.3,47.2 L359.0,47.7 L358.6,48.1 L358.2,48.6 L357.7,49.0 L357.1,49.4 L356.4,49.8 L355.7,49.9 L355.1,49.7 L354.7,49.5 L354.4,49.1 L354.1,48.8 L354.0,48.4 L354.0,47.9 L354.2,47.4 L354.4,46.9 L354.7,46.4 L355.1,45.9 L355.7,45.5 L356.3,45.2 L357.0,45.1 L357.6,45.0 L358.2,44.9 L358.8,45.0 L359.2,45.3Z" fill="#555555" fill-opacity="0.85" stroke="#282828" stroke-width="0.70"/>
<g transform="translate(356.7,47.3) rotate(-30)"><ellipse rx="2.5" ry="0.9" fill="#ececec" filter="url(#bs)"/></g>
<g transform="translate(354,122) rotate(-30)"><ellipse rx="17" ry="10" fill="#d8d8d8" opacity="0.35" filter="url(#bl)"/></g>
<path d="M338.1,111.8 L340.1,111.3 L342.1,109.7 L344.1,111.3 L345.8,111.0 L347.8,109.7 L350.0,110.3" fill="none" stroke="#bcbcbc" stroke-width="0.4"/>
<path d="M341.5,113.5 L343.9,113.5 L346.7,112.3 L348.5,113.4 L351.5,112.6" fill="none" stroke="#bcbcbc" stroke-width="0.4"/>
<path d="M340.6,115.1 L343.6,114.5 L345.6,113.9 L347.9,114.5" fill="none" stroke="#bcbcbc" stroke-width="0.4"/>
<path d="M339.1,116.7 L341.8,116.6 L344.3,114.5 L346.5,115.0 L348.4,114.6 L350.0,115.5" fill="none" stroke="#bcbcbc" stroke-width="0.4"/>
<path d="M341.8,116.0 L343.6,116.1 L346.4,116.8 L349.0,117.1" fill="none" stroke="#bcbcbc" stroke-width="0.4"/>
<path d="M339.9,119.2 L342.0,120.1 L343.9,118.2 L346.8,118.7 L348.4,119.7 L351.3,118.9 L353.0,119.8" fill="none" stroke="#bcbcbc" stroke-width="0.4"/>
<path d="M336.3,118.9 L337.9,119.2 L340.5,120.9 L342.3,119.9 L344.2,120.5 L346.4,120.1 L349.2,119.7" fill="none" stroke="#bcbcbc" stroke-width="0.4"/>
<path d="M348.00,112.00 C348.50,110.50 351.17,109.00 353.00,108.00 C354.83,107.00 356.83,106.17 359.00,106.00 C361.17,105.83 364.17,106.17 366.00,107.00 C367.83,107.83 369.50,109.17 370.00,111.00 C370.50,112.83 369.83,116.00 369.00,118.00 C368.17,120.00 366.17,121.00 365.00,123.00 C363.83,125.00 363.17,127.83 362.00,130.00 C360.83,132.17 359.83,134.83 358.00,136.00 C356.17,137.17 353.17,137.17 351.00,137.00 C348.83,136.83 345.83,136.33 345.00,135.00 C344.17,133.67 344.83,131.00 346.00,129.00 C347.17,127.00 351.33,125.00 352.00,123.00 C352.67,121.00 350.67,118.83 350.00,117.00 C349.33,115.17 347.50,113.50 348.00,112.00Z" fill="#eeeeee" fill-opacity="0.8" stroke="#a4a4a4" stroke-width="0.5"/>
<path d="M349.57,113.59 C349.98,112.36 352.17,111.13 353.67,110.31 C355.17,109.49 356.81,108.81 358.59,108.67 C360.37,108.54 362.83,108.81 364.33,109.49 C365.83,110.18 367.20,111.27 367.61,112.77 C368.02,114.28 367.47,116.87 366.79,118.51 C366.11,120.15 364.47,120.97 363.51,122.61 C362.55,124.25 362.01,126.58 361.05,128.35 C360.09,130.13 359.27,132.32 357.77,133.27 C356.27,134.23 353.81,134.23 352.03,134.09 C350.25,133.96 347.79,133.55 347.11,132.45 C346.43,131.36 346.97,129.17 347.93,127.53 C348.89,125.89 352.30,124.25 352.85,122.61 C353.40,120.97 351.76,119.20 351.21,117.69 C350.66,116.19 349.16,114.82 349.57,113.59Z" fill="#e2e2e2" fill-opacity="0.7" stroke="#9a9a9a" stroke-width="0.5"/>
<line x1="363.4" y1="130.7" x2="360.0" y2="131.3" stroke="#c8c8c8" stroke-width="0.4"/>
<line x1="368.6" y1="137.2" x2="368.7" y2="138.8" stroke="#c8c8c8" stroke-width="0.4"/>
<line x1="377.5" y1="127.4" x2="381.0" y2="128.7" stroke="#c8c8c8" stroke-width="0.4"/>
<line x1="356.6" y1="112.9" x2="356.0" y2="115.7" stroke="#c8c8c8" stroke-width="0.4"/>
<line x1="336.6" y1="111.8" x2="334.5" y2="112.4" stroke="#c8c8c8" stroke-width="0.4"/>
<line x1="369.7" y1="109.7" x2="372.9" y2="111.2" stroke="#c8c8c8" stroke-width="0.4"/>
<line x1="363.2" y1="108.6" x2="361.8" y2="109.2" stroke="#c8c8c8" stroke-width="0.4"/>
<line x1="345.2" y1="111.8" x2="341.6" y2="113.3" stroke="#c8c8c8" stroke-width="0.4"/>
<line x1="348.7" y1="138.6" x2="347.2" y2="141.0" stroke="#c8c8c8" stroke-width="0.4"/>
<line x1="345.0" y1="137.9" x2="341.8" y2="138.2" stroke="#c8c8c8" stroke-width="0.4"/>
<line x1="375.3" y1="114.8" x2="377.4" y2="116.0" stroke="#c8c8c8" stroke-width="0.4"/>
<line x1="342.4" y1="106.3" x2="341.7" y2="108.5" stroke="#c8c8c8" stroke-width="0.4"/>
<line x1="336.1" y1="128.4" x2="337.5" y2="130.3" stroke="#c8c8c8" stroke-width="0.4"/>
<line x1="372.0" y1="121.3" x2="372.2" y2="123.6" stroke="#c8c8c8" stroke-width="0.4"/>
<line x1="367.0" y1="106.1" x2="370.9" y2="106.3" stroke="#c8c8c8" stroke-width="0.4"/>
<line x1="369.0" y1="134.4" x2="367.8" y2="135.4" stroke="#c8c8c8" stroke-width="0.4"/>
<line x1="352.1" y1="124.8" x2="353.6" y2="125.0" stroke="#c8c8c8" stroke-width="0.4"/>
<line x1="344.0" y1="138.4" x2="342.5" y2="139.8" stroke="#c8c8c8" stroke-width="0.4"/>
<line x1="376.9" y1="137.9" x2="377.9" y2="140.0" stroke="#c8c8c8" stroke-width="0.4"/>
<line x1="359.1" y1="131.9" x2="357.8" y2="133.2" stroke="#c8c8c8" stroke-width="0.4"/>
<line x1="371.1" y1="134.9" x2="369.5" y2="135.2" stroke="#c8c8c8" stroke-width="0.4"/>
<line x1="340.0" y1="116.3" x2="337.1" y2="117.0" stroke="#c8c8c8" stroke-width="0.4"/>
<line x1="351.0" y1="137.3" x2="352.6" y2="139.7" stroke="#c8c8c8" stroke-width="0.4"/>
<line x1="349.9" y1="110.4" x2="351.5" y2="111.2" stroke="#c8c8c8" stroke-width="0.4"/>
<line x1="366.3" y1="139.9" x2="368.2" y2="140.2" stroke="#c8c8c8" stroke-width="0.4"/>
<line x1="379.4" y1="123.2" x2="381.3" y2="124.9" stroke="#c8c8c8" stroke-width="0.4"/>
<line x1="362.1" y1="133.7" x2="362.8" y2="136.3" stroke="#c8c8c8" stroke-width="0.4"/>
<line x1="338.5" y1="137.0" x2="338.5" y2="138.6" stroke="#c8c8c8" stroke-width="0.4"/>
<line x1="372.9" y1="108.7" x2="369.6" y2="109.2" stroke="#c8c8c8" stroke-width="0.4"/>
<line x1="363.7" y1="132.4" x2="364.1" y2="134.1" stroke="#c8c8c8" stroke-width="0.4"/>
<path d="M366,118 L371,125 L376,133" fill="none" stroke="#a8a8a8" stroke-width="0.45"/>
<path d="M362,122 L366,130 L370,137" fill="none" stroke="#a8a8a8" stroke-width="0.45"/>
<path d="M370,120 L376,126 L381,131" fill="none" stroke="#a8a8a8" stroke-width="0.45"/>
<path d="M371.3,111.7 L371.1,113.3 L370.1,114.8 L368.8,116.0 L367.7,117.2 L366.4,118.3 L364.8,119.2 L362.9,119.6 L361.0,119.5 L359.3,119.3 L357.6,119.0 L355.8,118.6 L354.3,117.7 L353.3,116.4 L352.8,115.0 L352.6,113.5 L352.8,111.9 L353.7,110.4 L355.4,109.3 L357.4,108.7 L359.2,108.4 L360.8,108.0 L362.5,107.5 L364.4,107.2 L366.3,107.4 L368.0,108.1 L369.4,109.0 L370.7,110.2Z" fill="#f0f0f0" fill-opacity="0.55" stroke="#c3c3c3" stroke-width="0.45"/>
<path d="M368.7,112.2 L368.7,113.4 L368.6,114.5 L368.2,115.8 L367.3,117.0 L365.9,117.8 L364.4,118.5 L362.8,118.9 L361.1,119.3 L359.3,119.2 L357.9,118.6 L356.9,117.6 L356.4,116.5 L355.9,115.5 L355.3,114.5 L354.9,113.4 L355.0,112.2 L355.5,111.0 L356.3,109.8 L357.4,108.7 L358.9,107.8 L360.8,107.5 L362.5,107.7 L364.0,108.3 L365.2,108.8 L366.5,109.4 L367.7,110.1 L368.4,111.0Z" fill="#dedede" fill-opacity="0.55" stroke="#ababab" stroke-width="0.51"/>
<path d="M367.6,112.4 L367.8,113.4 L367.6,114.4 L367.0,115.3 L366.1,116.2 L365.1,117.0 L364.0,117.7 L362.6,118.1 L361.2,118.1 L360.0,117.7 L359.0,117.1 L358.1,116.6 L357.3,116.0 L356.6,115.2 L356.2,114.4 L356.1,113.4 L356.0,112.4 L356.3,111.3 L357.0,110.3 L358.2,109.5 L359.7,109.2 L361.1,109.2 L362.3,109.2 L363.6,109.2 L364.7,109.5 L365.7,110.0 L366.5,110.8 L367.0,111.5Z" fill="#c8c8c8" fill-opacity="0.85" stroke="#939393" stroke-width="0.57"/>
<path d="M365.8,112.7 L365.8,113.4 L365.7,114.1 L365.6,114.8 L365.2,115.6 L364.4,116.2 L363.5,116.7 L362.4,117.0 L361.3,117.2 L360.3,117.0 L359.4,116.5 L358.8,115.9 L358.4,115.4 L357.9,114.8 L357.5,114.2 L357.3,113.4 L357.5,112.7 L358.0,112.0 L358.6,111.3 L359.3,110.7 L360.1,110.2 L361.2,109.9 L362.2,109.8 L363.3,110.0 L364.2,110.2 L365.1,110.6 L365.7,111.2 L365.9,111.9Z" fill="#b0b0b0" fill-opacity="0.85" stroke="#7b7b7b" stroke-width="0.64"/>
<path d="M364.9,112.9 L364.9,113.4 L364.6,113.9 L364.3,114.3 L363.8,114.7 L363.4,115.1 L362.9,115.6 L362.2,115.9 L361.5,116.0 L360.7,115.9 L360.1,115.7 L359.5,115.3 L359.1,114.9 L358.9,114.4 L358.8,113.9 L358.9,113.4 L359.0,112.9 L359.2,112.4 L359.5,111.9 L360.0,111.5 L360.7,111.3 L361.4,111.1 L362.1,111.0 L362.8,110.9 L363.6,111.1 L364.1,111.4 L364.5,111.8 L364.8,112.3Z" fill="#969696" fill-opacity="0.85" stroke="#646464" stroke-width="0.70"/>
<g transform="translate(361.8,113.4) rotate(-10)"><ellipse rx="1.7" ry="1.6" fill="#d4d4d4" filter="url(#bs)"/></g>
<path d="M360.7,126.4 L361.8,127.4 L362.4,128.8 L362.2,130.5 L360.9,132.3 L359.1,133.8 L357.3,135.0 L355.5,136.2 L353.7,137.2 L351.7,137.7 L349.9,137.8 L348.3,137.6 L346.8,137.3 L345.3,136.8 L344.2,135.9 L343.7,134.7 L343.8,133.2 L344.1,131.6 L344.5,129.9 L345.5,128.2 L347.2,126.6 L349.4,125.6 L351.5,125.1 L353.4,124.9 L355.1,124.8 L356.8,124.7 L358.3,125.0 L359.5,125.7Z" fill="#f0f0f0" fill-opacity="0.55" stroke="#c3c3c3" stroke-width="0.45"/>
<path d="M359.9,126.9 L360.0,128.1 L359.8,129.4 L359.6,130.7 L359.0,132.0 L358.0,133.3 L356.5,134.4 L355.0,135.3 L353.5,136.3 L351.8,137.2 L349.9,138.0 L348.0,138.0 L346.7,137.4 L345.8,136.4 L345.3,135.3 L345.1,134.1 L345.4,132.8 L346.1,131.5 L346.9,130.3 L347.7,129.0 L348.5,127.7 L349.8,126.3 L351.6,125.2 L353.4,124.7 L355.2,124.7 L356.7,124.8 L358.2,125.1 L359.3,125.8Z" fill="#d9d9d9" fill-opacity="0.55" stroke="#a4a4a4" stroke-width="0.50"/>
<path d="M358.7,127.6 L359.5,128.3 L359.7,129.4 L359.2,130.7 L358.3,131.9 L357.4,133.1 L356.3,134.2 L355.0,135.2 L353.4,135.8 L352.0,136.0 L350.6,136.1 L349.3,136.1 L348.2,135.8 L347.3,135.2 L346.8,134.4 L346.5,133.5 L346.2,132.6 L346.0,131.5 L346.3,130.2 L347.3,128.9 L348.7,127.9 L350.3,127.1 L351.8,126.6 L353.2,126.2 L354.6,126.2 L355.7,126.4 L356.7,126.8 L357.7,127.1Z" fill="#bcbcbc" fill-opacity="0.85" stroke="#858585" stroke-width="0.55"/>
<path d="M358.2,127.9 L358.2,128.9 L357.8,129.9 L357.4,130.8 L356.9,131.7 L356.2,132.6 L355.3,133.4 L354.3,134.1 L353.3,134.8 L352.0,135.5 L350.7,135.9 L349.4,135.9 L348.5,135.5 L348.0,134.7 L347.6,134.0 L347.3,133.2 L347.3,132.3 L347.6,131.4 L348.2,130.5 L349.0,129.6 L349.8,128.7 L350.8,127.9 L351.9,127.3 L353.1,126.9 L354.3,126.8 L355.5,126.7 L356.6,126.8 L357.6,127.1Z" fill="#9c9c9c" fill-opacity="0.85" stroke="#666666" stroke-width="0.60"/>
<path d="M356.5,128.8 L356.6,129.5 L356.6,130.2 L356.5,130.9 L356.2,131.6 L355.7,132.4 L354.9,133.1 L354.1,133.6 L353.1,134.1 L352.1,134.6 L351.1,134.9 L350.2,134.8 L349.5,134.4 L349.1,133.8 L348.9,133.2 L348.7,132.7 L348.6,132.0 L348.8,131.3 L349.2,130.6 L349.6,129.9 L350.2,129.1 L351.0,128.3 L352.0,127.8 L353.1,127.6 L354.0,127.6 L354.8,127.8 L355.5,128.0 L356.2,128.3Z" fill="#797979" fill-opacity="0.85" stroke="#474747" stroke-width="0.65"/>
<path d="M355.7,129.3 L356.0,129.7 L356.0,130.3 L355.7,130.9 L355.4,131.5 L354.9,132.1 L354.3,132.6 L353.7,132.9 L353.0,133.2 L352.3,133.3 L351.6,133.5 L351.0,133.6 L350.4,133.4 L350.0,133.1 L349.7,132.7 L349.5,132.3 L349.4,131.8 L349.4,131.3 L349.7,130.7 L350.2,130.1 L350.8,129.6 L351.5,129.2 L352.2,128.9 L352.9,128.8 L353.5,128.8 L354.1,128.9 L354.6,129.0 L355.2,129.1Z" fill="#555555" fill-opacity="0.85" stroke="#282828" stroke-width="0.70"/>
<g transform="translate(352.6,131.1) rotate(-30)"><ellipse rx="2.8" ry="1.0" fill="#e8e8e8" filter="url(#bs)"/></g>
<g transform="translate(359,200) rotate(-40)"><ellipse rx="14" ry="10" fill="#d8d8d8" opacity="0.35" filter="url(#bl)"/></g>
<path d="M346.4,191.5 L349.1,189.2 L351.8,191.1 L353.6,191.6 L355.7,190.2" fill="none" stroke="#bcbcbc" stroke-width="0.4"/>
<path d="M345.5,192.3 L347.2,191.7 L349.4,191.2 L351.4,193.1 L353.2,192.1" fill="none" stroke="#bcbcbc" stroke-width="0.4"/>
<path d="M341.6,195.0 L343.8,194.5 L346.2,194.4 L348.3,193.5 L350.0,193.6 L351.9,193.9 L354.7,193.6" fill="none" stroke="#bcbcbc" stroke-width="0.4"/>
<path d="M341.8,196.8 L344.4,196.8 L346.8,195.5 L348.8,196.0 L350.7,195.7" fill="none" stroke="#bcbcbc" stroke-width="0.4"/>
<path d="M346.2,197.3 L348.6,198.9 L350.9,197.1 L352.6,198.4" fill="none" stroke="#bcbcbc" stroke-width="0.4"/>
<path d="M350.00,192.00 C350.50,190.33 353.17,188.17 355.00,187.00 C356.83,185.83 358.83,185.17 361.00,185.00 C363.17,184.83 366.17,185.17 368.00,186.00 C369.83,186.83 371.50,188.00 372.00,190.00 C372.50,192.00 372.00,196.00 371.00,198.00 C370.00,200.00 367.50,200.50 366.00,202.00 C364.50,203.50 363.50,205.17 362.00,207.00 C360.50,208.83 359.00,212.00 357.00,213.00 C355.00,214.00 351.67,213.67 350.00,213.00 C348.33,212.33 346.83,210.83 347.00,209.00 C347.17,207.17 350.17,204.00 351.00,202.00 C351.83,200.00 352.17,198.67 352.00,197.00 C351.83,195.33 349.50,193.67 350.00,192.00Z" fill="#eeeeee" fill-opacity="0.8" stroke="#a4a4a4" stroke-width="0.5"/>
<path d="M351.55,193.18 C351.96,191.81 354.15,190.03 355.65,189.08 C357.15,188.12 358.79,187.57 360.57,187.44 C362.35,187.30 364.81,187.57 366.31,188.26 C367.81,188.94 369.18,189.90 369.59,191.54 C370.00,193.18 369.59,196.46 368.77,198.10 C367.95,199.74 365.90,200.15 364.67,201.38 C363.44,202.61 362.62,203.97 361.39,205.48 C360.16,206.98 358.93,209.58 357.29,210.40 C355.65,211.22 352.92,210.94 351.55,210.40 C350.18,209.85 348.95,208.62 349.09,207.12 C349.23,205.61 351.69,203.02 352.37,201.38 C353.05,199.74 353.33,198.64 353.19,197.28 C353.05,195.91 351.14,194.54 351.55,193.18Z" fill="#e2e2e2" fill-opacity="0.7" stroke="#9a9a9a" stroke-width="0.5"/>
<line x1="371.7" y1="210.3" x2="373.6" y2="212.3" stroke="#c8c8c8" stroke-width="0.4"/>
<line x1="340.0" y1="205.2" x2="338.1" y2="207.0" stroke="#c8c8c8" stroke-width="0.4"/>
<line x1="354.9" y1="208.6" x2="353.2" y2="209.9" stroke="#c8c8c8" stroke-width="0.4"/>
<line x1="369.2" y1="197.2" x2="367.7" y2="199.6" stroke="#c8c8c8" stroke-width="0.4"/>
<line x1="347.7" y1="201.7" x2="350.1" y2="204.3" stroke="#c8c8c8" stroke-width="0.4"/>
<line x1="372.1" y1="205.9" x2="373.9" y2="209.1" stroke="#c8c8c8" stroke-width="0.4"/>
<line x1="343.7" y1="209.6" x2="344.3" y2="213.1" stroke="#c8c8c8" stroke-width="0.4"/>
<line x1="343.8" y1="190.3" x2="345.6" y2="192.8" stroke="#c8c8c8" stroke-width="0.4"/>
<line x1="378.1" y1="202.8" x2="377.1" y2="204.6" stroke="#c8c8c8" stroke-width="0.4"/>
<line x1="354.4" y1="213.8" x2="354.2" y2="217.6" stroke="#c8c8c8" stroke-width="0.4"/>
<line x1="365.8" y1="206.3" x2="362.3" y2="206.6" stroke="#c8c8c8" stroke-width="0.4"/>
<line x1="341.1" y1="195.6" x2="342.9" y2="198.0" stroke="#c8c8c8" stroke-width="0.4"/>
<line x1="363.6" y1="186.9" x2="363.3" y2="190.6" stroke="#c8c8c8" stroke-width="0.4"/>
<line x1="344.7" y1="205.2" x2="346.5" y2="206.5" stroke="#c8c8c8" stroke-width="0.4"/>
<line x1="359.3" y1="188.4" x2="357.5" y2="189.3" stroke="#c8c8c8" stroke-width="0.4"/>
<line x1="367.9" y1="184.4" x2="371.4" y2="184.6" stroke="#c8c8c8" stroke-width="0.4"/>
<line x1="353.3" y1="212.9" x2="355.1" y2="215.4" stroke="#c8c8c8" stroke-width="0.4"/>
<line x1="355.1" y1="196.5" x2="353.3" y2="196.5" stroke="#c8c8c8" stroke-width="0.4"/>
<line x1="342.2" y1="197.5" x2="343.2" y2="200.7" stroke="#c8c8c8" stroke-width="0.4"/>
<line x1="379.2" y1="191.8" x2="375.5" y2="193.2" stroke="#c8c8c8" stroke-width="0.4"/>
<line x1="366.8" y1="212.5" x2="364.6" y2="213.8" stroke="#c8c8c8" stroke-width="0.4"/>
<line x1="371.8" y1="200.5" x2="370.2" y2="202.7" stroke="#c8c8c8" stroke-width="0.4"/>
<path d="M366,199 L370,205 L373,211" fill="none" stroke="#b8b8b8" stroke-width="0.45"/>
<path d="M370,196 L375,202 L379,208" fill="none" stroke="#b8b8b8" stroke-width="0.45"/>
<path d="M372.4,190.4 L372.5,192.4 L372.3,194.4 L371.6,196.4 L370.4,198.1 L369.0,199.6 L367.3,201.1 L365.3,202.2 L363.0,202.8 L360.6,202.6 L358.4,201.8 L356.6,200.7 L354.8,199.4 L353.4,197.7 L352.6,195.7 L352.6,193.6 L353.2,191.5 L354.0,189.6 L355.1,187.9 L356.6,186.3 L358.4,185.1 L360.5,184.3 L362.7,183.8 L365.0,183.5 L367.4,183.7 L369.6,184.6 L371.2,186.3 L372.0,188.3Z" fill="#ececec" fill-opacity="0.6" stroke="#c4c4c4" stroke-width="0.5"/>
<path d="M371.5,190.7 L371.6,192.5 L371.2,194.3 L370.5,195.9 L369.3,197.3 L367.8,198.4 L366.3,199.3 L364.7,200.2 L362.9,200.9 L361.0,201.0 L359.1,200.5 L357.5,199.5 L356.1,198.3 L355.0,196.9 L354.2,195.3 L354.0,193.5 L354.4,191.7 L355.2,190.1 L356.2,188.6 L357.5,187.3 L359.1,186.3 L360.9,185.8 L362.7,185.7 L364.5,185.7 L366.4,185.8 L368.3,186.3 L369.9,187.3 L371.0,188.9Z" fill="#d8d8d8" fill-opacity="0.8" stroke="#a8a8a8" stroke-width="0.5"/>
<path d="M370.2,191.0 L370.0,192.6 L369.5,194.0 L369.0,195.4 L368.3,196.7 L367.3,197.8 L366.0,198.8 L364.5,199.5 L362.9,199.9 L361.2,200.1 L359.5,199.7 L358.0,198.9 L357.0,197.6 L356.4,196.2 L355.8,194.9 L355.5,193.4 L355.6,191.9 L356.2,190.5 L357.2,189.3 L358.3,188.2 L359.6,187.3 L361.1,186.5 L362.7,186.2 L364.3,186.2 L365.9,186.6 L367.5,187.2 L368.8,188.2 L369.8,189.5Z" fill="#bdbdbd" fill-opacity="0.9" stroke="#8c8c8c" stroke-width="0.5"/>
<g transform="translate(362.8,193.0) rotate(-15)" filter="url(#bs)"><ellipse rx="6.6" ry="6.0" fill="#8e8e8e" stroke="#404040" stroke-width="0.8"/><ellipse cy="-1.80" rx="4.75" ry="3.00" fill="#4e4e4e"/><ellipse cy="1.20" rx="4.09" ry="3.00" fill="#a8a8a8"/><ellipse cx="0.00" cy="-2.70" rx="1.72" ry="1.20" fill="#f4f4f4"/></g>
<path d="M361.4,202.5 L362.4,203.1 L362.8,204.3 L362.4,205.8 L361.6,207.3 L360.7,208.8 L359.6,210.3 L358.3,211.7 L356.7,212.8 L355.0,213.4 L353.5,213.7 L352.1,213.9 L350.8,213.9 L349.7,213.6 L349.0,212.8 L348.5,211.9 L348.0,211.0 L347.6,209.8 L347.7,208.3 L348.6,206.6 L350.1,205.1 L351.8,204.0 L353.4,203.1 L355.0,202.4 L356.4,202.0 L357.8,201.9 L358.9,202.1 L360.1,202.2Z" fill="#f0f0f0" fill-opacity="0.55" stroke="#c3c3c3" stroke-width="0.45"/>
<path d="M360.8,202.9 L361.3,203.8 L361.4,204.9 L360.9,206.2 L360.2,207.4 L359.4,208.6 L358.6,209.8 L357.6,210.9 L356.4,211.9 L355.0,212.5 L353.8,212.8 L352.5,213.1 L351.2,213.4 L349.9,213.3 L349.0,212.8 L348.6,211.8 L348.6,210.7 L348.8,209.5 L349.3,208.2 L350.3,206.9 L351.5,205.9 L352.7,205.1 L353.8,204.3 L355.0,203.3 L356.3,202.4 L357.8,201.9 L359.1,201.9 L360.1,202.3Z" fill="#d2d2d2" fill-opacity="0.55" stroke="#9c9c9c" stroke-width="0.51"/>
<path d="M359.9,203.7 L360.1,204.6 L359.8,205.6 L359.4,206.6 L359.1,207.5 L358.7,208.5 L358.1,209.5 L357.2,210.4 L356.1,211.1 L355.0,211.7 L353.9,212.2 L352.7,212.6 L351.7,212.6 L350.9,212.3 L350.3,211.7 L350.0,211.0 L349.8,210.2 L350.0,209.2 L350.6,208.1 L351.4,207.1 L352.3,206.3 L353.0,205.5 L353.9,204.6 L355.0,203.7 L356.2,203.1 L357.3,202.9 L358.4,202.9 L359.3,203.1Z" fill="#acacac" fill-opacity="0.85" stroke="#757575" stroke-width="0.57"/>
<path d="M358.6,204.8 L359.1,205.2 L359.2,205.9 L359.1,206.7 L358.8,207.5 L358.3,208.4 L357.6,209.2 L356.7,209.9 L355.8,210.3 L355.0,210.7 L354.2,211.1 L353.3,211.4 L352.5,211.4 L352.0,211.1 L351.6,210.7 L351.3,210.2 L351.0,209.6 L350.9,208.9 L351.2,208.1 L351.7,207.2 L352.4,206.4 L353.2,205.7 L354.1,205.0 L355.0,204.6 L355.8,204.6 L356.5,204.6 L357.2,204.7 L357.9,204.7Z" fill="#828282" fill-opacity="0.85" stroke="#4e4e4e" stroke-width="0.64"/>
<path d="M357.7,205.5 L357.9,206.0 L358.0,206.5 L357.9,207.0 L357.7,207.6 L357.3,208.2 L356.8,208.8 L356.2,209.3 L355.6,209.7 L355.0,210.0 L354.4,210.3 L353.8,210.3 L353.3,210.3 L352.8,210.2 L352.3,210.1 L351.9,209.8 L351.8,209.3 L351.9,208.6 L352.3,208.0 L352.7,207.4 L353.2,206.8 L353.8,206.4 L354.4,206.0 L355.0,205.7 L355.6,205.4 L356.2,205.2 L356.9,205.0 L357.4,205.2Z" fill="#555555" fill-opacity="0.85" stroke="#282828" stroke-width="0.70"/>
<g transform="translate(355.0,207.8) rotate(-40)"><ellipse rx="3.1" ry="0.9" fill="#e6e6e6" filter="url(#bs)"/></g>
<g filter="url(#bs)"><path d="M241.25,58.90 C241.42,57.93 241.89,56.17 242.70,55.10 C243.51,54.03 244.90,53.13 246.10,52.45 C247.30,51.77 248.75,51.04 249.90,51.00 C251.05,50.96 252.36,51.52 253.00,52.20 C253.64,52.88 254.03,53.98 253.75,55.10 C253.47,56.22 252.31,57.86 251.35,58.90 C250.39,59.94 249.21,60.87 248.00,61.35 C246.79,61.83 245.15,61.88 244.10,61.80 C243.05,61.72 242.17,61.38 241.70,60.90 C241.22,60.42 241.08,59.87 241.25,58.90Z" fill="#0a0a8a"/><path d="M242.40,58.56 C242.53,57.79 242.91,56.38 243.56,55.52 C244.21,54.66 245.32,53.95 246.28,53.40 C247.24,52.85 248.40,52.27 249.32,52.24 C250.24,52.21 251.29,52.65 251.80,53.20 C252.31,53.75 252.62,54.63 252.40,55.52 C252.18,56.41 251.25,57.73 250.48,58.56 C249.71,59.39 248.77,60.13 247.80,60.52 C246.83,60.91 245.52,60.94 244.68,60.88 C243.84,60.82 243.14,60.55 242.76,60.16 C242.38,59.77 242.27,59.33 242.40,58.56Z" fill="#1c3af2"/><path d="M243.84,58.13 C243.93,57.60 244.19,56.64 244.63,56.05 C245.08,55.45 245.84,54.96 246.50,54.59 C247.16,54.21 247.96,53.81 248.59,53.79 C249.23,53.77 249.95,54.07 250.30,54.45 C250.65,54.83 250.86,55.43 250.71,56.05 C250.56,56.66 249.92,57.56 249.39,58.13 C248.87,58.71 248.21,59.22 247.55,59.48 C246.89,59.75 245.98,59.77 245.41,59.73 C244.83,59.69 244.35,59.50 244.08,59.23 C243.82,58.97 243.75,58.67 243.84,58.13Z" fill="#86d0ff"/><path d="M244.70,57.88 C244.77,57.49 244.96,56.79 245.28,56.36 C245.60,55.93 246.16,55.57 246.64,55.30 C247.12,55.03 247.70,54.74 248.16,54.72 C248.62,54.70 249.14,54.93 249.40,55.20 C249.66,55.47 249.81,55.91 249.70,56.36 C249.59,56.81 249.12,57.46 248.74,57.88 C248.36,58.30 247.88,58.67 247.40,58.86 C246.92,59.05 246.26,59.07 245.84,59.04 C245.42,59.01 245.07,58.87 244.88,58.68 C244.69,58.49 244.63,58.27 244.70,57.88Z" fill="#5cc034"/><ellipse cx="247.0" cy="57.2" rx="1.1" ry="0.8" transform="rotate(-35 247.0 57.2)" fill="#2a8a10"/></g>
<g filter="url(#bs)"><path d="M233.85,138.50 C234.00,137.32 234.93,135.78 236.00,134.80 C237.07,133.82 238.77,133.07 240.30,132.60 C241.83,132.13 243.87,131.79 245.20,132.00 C246.53,132.21 247.88,132.88 248.30,133.85 C248.72,134.82 248.42,136.67 247.70,137.85 C246.98,139.03 245.43,140.07 244.00,140.90 C242.57,141.73 240.58,142.64 239.10,142.80 C237.62,142.96 235.97,142.57 235.10,141.85 C234.22,141.13 233.70,139.68 233.85,138.50Z" fill="#0a0a8a"/><path d="M235.20,138.46 C235.32,137.52 236.06,136.29 236.92,135.50 C237.78,134.71 239.13,134.11 240.36,133.74 C241.59,133.37 243.21,133.09 244.28,133.26 C245.35,133.43 246.43,133.96 246.76,134.74 C247.09,135.52 246.85,137.00 246.28,137.94 C245.71,138.88 244.47,139.72 243.32,140.38 C242.17,141.04 240.59,141.77 239.40,141.90 C238.21,142.03 236.90,141.71 236.20,141.14 C235.50,140.57 235.08,139.40 235.20,138.46Z" fill="#1c3af2"/><path d="M236.89,138.41 C236.97,137.76 237.48,136.92 238.07,136.38 C238.66,135.83 239.59,135.42 240.44,135.16 C241.28,134.91 242.40,134.72 243.13,134.84 C243.86,134.95 244.61,135.32 244.84,135.85 C245.06,136.39 244.90,137.41 244.50,138.05 C244.11,138.70 243.26,139.28 242.47,139.73 C241.68,140.18 240.59,140.69 239.78,140.78 C238.96,140.86 238.06,140.65 237.57,140.25 C237.09,139.86 236.80,139.06 236.89,138.41Z" fill="#86d0ff"/><path d="M237.90,138.38 C237.96,137.91 238.33,137.29 238.76,136.90 C239.19,136.51 239.87,136.21 240.48,136.02 C241.09,135.83 241.91,135.70 242.44,135.78 C242.97,135.86 243.51,136.13 243.68,136.52 C243.85,136.91 243.73,137.65 243.44,138.12 C243.15,138.59 242.53,139.01 241.96,139.34 C241.39,139.67 240.59,140.04 240.00,140.10 C239.41,140.16 238.75,140.01 238.40,139.72 C238.05,139.43 237.84,138.85 237.90,138.38Z" fill="#5cc034"/><ellipse cx="240.6" cy="138.3" rx="1.1" ry="0.8" transform="rotate(-30 240.6 138.3)" fill="#2a8a10"/></g>
<g filter="url(#bs)"><path d="M239.80,213.60 C240.00,212.43 240.55,210.65 241.50,209.50 C242.45,208.35 244.05,207.42 245.50,206.70 C246.95,205.98 248.75,205.20 250.20,205.20 C251.65,205.20 253.43,205.88 254.20,206.70 C254.97,207.52 255.08,208.95 254.80,210.10 C254.52,211.25 253.57,212.53 252.50,213.60 C251.43,214.67 249.85,215.78 248.40,216.50 C246.95,217.22 245.15,217.90 243.80,217.90 C242.45,217.90 240.97,217.22 240.30,216.50 C239.63,215.78 239.60,214.77 239.80,213.60Z" fill="#0a0a8a"/><path d="M241.28,213.32 C241.44,212.39 241.88,210.96 242.64,210.04 C243.40,209.12 244.68,208.37 245.84,207.80 C247.00,207.23 248.44,206.60 249.60,206.60 C250.76,206.60 252.19,207.15 252.80,207.80 C253.41,208.45 253.51,209.60 253.28,210.52 C253.05,211.44 252.29,212.47 251.44,213.32 C250.59,214.17 249.32,215.07 248.16,215.64 C247.00,216.21 245.56,216.76 244.48,216.76 C243.40,216.76 242.21,216.21 241.68,215.64 C241.15,215.07 241.12,214.25 241.28,213.32Z" fill="#1c3af2"/><path d="M242.76,213.04 C242.88,212.34 243.21,211.27 243.78,210.58 C244.35,209.89 245.31,209.33 246.18,208.90 C247.05,208.47 248.13,208.00 249.00,208.00 C249.87,208.00 250.94,208.41 251.40,208.90 C251.86,209.39 251.93,210.25 251.76,210.94 C251.59,211.63 251.02,212.40 250.38,213.04 C249.74,213.68 248.79,214.35 247.92,214.78 C247.05,215.21 245.97,215.62 245.16,215.62 C244.35,215.62 243.46,215.21 243.06,214.78 C242.66,214.35 242.64,213.74 242.76,213.04Z" fill="#80e0ff"/><path d="M244.09,212.79 C244.18,212.30 244.41,211.55 244.81,211.07 C245.20,210.58 245.88,210.19 246.49,209.89 C247.09,209.59 247.85,209.26 248.46,209.26 C249.07,209.26 249.82,209.55 250.14,209.89 C250.46,210.23 250.51,210.83 250.39,211.32 C250.27,211.80 249.87,212.34 249.43,212.79 C248.98,213.24 248.31,213.70 247.70,214.01 C247.09,214.31 246.34,214.59 245.77,214.59 C245.20,214.59 244.58,214.31 244.30,214.01 C244.02,213.70 244.01,213.28 244.09,212.79Z" fill="#a8e070"/><ellipse cx="247.8" cy="211.4" rx="2.2" ry="1.1" transform="rotate(-55 247.8 211.4)" fill="#d8e040"/><ellipse cx="246.8" cy="213.2" rx="1.2" ry="1.0" transform="rotate(-30 246.8 213.2)" fill="#6a3008"/></g>
<g filter="url(#bs)"><path d="M483.85,59.40 C484.05,58.60 484.58,57.30 485.30,56.50 C486.02,55.70 487.23,55.32 488.20,54.60 C489.17,53.88 490.15,52.80 491.10,52.20 C492.05,51.60 492.87,51.16 493.90,51.00 C494.93,50.84 496.33,50.85 497.30,51.25 C498.27,51.65 499.33,52.52 499.70,53.40 C500.07,54.27 499.90,55.50 499.50,56.50 C499.10,57.50 498.23,58.52 497.30,59.40 C496.37,60.28 495.18,61.15 493.90,61.80 C492.62,62.45 490.95,63.10 489.60,63.30 C488.25,63.50 486.72,63.33 485.80,63.00 C484.88,62.67 484.43,61.90 484.10,61.30 C483.78,60.70 483.65,60.20 483.85,59.40Z" fill="#0a0a8a"/><path d="M485.44,59.04 C485.60,58.40 486.02,57.36 486.60,56.72 C487.18,56.08 488.15,55.77 488.92,55.20 C489.69,54.63 490.48,53.76 491.24,53.28 C492.00,52.80 492.65,52.45 493.48,52.32 C494.31,52.19 495.43,52.20 496.20,52.52 C496.97,52.84 497.83,53.54 498.12,54.24 C498.41,54.94 498.28,55.92 497.96,56.72 C497.64,57.52 496.95,58.33 496.20,59.04 C495.45,59.75 494.51,60.44 493.48,60.96 C492.45,61.48 491.12,62.00 490.04,62.16 C488.96,62.32 487.73,62.19 487.00,61.92 C486.27,61.65 485.90,61.04 485.64,60.56 C485.38,60.08 485.28,59.68 485.44,59.04Z" fill="#1c3af2"/><path d="M486.87,58.72 C487.00,58.22 487.32,57.41 487.77,56.92 C488.22,56.42 488.97,56.18 489.57,55.74 C490.17,55.30 490.78,54.62 491.37,54.25 C491.96,53.88 492.46,53.61 493.10,53.51 C493.74,53.41 494.61,53.42 495.21,53.66 C495.81,53.91 496.47,54.45 496.70,55.00 C496.93,55.54 496.82,56.30 496.57,56.92 C496.33,57.54 495.79,58.17 495.21,58.72 C494.63,59.26 493.90,59.80 493.10,60.20 C492.31,60.61 491.27,61.01 490.44,61.13 C489.60,61.26 488.65,61.15 488.08,60.95 C487.51,60.74 487.23,60.27 487.03,59.89 C486.82,59.52 486.75,59.21 486.87,58.72Z" fill="#7ee0ff"/><path d="M488.22,58.41 C488.31,58.05 488.55,57.47 488.88,57.11 C489.20,56.75 489.75,56.57 490.18,56.25 C490.62,55.93 491.06,55.44 491.49,55.17 C491.91,54.90 492.28,54.70 492.75,54.63 C493.21,54.56 493.84,54.56 494.28,54.74 C494.71,54.92 495.19,55.32 495.36,55.71 C495.52,56.10 495.44,56.66 495.26,57.11 C495.08,57.56 494.70,58.01 494.28,58.41 C493.86,58.81 493.32,59.20 492.75,59.49 C492.17,59.78 491.42,60.08 490.81,60.16 C490.20,60.25 489.51,60.18 489.10,60.03 C488.69,59.88 488.48,59.54 488.34,59.27 C488.19,58.99 488.13,58.77 488.22,58.41Z" fill="#a6e070"/><ellipse cx="493.6" cy="56.2" rx="2.2" ry="1.3" transform="rotate(-30 493.6 56.2)" fill="#dce038"/><ellipse cx="490.3" cy="59.2" rx="1.6" ry="1.0" transform="rotate(-25 490.3 59.2)" fill="#8a2a08"/></g>
<g filter="url(#bs)"><path d="M487.20,134.40 C487.43,133.43 488.45,132.72 489.50,131.80 C490.55,130.88 492.15,129.62 493.50,128.90 C494.85,128.18 496.25,127.60 497.60,127.50 C498.95,127.40 500.55,127.77 501.60,128.30 C502.65,128.83 503.60,129.63 503.90,130.70 C504.20,131.77 503.88,133.45 503.40,134.70 C502.92,135.95 502.07,137.38 501.00,138.20 C499.93,139.02 498.53,139.42 497.00,139.60 C495.47,139.78 493.28,139.63 491.80,139.30 C490.32,138.97 488.87,138.42 488.10,137.60 C487.33,136.78 486.97,135.37 487.20,134.40Z" fill="#0a0a8a"/><path d="M488.96,134.40 C489.15,133.63 489.96,133.05 490.80,132.32 C491.64,131.59 492.92,130.57 494.00,130.00 C495.08,129.43 496.20,128.96 497.28,128.88 C498.36,128.80 499.64,129.09 500.48,129.52 C501.32,129.95 502.08,130.59 502.32,131.44 C502.56,132.29 502.31,133.64 501.92,134.64 C501.53,135.64 500.85,136.79 500.00,137.44 C499.15,138.09 498.03,138.41 496.80,138.56 C495.57,138.71 493.83,138.59 492.64,138.32 C491.45,138.05 490.29,137.61 489.68,136.96 C489.07,136.31 488.77,135.17 488.96,134.40Z" fill="#1c3af2"/><path d="M490.54,134.40 C490.69,133.80 491.32,133.36 491.97,132.79 C492.62,132.22 493.61,131.43 494.45,130.99 C495.29,130.55 496.16,130.18 496.99,130.12 C497.83,130.06 498.82,130.29 499.47,130.62 C500.12,130.95 500.71,131.44 500.90,132.11 C501.08,132.77 500.89,133.81 500.59,134.59 C500.29,135.36 499.76,136.25 499.10,136.76 C498.44,137.26 497.57,137.51 496.62,137.62 C495.67,137.74 494.32,137.64 493.40,137.44 C492.48,137.23 491.58,136.89 491.10,136.38 C490.63,135.88 490.40,135.00 490.54,134.40Z" fill="#7ee0ff"/><path d="M492.04,134.40 C492.15,133.97 492.60,133.64 493.07,133.23 C493.55,132.82 494.27,132.25 494.88,131.93 C495.48,131.60 496.11,131.34 496.72,131.30 C497.33,131.25 498.05,131.42 498.52,131.66 C498.99,131.89 499.42,132.25 499.56,132.73 C499.69,133.21 499.55,133.97 499.33,134.53 C499.11,135.10 498.73,135.74 498.25,136.11 C497.77,136.48 497.14,136.66 496.45,136.74 C495.76,136.82 494.78,136.76 494.11,136.61 C493.44,136.46 492.79,136.21 492.44,135.84 C492.10,135.47 491.94,134.84 492.04,134.40Z" fill="#a6e070"/><ellipse cx="495.0" cy="134.2" rx="2.8" ry="1.5" transform="rotate(-20 495.0 134.2)" fill="#d8e040"/><ellipse cx="495.8" cy="135.3" rx="1.8" ry="0.9" transform="rotate(0 495.8 135.3)" fill="#8a3a08"/></g>
<g filter="url(#bs)"><path d="M484.30,213.60 C484.50,212.78 484.98,211.68 485.80,211.00 C486.62,210.32 488.10,210.08 489.20,209.50 C490.30,208.92 491.15,208.07 492.40,207.50 C493.65,206.93 495.30,206.20 496.70,206.10 C498.10,206.00 499.93,206.37 500.80,206.90 C501.67,207.43 502.00,208.38 501.90,209.30 C501.80,210.22 501.07,211.40 500.20,212.40 C499.33,213.40 498.05,214.48 496.70,215.30 C495.35,216.12 493.63,216.92 492.10,217.30 C490.57,217.68 488.75,217.83 487.50,217.60 C486.25,217.37 485.13,216.57 484.60,215.90 C484.07,215.23 484.10,214.42 484.30,213.60Z" fill="#0a0a8a"/><path d="M485.94,213.40 C486.10,212.75 486.49,211.87 487.14,211.32 C487.79,210.77 488.98,210.59 489.86,210.12 C490.74,209.65 491.42,208.97 492.42,208.52 C493.42,208.07 494.74,207.48 495.86,207.40 C496.98,207.32 498.45,207.61 499.14,208.04 C499.83,208.47 500.10,209.23 500.02,209.96 C499.94,210.69 499.35,211.64 498.66,212.44 C497.97,213.24 496.94,214.11 495.86,214.76 C494.78,215.41 493.41,216.05 492.18,216.36 C490.95,216.67 489.50,216.79 488.50,216.60 C487.50,216.41 486.61,215.77 486.18,215.24 C485.75,214.71 485.78,214.05 485.94,213.40Z" fill="#1c3af2"/><path d="M487.42,213.22 C487.54,212.71 487.84,212.03 488.35,211.61 C488.85,211.18 489.77,211.04 490.45,210.68 C491.14,210.32 491.66,209.79 492.44,209.44 C493.21,209.09 494.24,208.63 495.10,208.57 C495.97,208.51 497.11,208.74 497.65,209.07 C498.18,209.40 498.39,209.99 498.33,210.55 C498.27,211.12 497.81,211.86 497.27,212.48 C496.74,213.10 495.94,213.77 495.10,214.27 C494.27,214.78 493.20,215.28 492.25,215.51 C491.30,215.75 490.17,215.84 489.40,215.70 C488.62,215.56 487.93,215.06 487.60,214.65 C487.27,214.23 487.29,213.73 487.42,213.22Z" fill="#7ee0ff"/><path d="M488.81,213.05 C488.90,212.68 489.12,212.19 489.49,211.88 C489.85,211.57 490.52,211.47 491.01,211.20 C491.51,210.94 491.89,210.56 492.45,210.31 C493.02,210.05 493.76,209.72 494.39,209.67 C495.02,209.63 495.85,209.79 496.24,210.03 C496.62,210.28 496.78,210.70 496.73,211.12 C496.69,211.53 496.35,212.06 495.96,212.51 C495.57,212.96 495.00,213.45 494.39,213.81 C493.78,214.18 493.01,214.54 492.32,214.72 C491.63,214.89 490.81,214.95 490.25,214.85 C489.69,214.75 489.19,214.39 488.94,214.09 C488.70,213.78 488.72,213.42 488.81,213.05Z" fill="#a6e070"/><ellipse cx="492.3" cy="213.0" rx="2.6" ry="1.4" transform="rotate(-20 492.3 213.0)" fill="#d0e040"/><ellipse cx="492.1" cy="213.4" rx="1.5" ry="1.0" transform="rotate(-15 492.1 213.4)" fill="#7a2a08"/></g>
<text x="111.3" y="16.6" font-size="10" font-weight="normal" fill="#1a1a1a" text-anchor="start" stroke="#1a1a1a" stroke-width="0.12" >19.65%</text>
<text x="110.6" y="95.7" font-size="10" font-weight="normal" fill="#1a1a1a" text-anchor="start" stroke="#1a1a1a" stroke-width="0.12" >28.87%</text>
<text x="111.3" y="175.4" font-size="10" font-weight="normal" fill="#1a1a1a" text-anchor="start" stroke="#1a1a1a" stroke-width="0.12" >43.55%</text>
<text x="233.3" y="42.2" font-size="10" font-weight="normal" fill="#1a1a1a" text-anchor="start" stroke="#1a1a1a" stroke-width="0.12" >3.16%</text>
<text x="231.3" y="122.7" font-size="10" font-weight="normal" fill="#1a1a1a" text-anchor="start" stroke="#1a1a1a" stroke-width="0.12" >5.40%</text>
<text x="231.8" y="197.3" font-size="10" font-weight="normal" fill="#1a1a1a" text-anchor="start" stroke="#1a1a1a" stroke-width="0.12" >14.05%</text>
<text x="371.2" y="33.4" font-size="10" font-weight="normal" fill="#1a1a1a" text-anchor="start" stroke="#1a1a1a" stroke-width="0.12" >8.57%</text>
<text x="371.7" y="113.3" font-size="10" font-weight="normal" fill="#1a1a1a" text-anchor="start" stroke="#1a1a1a" stroke-width="0.12" >9.87%</text>
<text x="372.0" y="191.2" font-size="10" font-weight="normal" fill="#1a1a1a" text-anchor="start" stroke="#1a1a1a" stroke-width="0.12" >19.70%</text>
<text x="479.5" y="44.0" font-size="10" font-weight="normal" fill="#1a1a1a" text-anchor="start" stroke="#1a1a1a" stroke-width="0.12" >7.90%</text>
<text x="482.7" y="120.0" font-size="10" font-weight="normal" fill="#1a1a1a" text-anchor="start" stroke="#1a1a1a" stroke-width="0.12" >7.87%</text>
<text x="478.3" y="198.4" font-size="10" font-weight="normal" fill="#1a1a1a" text-anchor="start" stroke="#1a1a1a" stroke-width="0.12" >18.32%</text>
<rect x="121.7" y="283.5" width="330.6" height="167.10000000000002" fill="none" stroke="#666" stroke-width="1"/>
<line x1="163.9" y1="283.5" x2="163.9" y2="450.6" stroke="#8c8c8c" stroke-width="1.2"/>
<line x1="206.0" y1="283.5" x2="206.0" y2="450.6" stroke="#8c8c8c" stroke-width="1.2"/>
<line x1="284.7" y1="283.5" x2="284.7" y2="450.6" stroke="#8c8c8c" stroke-width="1.2"/>
<line x1="117.9" y1="398.4" x2="121.7" y2="398.4" stroke="#555" stroke-width="1"/>
<line x1="452.3" y1="398.4" x2="455.90000000000003" y2="398.4" stroke="#555" stroke-width="1"/>
<text x="112.4" y="402.4" font-size="11" font-weight="normal" fill="#222" text-anchor="end" stroke="#222" stroke-width="0.12" >5</text>
<line x1="117.9" y1="346.15" x2="121.7" y2="346.15" stroke="#555" stroke-width="1"/>
<line x1="452.3" y1="346.15" x2="455.90000000000003" y2="346.15" stroke="#555" stroke-width="1"/>
<text x="112.4" y="350.15" font-size="11" font-weight="normal" fill="#222" text-anchor="end" stroke="#222" stroke-width="0.12" >10</text>
<line x1="117.9" y1="293.9" x2="121.7" y2="293.9" stroke="#555" stroke-width="1"/>
<line x1="452.3" y1="293.9" x2="455.90000000000003" y2="293.9" stroke="#555" stroke-width="1"/>
<text x="112.4" y="297.9" font-size="11" font-weight="normal" fill="#222" text-anchor="end" stroke="#222" stroke-width="0.12" >15</text>
<line x1="117.7" y1="450.6" x2="121.7" y2="450.6" stroke="#555" stroke-width="1"/>
<line x1="145.7" y1="403.4" x2="145.7" y2="439.0" stroke="#161616" stroke-width="1.4"/>
<line x1="135.5" y1="403.4" x2="155.9" y2="403.4" stroke="#161616" stroke-width="1.4"/>
<line x1="135.5" y1="439.0" x2="155.9" y2="439.0" stroke="#161616" stroke-width="1.4"/>
<rect x="135.5" y="409.4" width="20.4" height="19.100000000000023" fill="#cbcbcb" stroke="#161616" stroke-width="1.4"/>
<circle cx="145.7" cy="416.4" r="2.05" fill="#000"/>
<line x1="226.2" y1="367.1" x2="226.2" y2="429.2" stroke="#161616" stroke-width="1.4"/>
<line x1="216.0" y1="367.1" x2="236.4" y2="367.1" stroke="#161616" stroke-width="1.4"/>
<line x1="216.0" y1="429.2" x2="236.4" y2="429.2" stroke="#161616" stroke-width="1.4"/>
<rect x="216.0" y="388.9" width="20.4" height="30.30000000000001" fill="#cbcbcb" stroke="#161616" stroke-width="1.4"/>
<circle cx="226.2" cy="402.1" r="2.05" fill="#000"/>
<line x1="266.4" y1="321.0" x2="266.4" y2="423.7" stroke="#161616" stroke-width="1.4"/>
<line x1="256.2" y1="321.0" x2="276.59999999999997" y2="321.0" stroke="#161616" stroke-width="1.4"/>
<line x1="256.2" y1="423.7" x2="276.59999999999997" y2="423.7" stroke="#161616" stroke-width="1.4"/>
<rect x="256.2" y="354.0" width="20.4" height="61.80000000000001" fill="#cbcbcb" stroke="#161616" stroke-width="1.4"/>
<circle cx="266.4" cy="394.2" r="2.05" fill="#000"/>
<line x1="307.2" y1="303.7" x2="307.2" y2="357.1" stroke="#161616" stroke-width="1.4"/>
<line x1="297.0" y1="303.7" x2="317.4" y2="303.7" stroke="#161616" stroke-width="1.4"/>
<line x1="297.0" y1="357.1" x2="317.4" y2="357.1" stroke="#161616" stroke-width="1.4"/>
<rect x="297.0" y="328.7" width="20.4" height="21.0" fill="#cbcbcb" stroke="#161616" stroke-width="1.4"/>
<circle cx="307.2" cy="344.0" r="2.05" fill="#000"/>
<line x1="347.6" y1="312.9" x2="347.6" y2="372.9" stroke="#161616" stroke-width="1.4"/>
<line x1="337.40000000000003" y1="312.9" x2="357.8" y2="312.9" stroke="#161616" stroke-width="1.4"/>
<line x1="337.40000000000003" y1="372.9" x2="357.8" y2="372.9" stroke="#161616" stroke-width="1.4"/>
<rect x="337.40000000000003" y="330.8" width="20.4" height="25.0" fill="#cbcbcb" stroke="#161616" stroke-width="1.4"/>
<circle cx="347.6" cy="340.8" r="2.05" fill="#000"/>
<line x1="388.0" y1="375.8" x2="388.0" y2="388.5" stroke="#161616" stroke-width="1.4"/>
<line x1="377.8" y1="375.8" x2="398.2" y2="375.8" stroke="#161616" stroke-width="1.4"/>
<line x1="377.8" y1="388.5" x2="398.2" y2="388.5" stroke="#161616" stroke-width="1.4"/>
<rect x="377.8" y="375.8" width="20.4" height="9.0" fill="#cbcbcb" stroke="#161616" stroke-width="1.4"/>
<circle cx="388.0" cy="375.5" r="2.05" fill="#000"/>
<line x1="175.8" y1="449.7" x2="196" y2="449.7" stroke="#111" stroke-width="1.3"/>
<circle cx="186" cy="449.3" r="1.3" fill="#000"/>
<line x1="417.6" y1="343.5" x2="438.6" y2="343.5" stroke="#111" stroke-width="2.6"/>
<circle cx="427.9" cy="343.8" r="1.3" fill="#000"/>
<circle cx="387.8" cy="316.0" r="1.7" fill="none" stroke="#6a8cc4" stroke-width="0.7"/>
<text x="145.0" y="462.6" font-size="11.3" font-weight="normal" fill="#111" text-anchor="middle" stroke="#111" stroke-width="0.12" >BL6</text>
<text x="186.4" y="462.6" font-size="11.3" font-weight="normal" fill="#111" text-anchor="middle" stroke="#111" stroke-width="0.12" >CD19ko</text>
<text x="226.6" y="462.6" font-size="11.3" font-weight="normal" fill="#111" text-anchor="middle" stroke="#111" stroke-width="0.12" >tg125</text>
<text x="267.2" y="462.6" font-size="11.3" font-weight="normal" fill="#111" text-anchor="middle" stroke="#111" stroke-width="0.12" >tg151</text>
<text x="307.6" y="462.6" font-size="11.3" font-weight="normal" fill="#111" text-anchor="middle" stroke="#111" stroke-width="0.12" >tg442</text>
<text x="347.8" y="462.6" font-size="11.3" font-weight="normal" fill="#111" text-anchor="middle" stroke="#111" stroke-width="0.12" >tg455</text>
<text x="388.2" y="462.6" font-size="11.3" font-weight="normal" fill="#111" text-anchor="middle" stroke="#111" stroke-width="0.12" >tg456</text>
<text x="428.2" y="462.6" font-size="11.3" font-weight="normal" fill="#111" text-anchor="middle" stroke="#111" stroke-width="0.12" >tg633</text>
<text transform="translate(89.8,367.5) rotate(-90)" font-size="13.75" fill="#111" text-anchor="middle" stroke="#111" stroke-width="0.12">% lymphocytes</text>
<text x="232" y="489.5" font-size="11" fill="#111" stroke="#111" stroke-width="0.12">CD19<tspan font-size="7" dy="-3.5">+</tspan><tspan dy="3.5">IgM</tspan><tspan font-size="7" dy="-3.5">+</tspan><tspan dy="3.5">IgD</tspan><tspan font-size="7" dy="-3.5">+</tspan><tspan dy="3.5">FSChi</tspan></text>
</svg>
</body></html>
